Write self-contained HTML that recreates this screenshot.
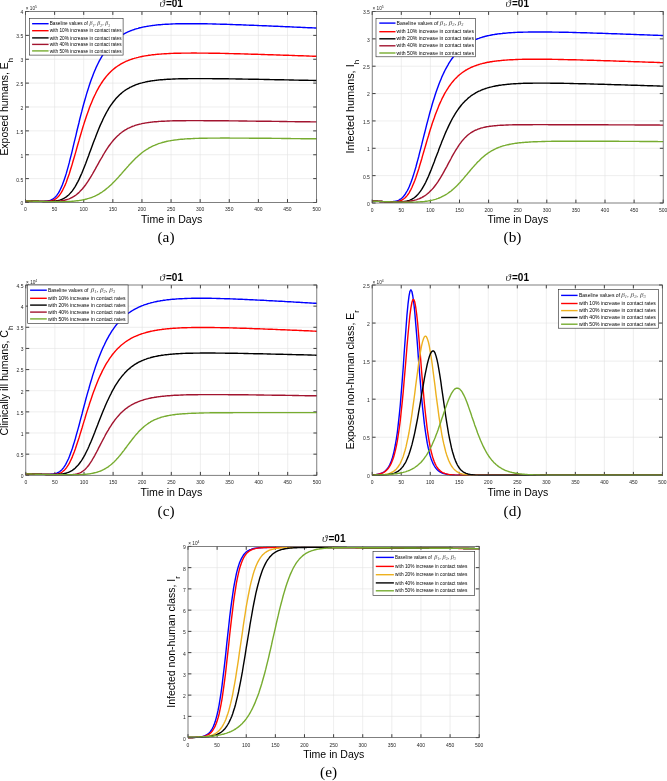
<!DOCTYPE html>
<html><head><meta charset="utf-8"><style>
html,body{margin:0;padding:0;background:#fff;}
svg{display:block;font-family:"Liberation Sans", sans-serif;}
body>svg{will-change:transform;}
</style></head><body>
<svg width="667" height="781" viewBox="0 0 667 781">
<rect width="667" height="781" fill="#fff"/>
<g><line x1="54.61" y1="11.50" x2="54.61" y2="202.50" stroke="#e2e2e2" stroke-width="0.6"/>
<line x1="83.72" y1="11.50" x2="83.72" y2="202.50" stroke="#e2e2e2" stroke-width="0.6"/>
<line x1="112.83" y1="11.50" x2="112.83" y2="202.50" stroke="#e2e2e2" stroke-width="0.6"/>
<line x1="141.94" y1="11.50" x2="141.94" y2="202.50" stroke="#e2e2e2" stroke-width="0.6"/>
<line x1="171.05" y1="11.50" x2="171.05" y2="202.50" stroke="#e2e2e2" stroke-width="0.6"/>
<line x1="200.16" y1="11.50" x2="200.16" y2="202.50" stroke="#e2e2e2" stroke-width="0.6"/>
<line x1="229.27" y1="11.50" x2="229.27" y2="202.50" stroke="#e2e2e2" stroke-width="0.6"/>
<line x1="258.38" y1="11.50" x2="258.38" y2="202.50" stroke="#e2e2e2" stroke-width="0.6"/>
<line x1="287.49" y1="11.50" x2="287.49" y2="202.50" stroke="#e2e2e2" stroke-width="0.6"/>
<line x1="25.50" y1="178.62" x2="316.60" y2="178.62" stroke="#e2e2e2" stroke-width="0.6"/>
<line x1="25.50" y1="154.75" x2="316.60" y2="154.75" stroke="#e2e2e2" stroke-width="0.6"/>
<line x1="25.50" y1="130.88" x2="316.60" y2="130.88" stroke="#e2e2e2" stroke-width="0.6"/>
<line x1="25.50" y1="107.00" x2="316.60" y2="107.00" stroke="#e2e2e2" stroke-width="0.6"/>
<line x1="25.50" y1="83.12" x2="316.60" y2="83.12" stroke="#e2e2e2" stroke-width="0.6"/>
<line x1="25.50" y1="59.25" x2="316.60" y2="59.25" stroke="#e2e2e2" stroke-width="0.6"/>
<line x1="25.50" y1="35.38" x2="316.60" y2="35.38" stroke="#e2e2e2" stroke-width="0.6"/>
<line x1="25.50" y1="202.50" x2="25.50" y2="199.10" stroke="#2a2a2a" stroke-width="0.9"/>
<line x1="25.50" y1="11.50" x2="25.50" y2="14.90" stroke="#2a2a2a" stroke-width="0.9"/>
<line x1="54.61" y1="202.50" x2="54.61" y2="199.10" stroke="#2a2a2a" stroke-width="0.9"/>
<line x1="54.61" y1="11.50" x2="54.61" y2="14.90" stroke="#2a2a2a" stroke-width="0.9"/>
<line x1="83.72" y1="202.50" x2="83.72" y2="199.10" stroke="#2a2a2a" stroke-width="0.9"/>
<line x1="83.72" y1="11.50" x2="83.72" y2="14.90" stroke="#2a2a2a" stroke-width="0.9"/>
<line x1="112.83" y1="202.50" x2="112.83" y2="199.10" stroke="#2a2a2a" stroke-width="0.9"/>
<line x1="112.83" y1="11.50" x2="112.83" y2="14.90" stroke="#2a2a2a" stroke-width="0.9"/>
<line x1="141.94" y1="202.50" x2="141.94" y2="199.10" stroke="#2a2a2a" stroke-width="0.9"/>
<line x1="141.94" y1="11.50" x2="141.94" y2="14.90" stroke="#2a2a2a" stroke-width="0.9"/>
<line x1="171.05" y1="202.50" x2="171.05" y2="199.10" stroke="#2a2a2a" stroke-width="0.9"/>
<line x1="171.05" y1="11.50" x2="171.05" y2="14.90" stroke="#2a2a2a" stroke-width="0.9"/>
<line x1="200.16" y1="202.50" x2="200.16" y2="199.10" stroke="#2a2a2a" stroke-width="0.9"/>
<line x1="200.16" y1="11.50" x2="200.16" y2="14.90" stroke="#2a2a2a" stroke-width="0.9"/>
<line x1="229.27" y1="202.50" x2="229.27" y2="199.10" stroke="#2a2a2a" stroke-width="0.9"/>
<line x1="229.27" y1="11.50" x2="229.27" y2="14.90" stroke="#2a2a2a" stroke-width="0.9"/>
<line x1="258.38" y1="202.50" x2="258.38" y2="199.10" stroke="#2a2a2a" stroke-width="0.9"/>
<line x1="258.38" y1="11.50" x2="258.38" y2="14.90" stroke="#2a2a2a" stroke-width="0.9"/>
<line x1="287.49" y1="202.50" x2="287.49" y2="199.10" stroke="#2a2a2a" stroke-width="0.9"/>
<line x1="287.49" y1="11.50" x2="287.49" y2="14.90" stroke="#2a2a2a" stroke-width="0.9"/>
<line x1="316.60" y1="202.50" x2="316.60" y2="199.10" stroke="#2a2a2a" stroke-width="0.9"/>
<line x1="316.60" y1="11.50" x2="316.60" y2="14.90" stroke="#2a2a2a" stroke-width="0.9"/>
<line x1="25.50" y1="202.50" x2="28.90" y2="202.50" stroke="#2a2a2a" stroke-width="0.9"/>
<line x1="316.60" y1="202.50" x2="313.20" y2="202.50" stroke="#2a2a2a" stroke-width="0.9"/>
<line x1="25.50" y1="178.62" x2="28.90" y2="178.62" stroke="#2a2a2a" stroke-width="0.9"/>
<line x1="316.60" y1="178.62" x2="313.20" y2="178.62" stroke="#2a2a2a" stroke-width="0.9"/>
<line x1="25.50" y1="154.75" x2="28.90" y2="154.75" stroke="#2a2a2a" stroke-width="0.9"/>
<line x1="316.60" y1="154.75" x2="313.20" y2="154.75" stroke="#2a2a2a" stroke-width="0.9"/>
<line x1="25.50" y1="130.88" x2="28.90" y2="130.88" stroke="#2a2a2a" stroke-width="0.9"/>
<line x1="316.60" y1="130.88" x2="313.20" y2="130.88" stroke="#2a2a2a" stroke-width="0.9"/>
<line x1="25.50" y1="107.00" x2="28.90" y2="107.00" stroke="#2a2a2a" stroke-width="0.9"/>
<line x1="316.60" y1="107.00" x2="313.20" y2="107.00" stroke="#2a2a2a" stroke-width="0.9"/>
<line x1="25.50" y1="83.12" x2="28.90" y2="83.12" stroke="#2a2a2a" stroke-width="0.9"/>
<line x1="316.60" y1="83.12" x2="313.20" y2="83.12" stroke="#2a2a2a" stroke-width="0.9"/>
<line x1="25.50" y1="59.25" x2="28.90" y2="59.25" stroke="#2a2a2a" stroke-width="0.9"/>
<line x1="316.60" y1="59.25" x2="313.20" y2="59.25" stroke="#2a2a2a" stroke-width="0.9"/>
<line x1="25.50" y1="35.38" x2="28.90" y2="35.38" stroke="#2a2a2a" stroke-width="0.9"/>
<line x1="316.60" y1="35.38" x2="313.20" y2="35.38" stroke="#2a2a2a" stroke-width="0.9"/>
<line x1="25.50" y1="11.50" x2="28.90" y2="11.50" stroke="#2a2a2a" stroke-width="0.9"/>
<line x1="316.60" y1="11.50" x2="313.20" y2="11.50" stroke="#2a2a2a" stroke-width="0.9"/>
<text x="25.50" y="211.40" font-size="5.0" text-anchor="middle" fill="#262626">0</text>
<text x="54.61" y="211.40" font-size="5.0" text-anchor="middle" fill="#262626">50</text>
<text x="83.72" y="211.40" font-size="5.0" text-anchor="middle" fill="#262626">100</text>
<text x="112.83" y="211.40" font-size="5.0" text-anchor="middle" fill="#262626">150</text>
<text x="141.94" y="211.40" font-size="5.0" text-anchor="middle" fill="#262626">200</text>
<text x="171.05" y="211.40" font-size="5.0" text-anchor="middle" fill="#262626">250</text>
<text x="200.16" y="211.40" font-size="5.0" text-anchor="middle" fill="#262626">300</text>
<text x="229.27" y="211.40" font-size="5.0" text-anchor="middle" fill="#262626">350</text>
<text x="258.38" y="211.40" font-size="5.0" text-anchor="middle" fill="#262626">400</text>
<text x="287.49" y="211.40" font-size="5.0" text-anchor="middle" fill="#262626">450</text>
<text x="316.60" y="211.40" font-size="5.0" text-anchor="middle" fill="#262626">500</text>
<text x="23.20" y="205.40" font-size="5.0" text-anchor="end" fill="#262626">0</text>
<text x="23.20" y="181.53" font-size="5.0" text-anchor="end" fill="#262626">0.5</text>
<text x="23.20" y="157.65" font-size="5.0" text-anchor="end" fill="#262626">1</text>
<text x="23.20" y="133.78" font-size="5.0" text-anchor="end" fill="#262626">1.5</text>
<text x="23.20" y="109.90" font-size="5.0" text-anchor="end" fill="#262626">2</text>
<text x="23.20" y="86.03" font-size="5.0" text-anchor="end" fill="#262626">2.5</text>
<text x="23.20" y="62.15" font-size="5.0" text-anchor="end" fill="#262626">3</text>
<text x="23.20" y="38.27" font-size="5.0" text-anchor="end" fill="#262626">3.5</text>
<text x="23.20" y="14.40" font-size="5.0" text-anchor="end" fill="#262626">4</text>
<text x="25.80" y="10.00" font-size="4.7" fill="#262626">× 10<tspan dy="-1.9" font-size="3.4">5</tspan></text>
<polyline points="25.5,200.8 26.5,200.9 27.4,200.9 28.4,201.0 29.4,201.0 30.4,201.0 31.3,201.1 32.3,201.1 33.3,201.2 34.2,201.2 35.2,201.2 36.2,201.3 37.1,201.3 38.1,201.3 39.1,201.4 40.1,201.4 41.0,201.4 42.0,201.4 43.0,201.4 43.9,201.4 44.9,201.3 45.9,201.2 46.8,201.1 47.8,201.0 48.8,200.8 49.8,200.5 50.7,200.2 51.7,199.7 52.7,199.2 53.6,198.5 54.6,197.7 55.6,196.8 56.6,195.6 57.5,194.3 58.5,192.9 59.5,191.2 60.4,189.3 61.4,187.1 62.4,184.8 63.3,182.3 64.3,179.5 65.3,176.5 66.3,173.4 67.2,170.1 68.2,166.6 69.2,162.9 70.1,159.2 71.1,155.3 72.1,151.3 73.0,147.3 74.0,143.2 75.0,139.2 76.0,135.1 76.9,131.0 77.9,127.0 78.9,123.0 79.8,119.0 80.8,115.1 81.8,111.4 82.7,107.7 83.7,104.0 84.7,100.5 85.7,97.1 86.6,93.9 87.6,90.7 88.6,87.6 89.5,84.7 90.5,81.8 91.5,79.1 92.5,76.5 93.4,74.0 94.4,71.6 95.4,69.3 96.3,67.1 97.3,65.0 98.3,63.0 99.2,61.1 100.2,59.3 101.2,57.6 102.2,55.9 103.1,54.3 104.1,52.8 105.1,51.4 106.0,50.0 107.0,48.7 108.0,47.5 108.9,46.3 109.9,45.2 110.9,44.1 111.9,43.1 112.8,42.2 113.8,41.2 114.8,40.4 115.7,39.5 116.7,38.7 117.7,38.0 118.7,37.3 119.6,36.6 120.6,35.9 121.6,35.3 122.5,34.7 123.5,34.2 124.5,33.6 125.4,33.1 126.4,32.6 127.4,32.2 128.4,31.7 129.3,31.3 130.3,30.9 131.3,30.5 132.2,30.2 133.2,29.8 134.2,29.5 135.1,29.2 136.1,28.9 137.1,28.6 138.1,28.3 139.0,28.0 140.0,27.8 141.0,27.6 141.9,27.3 142.9,27.1 143.9,26.9 144.9,26.7 145.8,26.6 146.8,26.4 147.8,26.2 148.7,26.1 149.7,25.9 150.7,25.8 151.6,25.6 152.6,25.5 153.6,25.4 154.6,25.3 155.5,25.1 156.5,25.0 157.5,24.9 158.4,24.8 159.4,24.8 160.4,24.7 161.3,24.6 162.3,24.5 163.3,24.4 164.3,24.4 165.2,24.3 166.2,24.3 167.2,24.2 168.1,24.2 169.1,24.1 170.1,24.1 171.1,24.0 172.0,24.0 173.0,23.9 174.0,23.9 174.9,23.9 175.9,23.8 176.9,23.8 177.8,23.8 178.8,23.8 179.8,23.8 180.8,23.7 181.7,23.7 182.7,23.7 183.7,23.7 184.6,23.7 185.6,23.7 186.6,23.7 187.5,23.7 188.5,23.7 189.5,23.7 190.5,23.7 191.4,23.7 192.4,23.7 193.4,23.7 194.3,23.7 195.3,23.7 196.3,23.7 197.2,23.7 198.2,23.7 199.2,23.7 200.2,23.7 201.1,23.7 202.1,23.8 203.1,23.8 204.0,23.8 205.0,23.8 206.0,23.8 207.0,23.8 207.9,23.9 208.9,23.9 209.9,23.9 210.8,23.9 211.8,23.9 212.8,24.0 213.7,24.0 214.7,24.0 215.7,24.0 216.7,24.1 217.6,24.1 218.6,24.1 219.6,24.1 220.5,24.2 221.5,24.2 222.5,24.2 223.4,24.3 224.4,24.3 225.4,24.3 226.4,24.3 227.3,24.4 228.3,24.4 229.3,24.4 230.2,24.5 231.2,24.5 232.2,24.5 233.2,24.6 234.1,24.6 235.1,24.6 236.1,24.7 237.0,24.7 238.0,24.7 239.0,24.8 239.9,24.8 240.9,24.8 241.9,24.9 242.9,24.9 243.8,25.0 244.8,25.0 245.8,25.0 246.7,25.1 247.7,25.1 248.7,25.1 249.6,25.2 250.6,25.2 251.6,25.2 252.6,25.3 253.5,25.3 254.5,25.4 255.5,25.4 256.4,25.4 257.4,25.5 258.4,25.5 259.4,25.6 260.3,25.6 261.3,25.6 262.3,25.7 263.2,25.7 264.2,25.8 265.2,25.8 266.1,25.8 267.1,25.9 268.1,25.9 269.1,26.0 270.0,26.0 271.0,26.0 272.0,26.1 272.9,26.1 273.9,26.2 274.9,26.2 275.8,26.3 276.8,26.3 277.8,26.3 278.8,26.4 279.7,26.4 280.7,26.5 281.7,26.5 282.6,26.5 283.6,26.6 284.6,26.6 285.5,26.7 286.5,26.7 287.5,26.8 288.5,26.8 289.4,26.8 290.4,26.9 291.4,26.9 292.3,27.0 293.3,27.0 294.3,27.1 295.3,27.1 296.2,27.1 297.2,27.2 298.2,27.2 299.1,27.3 300.1,27.3 301.1,27.4 302.0,27.4 303.0,27.5 304.0,27.5 305.0,27.5 305.9,27.6 306.9,27.6 307.9,27.7 308.8,27.7 309.8,27.8 310.8,27.8 311.7,27.8 312.7,27.9 313.7,27.9 314.7,28.0 315.6,28.0 316.6,28.1" fill="none" stroke="#0000ff" stroke-width="1.4" stroke-linejoin="round"/>
<polyline points="25.5,200.8 26.5,200.9 27.4,200.9 28.4,201.0 29.4,201.0 30.4,201.0 31.3,201.1 32.3,201.1 33.3,201.2 34.2,201.2 35.2,201.2 36.2,201.3 37.1,201.3 38.1,201.3 39.1,201.4 40.1,201.4 41.0,201.4 42.0,201.4 43.0,201.4 43.9,201.5 44.9,201.4 45.9,201.4 46.8,201.4 47.8,201.3 48.8,201.2 49.8,201.1 50.7,200.9 51.7,200.7 52.7,200.4 53.6,200.0 54.6,199.5 55.6,198.9 56.6,198.2 57.5,197.3 58.5,196.4 59.5,195.2 60.4,193.9 61.4,192.4 62.4,190.7 63.3,188.8 64.3,186.8 65.3,184.6 66.3,182.2 67.2,179.6 68.2,176.8 69.2,174.0 70.1,171.0 71.1,167.8 72.1,164.6 73.0,161.3 74.0,158.0 75.0,154.6 76.0,151.1 76.9,147.7 77.9,144.3 78.9,140.9 79.8,137.5 80.8,134.2 81.8,130.9 82.7,127.7 83.7,124.6 84.7,121.5 85.7,118.5 86.6,115.7 87.6,112.9 88.6,110.2 89.5,107.6 90.5,105.1 91.5,102.7 92.5,100.3 93.4,98.1 94.4,96.0 95.4,94.0 96.3,92.0 97.3,90.2 98.3,88.4 99.2,86.7 100.2,85.1 101.2,83.5 102.2,82.0 103.1,80.6 104.1,79.3 105.1,78.0 106.0,76.8 107.0,75.6 108.0,74.5 108.9,73.5 109.9,72.5 110.9,71.5 111.9,70.6 112.8,69.8 113.8,68.9 114.8,68.1 115.7,67.4 116.7,66.7 117.7,66.0 118.7,65.4 119.6,64.8 120.6,64.2 121.6,63.6 122.5,63.1 123.5,62.6 124.5,62.1 125.4,61.7 126.4,61.2 127.4,60.8 128.4,60.4 129.3,60.0 130.3,59.7 131.3,59.3 132.2,59.0 133.2,58.7 134.2,58.4 135.1,58.1 136.1,57.9 137.1,57.6 138.1,57.4 139.0,57.1 140.0,56.9 141.0,56.7 141.9,56.5 142.9,56.3 143.9,56.1 144.9,55.9 145.8,55.8 146.8,55.6 147.8,55.5 148.7,55.3 149.7,55.2 150.7,55.1 151.6,54.9 152.6,54.8 153.6,54.7 154.6,54.6 155.5,54.5 156.5,54.4 157.5,54.3 158.4,54.2 159.4,54.1 160.4,54.1 161.3,54.0 162.3,53.9 163.3,53.9 164.3,53.8 165.2,53.7 166.2,53.7 167.2,53.6 168.1,53.6 169.1,53.5 170.1,53.5 171.1,53.4 172.0,53.4 173.0,53.4 174.0,53.3 174.9,53.3 175.9,53.3 176.9,53.2 177.8,53.2 178.8,53.2 179.8,53.2 180.8,53.2 181.7,53.1 182.7,53.1 183.7,53.1 184.6,53.1 185.6,53.1 186.6,53.1 187.5,53.1 188.5,53.1 189.5,53.1 190.5,53.1 191.4,53.0 192.4,53.0 193.4,53.0 194.3,53.0 195.3,53.0 196.3,53.0 197.2,53.1 198.2,53.1 199.2,53.1 200.2,53.1 201.1,53.1 202.1,53.1 203.1,53.1 204.0,53.1 205.0,53.1 206.0,53.1 207.0,53.1 207.9,53.1 208.9,53.2 209.9,53.2 210.8,53.2 211.8,53.2 212.8,53.2 213.7,53.2 214.7,53.2 215.7,53.3 216.7,53.3 217.6,53.3 218.6,53.3 219.6,53.3 220.5,53.4 221.5,53.4 222.5,53.4 223.4,53.4 224.4,53.4 225.4,53.5 226.4,53.5 227.3,53.5 228.3,53.5 229.3,53.6 230.2,53.6 231.2,53.6 232.2,53.6 233.2,53.6 234.1,53.7 235.1,53.7 236.1,53.7 237.0,53.7 238.0,53.8 239.0,53.8 239.9,53.8 240.9,53.9 241.9,53.9 242.9,53.9 243.8,53.9 244.8,54.0 245.8,54.0 246.7,54.0 247.7,54.0 248.7,54.1 249.6,54.1 250.6,54.1 251.6,54.2 252.6,54.2 253.5,54.2 254.5,54.2 255.5,54.3 256.4,54.3 257.4,54.3 258.4,54.4 259.4,54.4 260.3,54.4 261.3,54.5 262.3,54.5 263.2,54.5 264.2,54.5 265.2,54.6 266.1,54.6 267.1,54.6 268.1,54.7 269.1,54.7 270.0,54.7 271.0,54.8 272.0,54.8 272.9,54.8 273.9,54.9 274.9,54.9 275.8,54.9 276.8,55.0 277.8,55.0 278.8,55.0 279.7,55.0 280.7,55.1 281.7,55.1 282.6,55.1 283.6,55.2 284.6,55.2 285.5,55.2 286.5,55.3 287.5,55.3 288.5,55.3 289.4,55.4 290.4,55.4 291.4,55.4 292.3,55.5 293.3,55.5 294.3,55.5 295.3,55.6 296.2,55.6 297.2,55.6 298.2,55.7 299.1,55.7 300.1,55.7 301.1,55.8 302.0,55.8 303.0,55.8 304.0,55.9 305.0,55.9 305.9,55.9 306.9,56.0 307.9,56.0 308.8,56.0 309.8,56.1 310.8,56.1 311.7,56.1 312.7,56.2 313.7,56.2 314.7,56.2 315.6,56.3 316.6,56.3" fill="none" stroke="#ff0000" stroke-width="1.4" stroke-linejoin="round"/>
<polyline points="25.5,200.8 26.5,200.9 27.4,200.9 28.4,201.0 29.4,201.0 30.4,201.0 31.3,201.1 32.3,201.1 33.3,201.2 34.2,201.2 35.2,201.2 36.2,201.3 37.1,201.3 38.1,201.3 39.1,201.4 40.1,201.4 41.0,201.4 42.0,201.4 43.0,201.5 43.9,201.5 44.9,201.5 45.9,201.5 46.8,201.5 47.8,201.5 48.8,201.5 49.8,201.5 50.7,201.4 51.7,201.4 52.7,201.3 53.6,201.2 54.6,201.1 55.6,201.0 56.6,200.8 57.5,200.6 58.5,200.4 59.5,200.2 60.4,199.9 61.4,199.5 62.4,199.1 63.3,198.6 64.3,198.1 65.3,197.5 66.3,196.9 67.2,196.1 68.2,195.3 69.2,194.4 70.1,193.4 71.1,192.3 72.1,191.1 73.0,189.8 74.0,188.3 75.0,186.8 76.0,185.2 76.9,183.4 77.9,181.6 78.9,179.6 79.8,177.6 80.8,175.4 81.8,173.2 82.7,170.9 83.7,168.5 84.7,166.0 85.7,163.5 86.6,160.9 87.6,158.3 88.6,155.7 89.5,153.1 90.5,150.4 91.5,147.8 92.5,145.1 93.4,142.5 94.4,139.9 95.4,137.4 96.3,134.9 97.3,132.4 98.3,130.0 99.2,127.7 100.2,125.4 101.2,123.2 102.2,121.1 103.1,119.0 104.1,117.0 105.1,115.1 106.0,113.3 107.0,111.5 108.0,109.8 108.9,108.2 109.9,106.7 110.9,105.2 111.9,103.8 112.8,102.5 113.8,101.2 114.8,100.0 115.7,98.8 116.7,97.7 117.7,96.7 118.7,95.7 119.6,94.8 120.6,93.9 121.6,93.1 122.5,92.3 123.5,91.5 124.5,90.8 125.4,90.1 126.4,89.5 127.4,88.9 128.4,88.3 129.3,87.8 130.3,87.2 131.3,86.8 132.2,86.3 133.2,85.9 134.2,85.5 135.1,85.1 136.1,84.7 137.1,84.3 138.1,84.0 139.0,83.7 140.0,83.4 141.0,83.1 141.9,82.9 142.9,82.6 143.9,82.4 144.9,82.2 145.8,81.9 146.8,81.7 147.8,81.5 148.7,81.4 149.7,81.2 150.7,81.0 151.6,80.9 152.6,80.7 153.6,80.6 154.6,80.5 155.5,80.4 156.5,80.2 157.5,80.1 158.4,80.0 159.4,79.9 160.4,79.8 161.3,79.8 162.3,79.7 163.3,79.6 164.3,79.5 165.2,79.5 166.2,79.4 167.2,79.3 168.1,79.3 169.1,79.2 170.1,79.2 171.1,79.1 172.0,79.1 173.0,79.0 174.0,79.0 174.9,79.0 175.9,78.9 176.9,78.9 177.8,78.9 178.8,78.8 179.8,78.8 180.8,78.8 181.7,78.8 182.7,78.7 183.7,78.7 184.6,78.7 185.6,78.7 186.6,78.7 187.5,78.7 188.5,78.6 189.5,78.6 190.5,78.6 191.4,78.6 192.4,78.6 193.4,78.6 194.3,78.6 195.3,78.6 196.3,78.6 197.2,78.6 198.2,78.6 199.2,78.6 200.2,78.6 201.1,78.6 202.1,78.6 203.1,78.6 204.0,78.6 205.0,78.6 206.0,78.6 207.0,78.6 207.9,78.6 208.9,78.6 209.9,78.6 210.8,78.6 211.8,78.6 212.8,78.7 213.7,78.7 214.7,78.7 215.7,78.7 216.7,78.7 217.6,78.7 218.6,78.7 219.6,78.7 220.5,78.7 221.5,78.7 222.5,78.8 223.4,78.8 224.4,78.8 225.4,78.8 226.4,78.8 227.3,78.8 228.3,78.8 229.3,78.9 230.2,78.9 231.2,78.9 232.2,78.9 233.2,78.9 234.1,78.9 235.1,78.9 236.1,79.0 237.0,79.0 238.0,79.0 239.0,79.0 239.9,79.0 240.9,79.0 241.9,79.0 242.9,79.1 243.8,79.1 244.8,79.1 245.8,79.1 246.7,79.1 247.7,79.1 248.7,79.2 249.6,79.2 250.6,79.2 251.6,79.2 252.6,79.2 253.5,79.3 254.5,79.3 255.5,79.3 256.4,79.3 257.4,79.3 258.4,79.3 259.4,79.4 260.3,79.4 261.3,79.4 262.3,79.4 263.2,79.4 264.2,79.5 265.2,79.5 266.1,79.5 267.1,79.5 268.1,79.5 269.1,79.5 270.0,79.6 271.0,79.6 272.0,79.6 272.9,79.6 273.9,79.6 274.9,79.7 275.8,79.7 276.8,79.7 277.8,79.7 278.8,79.7 279.7,79.8 280.7,79.8 281.7,79.8 282.6,79.8 283.6,79.8 284.6,79.9 285.5,79.9 286.5,79.9 287.5,79.9 288.5,79.9 289.4,80.0 290.4,80.0 291.4,80.0 292.3,80.0 293.3,80.0 294.3,80.1 295.3,80.1 296.2,80.1 297.2,80.1 298.2,80.1 299.1,80.2 300.1,80.2 301.1,80.2 302.0,80.2 303.0,80.2 304.0,80.3 305.0,80.3 305.9,80.3 306.9,80.3 307.9,80.3 308.8,80.4 309.8,80.4 310.8,80.4 311.7,80.4 312.7,80.4 313.7,80.5 314.7,80.5 315.6,80.5 316.6,80.5" fill="none" stroke="#000000" stroke-width="1.4" stroke-linejoin="round"/>
<polyline points="25.5,200.8 26.5,200.9 27.4,200.9 28.4,201.0 29.4,201.0 30.4,201.0 31.3,201.1 32.3,201.1 33.3,201.2 34.2,201.2 35.2,201.2 36.2,201.3 37.1,201.3 38.1,201.3 39.1,201.4 40.1,201.4 41.0,201.4 42.0,201.4 43.0,201.5 43.9,201.5 44.9,201.5 45.9,201.5 46.8,201.5 47.8,201.5 48.8,201.5 49.8,201.5 50.7,201.5 51.7,201.5 52.7,201.5 53.6,201.5 54.6,201.4 55.6,201.4 56.6,201.3 57.5,201.3 58.5,201.2 59.5,201.1 60.4,201.0 61.4,200.8 62.4,200.7 63.3,200.5 64.3,200.3 65.3,200.0 66.3,199.8 67.2,199.5 68.2,199.2 69.2,198.8 70.1,198.4 71.1,197.9 72.1,197.5 73.0,196.9 74.0,196.3 75.0,195.7 76.0,195.0 76.9,194.2 77.9,193.4 78.9,192.6 79.8,191.6 80.8,190.6 81.8,189.6 82.7,188.5 83.7,187.3 84.7,186.0 85.7,184.7 86.6,183.3 87.6,181.9 88.6,180.4 89.5,178.9 90.5,177.3 91.5,175.7 92.5,174.0 93.4,172.3 94.4,170.6 95.4,168.9 96.3,167.1 97.3,165.4 98.3,163.6 99.2,161.9 100.2,160.2 101.2,158.5 102.2,156.8 103.1,155.1 104.1,153.5 105.1,151.9 106.0,150.4 107.0,148.9 108.0,147.4 108.9,146.0 109.9,144.7 110.9,143.4 111.9,142.1 112.8,141.0 113.8,139.8 114.8,138.7 115.7,137.7 116.7,136.7 117.7,135.8 118.7,134.9 119.6,134.0 120.6,133.2 121.6,132.5 122.5,131.8 123.5,131.1 124.5,130.4 125.4,129.8 126.4,129.3 127.4,128.7 128.4,128.2 129.3,127.8 130.3,127.3 131.3,126.9 132.2,126.5 133.2,126.1 134.2,125.8 135.1,125.4 136.1,125.1 137.1,124.8 138.1,124.6 139.0,124.3 140.0,124.1 141.0,123.9 141.9,123.6 142.9,123.4 143.9,123.3 144.9,123.1 145.8,122.9 146.8,122.8 147.8,122.6 148.7,122.5 149.7,122.4 150.7,122.2 151.6,122.1 152.6,122.0 153.6,121.9 154.6,121.8 155.5,121.7 156.5,121.7 157.5,121.6 158.4,121.5 159.4,121.4 160.4,121.4 161.3,121.3 162.3,121.3 163.3,121.2 164.3,121.2 165.2,121.1 166.2,121.1 167.2,121.0 168.1,121.0 169.1,121.0 170.1,120.9 171.1,120.9 172.0,120.9 173.0,120.8 174.0,120.8 174.9,120.8 175.9,120.8 176.9,120.8 177.8,120.7 178.8,120.7 179.8,120.7 180.8,120.7 181.7,120.7 182.7,120.7 183.7,120.7 184.6,120.7 185.6,120.7 186.6,120.6 187.5,120.6 188.5,120.6 189.5,120.6 190.5,120.6 191.4,120.6 192.4,120.6 193.4,120.6 194.3,120.6 195.3,120.6 196.3,120.6 197.2,120.6 198.2,120.6 199.2,120.6 200.2,120.6 201.1,120.6 202.1,120.6 203.1,120.6 204.0,120.7 205.0,120.7 206.0,120.7 207.0,120.7 207.9,120.7 208.9,120.7 209.9,120.7 210.8,120.7 211.8,120.7 212.8,120.7 213.7,120.7 214.7,120.7 215.7,120.7 216.7,120.7 217.6,120.7 218.6,120.8 219.6,120.8 220.5,120.8 221.5,120.8 222.5,120.8 223.4,120.8 224.4,120.8 225.4,120.8 226.4,120.8 227.3,120.8 228.3,120.8 229.3,120.9 230.2,120.9 231.2,120.9 232.2,120.9 233.2,120.9 234.1,120.9 235.1,120.9 236.1,120.9 237.0,120.9 238.0,120.9 239.0,121.0 239.9,121.0 240.9,121.0 241.9,121.0 242.9,121.0 243.8,121.0 244.8,121.0 245.8,121.0 246.7,121.0 247.7,121.1 248.7,121.1 249.6,121.1 250.6,121.1 251.6,121.1 252.6,121.1 253.5,121.1 254.5,121.1 255.5,121.1 256.4,121.2 257.4,121.2 258.4,121.2 259.4,121.2 260.3,121.2 261.3,121.2 262.3,121.2 263.2,121.2 264.2,121.3 265.2,121.3 266.1,121.3 267.1,121.3 268.1,121.3 269.1,121.3 270.0,121.3 271.0,121.3 272.0,121.4 272.9,121.4 273.9,121.4 274.9,121.4 275.8,121.4 276.8,121.4 277.8,121.4 278.8,121.4 279.7,121.5 280.7,121.5 281.7,121.5 282.6,121.5 283.6,121.5 284.6,121.5 285.5,121.5 286.5,121.5 287.5,121.6 288.5,121.6 289.4,121.6 290.4,121.6 291.4,121.6 292.3,121.6 293.3,121.6 294.3,121.6 295.3,121.7 296.2,121.7 297.2,121.7 298.2,121.7 299.1,121.7 300.1,121.7 301.1,121.7 302.0,121.7 303.0,121.8 304.0,121.8 305.0,121.8 305.9,121.8 306.9,121.8 307.9,121.8 308.8,121.8 309.8,121.8 310.8,121.9 311.7,121.9 312.7,121.9 313.7,121.9 314.7,121.9 315.6,121.9 316.6,121.9" fill="none" stroke="#a2142f" stroke-width="1.4" stroke-linejoin="round"/>
<polyline points="25.5,200.8 26.5,200.9 27.4,200.9 28.4,201.0 29.4,201.0 30.4,201.0 31.3,201.1 32.3,201.1 33.3,201.2 34.2,201.2 35.2,201.2 36.2,201.3 37.1,201.3 38.1,201.3 39.1,201.4 40.1,201.4 41.0,201.4 42.0,201.5 43.0,201.5 43.9,201.5 44.9,201.5 45.9,201.6 46.8,201.6 47.8,201.6 48.8,201.6 49.8,201.6 50.7,201.7 51.7,201.7 52.7,201.7 53.6,201.7 54.6,201.7 55.6,201.7 56.6,201.7 57.5,201.7 58.5,201.7 59.5,201.7 60.4,201.7 61.4,201.7 62.4,201.7 63.3,201.7 64.3,201.7 65.3,201.6 66.3,201.6 67.2,201.6 68.2,201.5 69.2,201.5 70.1,201.4 71.1,201.4 72.1,201.3 73.0,201.2 74.0,201.1 75.0,201.0 76.0,200.9 76.9,200.8 77.9,200.7 78.9,200.6 79.8,200.4 80.8,200.3 81.8,200.1 82.7,199.9 83.7,199.7 84.7,199.5 85.7,199.2 86.6,199.0 87.6,198.7 88.6,198.4 89.5,198.1 90.5,197.8 91.5,197.5 92.5,197.1 93.4,196.7 94.4,196.3 95.4,195.8 96.3,195.4 97.3,194.9 98.3,194.3 99.2,193.8 100.2,193.2 101.2,192.6 102.2,192.0 103.1,191.3 104.1,190.6 105.1,189.9 106.0,189.1 107.0,188.3 108.0,187.5 108.9,186.7 109.9,185.8 110.9,184.9 111.9,184.0 112.8,183.0 113.8,182.1 114.8,181.1 115.7,180.1 116.7,179.0 117.7,178.0 118.7,176.9 119.6,175.8 120.6,174.7 121.6,173.6 122.5,172.5 123.5,171.4 124.5,170.3 125.4,169.2 126.4,168.1 127.4,167.0 128.4,165.9 129.3,164.8 130.3,163.8 131.3,162.7 132.2,161.7 133.2,160.7 134.2,159.7 135.1,158.8 136.1,157.8 137.1,156.9 138.1,156.0 139.0,155.2 140.0,154.4 141.0,153.6 141.9,152.8 142.9,152.0 143.9,151.3 144.9,150.6 145.8,150.0 146.8,149.4 147.8,148.8 148.7,148.2 149.7,147.6 150.7,147.1 151.6,146.6 152.6,146.1 153.6,145.7 154.6,145.3 155.5,144.8 156.5,144.5 157.5,144.1 158.4,143.7 159.4,143.4 160.4,143.1 161.3,142.8 162.3,142.5 163.3,142.3 164.3,142.0 165.2,141.8 166.2,141.5 167.2,141.3 168.1,141.1 169.1,140.9 170.1,140.8 171.1,140.6 172.0,140.4 173.0,140.3 174.0,140.1 174.9,140.0 175.9,139.9 176.9,139.8 177.8,139.6 178.8,139.5 179.8,139.4 180.8,139.3 181.7,139.3 182.7,139.2 183.7,139.1 184.6,139.0 185.6,138.9 186.6,138.9 187.5,138.8 188.5,138.8 189.5,138.7 190.5,138.7 191.4,138.6 192.4,138.6 193.4,138.5 194.3,138.5 195.3,138.4 196.3,138.4 197.2,138.4 198.2,138.4 199.2,138.3 200.2,138.3 201.1,138.3 202.1,138.2 203.1,138.2 204.0,138.2 205.0,138.2 206.0,138.2 207.0,138.2 207.9,138.1 208.9,138.1 209.9,138.1 210.8,138.1 211.8,138.1 212.8,138.1 213.7,138.1 214.7,138.1 215.7,138.1 216.7,138.1 217.6,138.1 218.6,138.1 219.6,138.1 220.5,138.0 221.5,138.0 222.5,138.0 223.4,138.0 224.4,138.0 225.4,138.0 226.4,138.0 227.3,138.0 228.3,138.0 229.3,138.0 230.2,138.1 231.2,138.1 232.2,138.1 233.2,138.1 234.1,138.1 235.1,138.1 236.1,138.1 237.0,138.1 238.0,138.1 239.0,138.1 239.9,138.1 240.9,138.1 241.9,138.1 242.9,138.1 243.8,138.1 244.8,138.1 245.8,138.1 246.7,138.1 247.7,138.1 248.7,138.1 249.6,138.2 250.6,138.2 251.6,138.2 252.6,138.2 253.5,138.2 254.5,138.2 255.5,138.2 256.4,138.2 257.4,138.2 258.4,138.2 259.4,138.2 260.3,138.2 261.3,138.3 262.3,138.3 263.2,138.3 264.2,138.3 265.2,138.3 266.1,138.3 267.1,138.3 268.1,138.3 269.1,138.3 270.0,138.3 271.0,138.3 272.0,138.4 272.9,138.4 273.9,138.4 274.9,138.4 275.8,138.4 276.8,138.4 277.8,138.4 278.8,138.4 279.7,138.4 280.7,138.4 281.7,138.5 282.6,138.5 283.6,138.5 284.6,138.5 285.5,138.5 286.5,138.5 287.5,138.5 288.5,138.5 289.4,138.5 290.4,138.5 291.4,138.6 292.3,138.6 293.3,138.6 294.3,138.6 295.3,138.6 296.2,138.6 297.2,138.6 298.2,138.6 299.1,138.6 300.1,138.6 301.1,138.7 302.0,138.7 303.0,138.7 304.0,138.7 305.0,138.7 305.9,138.7 306.9,138.7 307.9,138.7 308.8,138.7 309.8,138.8 310.8,138.8 311.7,138.8 312.7,138.8 313.7,138.8 314.7,138.8 315.6,138.8 316.6,138.8" fill="none" stroke="#77ac30" stroke-width="1.4" stroke-linejoin="round"/>
<rect x="25.50" y="11.50" width="291.10" height="191.00" fill="none" stroke="#555555" stroke-width="0.75"/>
<rect x="29.4" y="18.4" width="93.70" height="36.70" fill="#fff" stroke="#262626" stroke-width="0.6"/>
<line x1="32.1" y1="23.7" x2="48.6" y2="23.7" stroke="#0000ff" stroke-width="1.4"/>
<text x="49.7" y="25.30" font-size="4.7" fill="#000" textLength="38.20" lengthAdjust="spacingAndGlyphs">Baseline values of</text>
<text x="89.5" y="25.30" font-size="5.40" fill="#444" font-family='"Liberation Serif", serif' font-style="italic" textLength="20.60" lengthAdjust="spacingAndGlyphs">β<tspan font-size="3.35" dy="1.35">1</tspan><tspan dy="-1.35">, β</tspan><tspan font-size="3.35" dy="1.35">2</tspan><tspan dy="-1.35">, β</tspan><tspan font-size="3.35" dy="1.35">3</tspan></text>
<line x1="32.1" y1="30.7" x2="48.6" y2="30.7" stroke="#ff0000" stroke-width="1.4"/>
<text x="49.7" y="32.30" font-size="4.7" fill="#000" textLength="71.90" lengthAdjust="spacingAndGlyphs">with 10% increase in contact rates</text>
<line x1="32.1" y1="37.9" x2="48.6" y2="37.9" stroke="#000000" stroke-width="1.4"/>
<text x="49.7" y="39.50" font-size="4.7" fill="#000" textLength="71.90" lengthAdjust="spacingAndGlyphs">with 20% increase in contact rates</text>
<line x1="32.1" y1="44.4" x2="48.6" y2="44.4" stroke="#a2142f" stroke-width="1.4"/>
<text x="49.7" y="46.00" font-size="4.7" fill="#000" textLength="71.90" lengthAdjust="spacingAndGlyphs">with 40% increase in contact rates</text>
<line x1="32.1" y1="50.9" x2="48.6" y2="50.9" stroke="#77ac30" stroke-width="1.4"/>
<text x="49.7" y="52.50" font-size="4.7" fill="#000" textLength="71.90" lengthAdjust="spacingAndGlyphs">with 50% increase in contact rates</text>
<text x="159.55" y="7.00" font-size="11.2" fill="#333" font-family='"Liberation Serif", serif' font-style="italic">ϑ</text>
<text x="165.95" y="7.00" font-size="10" font-weight="bold" fill="#000">=01</text>
<text x="141.00" y="222.90" font-size="10.5" fill="#000" textLength="61.20" lengthAdjust="spacingAndGlyphs">Time in Days</text>
<text transform="translate(7.90,155.60) rotate(-90)" x="0" y="0" font-size="10.6" fill="#000" textLength="97.70" lengthAdjust="spacingAndGlyphs">Exposed humans, E<tspan font-size="7.8" dy="4.9">h</tspan></text>
<text x="166.00" y="242.20" font-size="15.3" text-anchor="middle" font-family='"Liberation Serif", serif' fill="#000">(a)</text></g>
<g><line x1="401.30" y1="11.50" x2="401.30" y2="203.00" stroke="#e2e2e2" stroke-width="0.6"/>
<line x1="430.40" y1="11.50" x2="430.40" y2="203.00" stroke="#e2e2e2" stroke-width="0.6"/>
<line x1="459.50" y1="11.50" x2="459.50" y2="203.00" stroke="#e2e2e2" stroke-width="0.6"/>
<line x1="488.60" y1="11.50" x2="488.60" y2="203.00" stroke="#e2e2e2" stroke-width="0.6"/>
<line x1="517.70" y1="11.50" x2="517.70" y2="203.00" stroke="#e2e2e2" stroke-width="0.6"/>
<line x1="546.80" y1="11.50" x2="546.80" y2="203.00" stroke="#e2e2e2" stroke-width="0.6"/>
<line x1="575.90" y1="11.50" x2="575.90" y2="203.00" stroke="#e2e2e2" stroke-width="0.6"/>
<line x1="605.00" y1="11.50" x2="605.00" y2="203.00" stroke="#e2e2e2" stroke-width="0.6"/>
<line x1="634.10" y1="11.50" x2="634.10" y2="203.00" stroke="#e2e2e2" stroke-width="0.6"/>
<line x1="372.20" y1="175.64" x2="663.20" y2="175.64" stroke="#e2e2e2" stroke-width="0.6"/>
<line x1="372.20" y1="148.29" x2="663.20" y2="148.29" stroke="#e2e2e2" stroke-width="0.6"/>
<line x1="372.20" y1="120.93" x2="663.20" y2="120.93" stroke="#e2e2e2" stroke-width="0.6"/>
<line x1="372.20" y1="93.57" x2="663.20" y2="93.57" stroke="#e2e2e2" stroke-width="0.6"/>
<line x1="372.20" y1="66.21" x2="663.20" y2="66.21" stroke="#e2e2e2" stroke-width="0.6"/>
<line x1="372.20" y1="38.86" x2="663.20" y2="38.86" stroke="#e2e2e2" stroke-width="0.6"/>
<line x1="372.20" y1="203.00" x2="372.20" y2="199.60" stroke="#2a2a2a" stroke-width="0.9"/>
<line x1="372.20" y1="11.50" x2="372.20" y2="14.90" stroke="#2a2a2a" stroke-width="0.9"/>
<line x1="401.30" y1="203.00" x2="401.30" y2="199.60" stroke="#2a2a2a" stroke-width="0.9"/>
<line x1="401.30" y1="11.50" x2="401.30" y2="14.90" stroke="#2a2a2a" stroke-width="0.9"/>
<line x1="430.40" y1="203.00" x2="430.40" y2="199.60" stroke="#2a2a2a" stroke-width="0.9"/>
<line x1="430.40" y1="11.50" x2="430.40" y2="14.90" stroke="#2a2a2a" stroke-width="0.9"/>
<line x1="459.50" y1="203.00" x2="459.50" y2="199.60" stroke="#2a2a2a" stroke-width="0.9"/>
<line x1="459.50" y1="11.50" x2="459.50" y2="14.90" stroke="#2a2a2a" stroke-width="0.9"/>
<line x1="488.60" y1="203.00" x2="488.60" y2="199.60" stroke="#2a2a2a" stroke-width="0.9"/>
<line x1="488.60" y1="11.50" x2="488.60" y2="14.90" stroke="#2a2a2a" stroke-width="0.9"/>
<line x1="517.70" y1="203.00" x2="517.70" y2="199.60" stroke="#2a2a2a" stroke-width="0.9"/>
<line x1="517.70" y1="11.50" x2="517.70" y2="14.90" stroke="#2a2a2a" stroke-width="0.9"/>
<line x1="546.80" y1="203.00" x2="546.80" y2="199.60" stroke="#2a2a2a" stroke-width="0.9"/>
<line x1="546.80" y1="11.50" x2="546.80" y2="14.90" stroke="#2a2a2a" stroke-width="0.9"/>
<line x1="575.90" y1="203.00" x2="575.90" y2="199.60" stroke="#2a2a2a" stroke-width="0.9"/>
<line x1="575.90" y1="11.50" x2="575.90" y2="14.90" stroke="#2a2a2a" stroke-width="0.9"/>
<line x1="605.00" y1="203.00" x2="605.00" y2="199.60" stroke="#2a2a2a" stroke-width="0.9"/>
<line x1="605.00" y1="11.50" x2="605.00" y2="14.90" stroke="#2a2a2a" stroke-width="0.9"/>
<line x1="634.10" y1="203.00" x2="634.10" y2="199.60" stroke="#2a2a2a" stroke-width="0.9"/>
<line x1="634.10" y1="11.50" x2="634.10" y2="14.90" stroke="#2a2a2a" stroke-width="0.9"/>
<line x1="663.20" y1="203.00" x2="663.20" y2="199.60" stroke="#2a2a2a" stroke-width="0.9"/>
<line x1="663.20" y1="11.50" x2="663.20" y2="14.90" stroke="#2a2a2a" stroke-width="0.9"/>
<line x1="372.20" y1="203.00" x2="375.60" y2="203.00" stroke="#2a2a2a" stroke-width="0.9"/>
<line x1="663.20" y1="203.00" x2="659.80" y2="203.00" stroke="#2a2a2a" stroke-width="0.9"/>
<line x1="372.20" y1="175.64" x2="375.60" y2="175.64" stroke="#2a2a2a" stroke-width="0.9"/>
<line x1="663.20" y1="175.64" x2="659.80" y2="175.64" stroke="#2a2a2a" stroke-width="0.9"/>
<line x1="372.20" y1="148.29" x2="375.60" y2="148.29" stroke="#2a2a2a" stroke-width="0.9"/>
<line x1="663.20" y1="148.29" x2="659.80" y2="148.29" stroke="#2a2a2a" stroke-width="0.9"/>
<line x1="372.20" y1="120.93" x2="375.60" y2="120.93" stroke="#2a2a2a" stroke-width="0.9"/>
<line x1="663.20" y1="120.93" x2="659.80" y2="120.93" stroke="#2a2a2a" stroke-width="0.9"/>
<line x1="372.20" y1="93.57" x2="375.60" y2="93.57" stroke="#2a2a2a" stroke-width="0.9"/>
<line x1="663.20" y1="93.57" x2="659.80" y2="93.57" stroke="#2a2a2a" stroke-width="0.9"/>
<line x1="372.20" y1="66.21" x2="375.60" y2="66.21" stroke="#2a2a2a" stroke-width="0.9"/>
<line x1="663.20" y1="66.21" x2="659.80" y2="66.21" stroke="#2a2a2a" stroke-width="0.9"/>
<line x1="372.20" y1="38.86" x2="375.60" y2="38.86" stroke="#2a2a2a" stroke-width="0.9"/>
<line x1="663.20" y1="38.86" x2="659.80" y2="38.86" stroke="#2a2a2a" stroke-width="0.9"/>
<line x1="372.20" y1="11.50" x2="375.60" y2="11.50" stroke="#2a2a2a" stroke-width="0.9"/>
<line x1="663.20" y1="11.50" x2="659.80" y2="11.50" stroke="#2a2a2a" stroke-width="0.9"/>
<text x="372.20" y="211.90" font-size="5.0" text-anchor="middle" fill="#262626">0</text>
<text x="401.30" y="211.90" font-size="5.0" text-anchor="middle" fill="#262626">50</text>
<text x="430.40" y="211.90" font-size="5.0" text-anchor="middle" fill="#262626">100</text>
<text x="459.50" y="211.90" font-size="5.0" text-anchor="middle" fill="#262626">150</text>
<text x="488.60" y="211.90" font-size="5.0" text-anchor="middle" fill="#262626">200</text>
<text x="517.70" y="211.90" font-size="5.0" text-anchor="middle" fill="#262626">250</text>
<text x="546.80" y="211.90" font-size="5.0" text-anchor="middle" fill="#262626">300</text>
<text x="575.90" y="211.90" font-size="5.0" text-anchor="middle" fill="#262626">350</text>
<text x="605.00" y="211.90" font-size="5.0" text-anchor="middle" fill="#262626">400</text>
<text x="634.10" y="211.90" font-size="5.0" text-anchor="middle" fill="#262626">450</text>
<text x="663.20" y="211.90" font-size="5.0" text-anchor="middle" fill="#262626">500</text>
<text x="369.90" y="205.90" font-size="5.0" text-anchor="end" fill="#262626">0</text>
<text x="369.90" y="178.54" font-size="5.0" text-anchor="end" fill="#262626">0.5</text>
<text x="369.90" y="151.19" font-size="5.0" text-anchor="end" fill="#262626">1</text>
<text x="369.90" y="123.83" font-size="5.0" text-anchor="end" fill="#262626">1.5</text>
<text x="369.90" y="96.47" font-size="5.0" text-anchor="end" fill="#262626">2</text>
<text x="369.90" y="69.11" font-size="5.0" text-anchor="end" fill="#262626">2.5</text>
<text x="369.90" y="41.76" font-size="5.0" text-anchor="end" fill="#262626">3</text>
<text x="369.90" y="14.40" font-size="5.0" text-anchor="end" fill="#262626">3.5</text>
<text x="372.50" y="10.00" font-size="4.7" fill="#262626">× 10<tspan dy="-1.9" font-size="3.4">5</tspan></text>
<polyline points="372.2,201.1 373.2,201.1 374.1,201.2 375.1,201.2 376.1,201.3 377.1,201.3 378.0,201.4 379.0,201.4 380.0,201.5 380.9,201.5 381.9,201.5 382.9,201.6 383.8,201.6 384.8,201.7 385.8,201.7 386.8,201.7 387.7,201.7 388.7,201.7 389.7,201.7 390.6,201.7 391.6,201.7 392.6,201.6 393.5,201.5 394.5,201.4 395.5,201.2 396.4,201.0 397.4,200.7 398.4,200.3 399.4,199.8 400.3,199.2 401.3,198.5 402.3,197.7 403.2,196.7 404.2,195.5 405.2,194.2 406.1,192.7 407.1,191.0 408.1,189.1 409.1,187.0 410.0,184.8 411.0,182.3 412.0,179.6 412.9,176.7 413.9,173.6 414.9,170.4 415.9,167.0 416.8,163.5 417.8,159.9 418.8,156.2 419.7,152.4 420.7,148.6 421.7,144.7 422.6,140.8 423.6,136.9 424.6,133.0 425.6,129.1 426.5,125.3 427.5,121.6 428.5,117.9 429.4,114.3 430.4,110.8 431.4,107.4 432.3,104.0 433.3,100.8 434.3,97.7 435.2,94.7 436.2,91.8 437.2,89.0 438.2,86.3 439.1,83.7 440.1,81.3 441.1,78.9 442.0,76.6 443.0,74.5 444.0,72.4 444.9,70.5 445.9,68.6 446.9,66.8 447.9,65.1 448.8,63.4 449.8,61.9 450.8,60.4 451.7,59.0 452.7,57.7 453.7,56.4 454.7,55.2 455.6,54.0 456.6,52.9 457.6,51.9 458.5,50.9 459.5,49.9 460.5,49.0 461.4,48.2 462.4,47.4 463.4,46.6 464.4,45.9 465.3,45.2 466.3,44.5 467.3,43.9 468.2,43.3 469.2,42.7 470.2,42.1 471.1,41.6 472.1,41.1 473.1,40.7 474.1,40.2 475.0,39.8 476.0,39.4 477.0,39.0 477.9,38.6 478.9,38.3 479.9,37.9 480.8,37.6 481.8,37.3 482.8,37.0 483.8,36.8 484.7,36.5 485.7,36.2 486.7,36.0 487.6,35.8 488.6,35.6 489.6,35.4 490.5,35.2 491.5,35.0 492.5,34.8 493.5,34.6 494.4,34.5 495.4,34.3 496.4,34.2 497.3,34.0 498.3,33.9 499.3,33.8 500.2,33.7 501.2,33.6 502.2,33.5 503.1,33.3 504.1,33.3 505.1,33.2 506.1,33.1 507.0,33.0 508.0,32.9 509.0,32.8 509.9,32.8 510.9,32.7 511.9,32.6 512.9,32.6 513.8,32.5 514.8,32.5 515.8,32.4 516.7,32.4 517.7,32.3 518.7,32.3 519.6,32.3 520.6,32.2 521.6,32.2 522.6,32.2 523.5,32.1 524.5,32.1 525.5,32.1 526.4,32.1 527.4,32.1 528.4,32.0 529.3,32.0 530.3,32.0 531.3,32.0 532.2,32.0 533.2,32.0 534.2,32.0 535.2,32.0 536.1,32.0 537.1,32.0 538.1,32.0 539.0,32.0 540.0,32.0 541.0,32.0 542.0,32.0 542.9,32.0 543.9,32.0 544.9,32.0 545.8,32.0 546.8,32.0 547.8,32.0 548.7,32.0 549.7,32.0 550.7,32.0 551.7,32.0 552.6,32.1 553.6,32.1 554.6,32.1 555.5,32.1 556.5,32.1 557.5,32.1 558.4,32.1 559.4,32.2 560.4,32.2 561.4,32.2 562.3,32.2 563.3,32.2 564.3,32.3 565.2,32.3 566.2,32.3 567.2,32.3 568.1,32.3 569.1,32.4 570.1,32.4 571.1,32.4 572.0,32.4 573.0,32.5 574.0,32.5 574.9,32.5 575.9,32.5 576.9,32.6 577.8,32.6 578.8,32.6 579.8,32.6 580.8,32.7 581.7,32.7 582.7,32.7 583.7,32.8 584.6,32.8 585.6,32.8 586.6,32.8 587.5,32.9 588.5,32.9 589.5,32.9 590.5,33.0 591.4,33.0 592.4,33.0 593.4,33.1 594.3,33.1 595.3,33.1 596.3,33.1 597.2,33.2 598.2,33.2 599.2,33.2 600.2,33.3 601.1,33.3 602.1,33.3 603.1,33.4 604.0,33.4 605.0,33.4 606.0,33.5 606.9,33.5 607.9,33.5 608.9,33.6 609.9,33.6 610.8,33.6 611.8,33.7 612.8,33.7 613.7,33.7 614.7,33.8 615.7,33.8 616.6,33.8 617.6,33.9 618.6,33.9 619.6,33.9 620.5,34.0 621.5,34.0 622.5,34.0 623.4,34.1 624.4,34.1 625.4,34.1 626.3,34.2 627.3,34.2 628.3,34.2 629.2,34.3 630.2,34.3 631.2,34.4 632.2,34.4 633.1,34.4 634.1,34.5 635.1,34.5 636.0,34.5 637.0,34.6 638.0,34.6 639.0,34.6 639.9,34.7 640.9,34.7 641.9,34.7 642.8,34.8 643.8,34.8 644.8,34.9 645.7,34.9 646.7,34.9 647.7,35.0 648.7,35.0 649.6,35.0 650.6,35.1 651.6,35.1 652.5,35.1 653.5,35.2 654.5,35.2 655.4,35.3 656.4,35.3 657.4,35.3 658.4,35.4 659.3,35.4 660.3,35.4 661.3,35.5 662.2,35.5 663.2,35.6" fill="none" stroke="#0000ff" stroke-width="1.4" stroke-linejoin="round"/>
<polyline points="372.2,201.1 373.2,201.1 374.1,201.2 375.1,201.2 376.1,201.3 377.1,201.3 378.0,201.4 379.0,201.4 380.0,201.5 380.9,201.5 381.9,201.5 382.9,201.6 383.8,201.6 384.8,201.7 385.8,201.7 386.8,201.7 387.7,201.8 388.7,201.8 389.7,201.8 390.6,201.8 391.6,201.8 392.6,201.8 393.5,201.8 394.5,201.8 395.5,201.7 396.4,201.6 397.4,201.5 398.4,201.3 399.4,201.0 400.3,200.7 401.3,200.3 402.3,199.8 403.2,199.2 404.2,198.5 405.2,197.7 406.1,196.7 407.1,195.6 408.1,194.3 409.1,192.8 410.0,191.1 411.0,189.3 412.0,187.3 412.9,185.1 413.9,182.7 414.9,180.2 415.9,177.5 416.8,174.7 417.8,171.7 418.8,168.7 419.7,165.5 420.7,162.3 421.7,159.0 422.6,155.6 423.6,152.3 424.6,148.9 425.6,145.5 426.5,142.2 427.5,138.9 428.5,135.7 429.4,132.5 430.4,129.3 431.4,126.3 432.3,123.3 433.3,120.4 434.3,117.7 435.2,115.0 436.2,112.4 437.2,109.9 438.2,107.4 439.1,105.1 440.1,102.9 441.1,100.8 442.0,98.7 443.0,96.8 444.0,94.9 444.9,93.2 445.9,91.5 446.9,89.9 447.9,88.3 448.8,86.9 449.8,85.5 450.8,84.1 451.7,82.9 452.7,81.7 453.7,80.5 454.7,79.4 455.6,78.4 456.6,77.4 457.6,76.5 458.5,75.6 459.5,74.8 460.5,74.0 461.4,73.2 462.4,72.5 463.4,71.8 464.4,71.2 465.3,70.5 466.3,70.0 467.3,69.4 468.2,68.9 469.2,68.4 470.2,67.9 471.1,67.4 472.1,67.0 473.1,66.6 474.1,66.2 475.0,65.8 476.0,65.5 477.0,65.1 477.9,64.8 478.9,64.5 479.9,64.2 480.8,63.9 481.8,63.7 482.8,63.4 483.8,63.2 484.7,63.0 485.7,62.7 486.7,62.5 487.6,62.3 488.6,62.2 489.6,62.0 490.5,61.8 491.5,61.7 492.5,61.5 493.5,61.4 494.4,61.2 495.4,61.1 496.4,61.0 497.3,60.9 498.3,60.8 499.3,60.7 500.2,60.6 501.2,60.5 502.2,60.4 503.1,60.3 504.1,60.2 505.1,60.1 506.1,60.1 507.0,60.0 508.0,59.9 509.0,59.9 509.9,59.8 510.9,59.8 511.9,59.7 512.9,59.7 513.8,59.6 514.8,59.6 515.8,59.5 516.7,59.5 517.7,59.5 518.7,59.4 519.6,59.4 520.6,59.4 521.6,59.4 522.6,59.3 523.5,59.3 524.5,59.3 525.5,59.3 526.4,59.3 527.4,59.3 528.4,59.3 529.3,59.2 530.3,59.2 531.3,59.2 532.2,59.2 533.2,59.2 534.2,59.2 535.2,59.2 536.1,59.2 537.1,59.2 538.1,59.2 539.0,59.2 540.0,59.2 541.0,59.2 542.0,59.2 542.9,59.2 543.9,59.2 544.9,59.3 545.8,59.3 546.8,59.3 547.8,59.3 548.7,59.3 549.7,59.3 550.7,59.3 551.7,59.3 552.6,59.4 553.6,59.4 554.6,59.4 555.5,59.4 556.5,59.4 557.5,59.4 558.4,59.5 559.4,59.5 560.4,59.5 561.4,59.5 562.3,59.5 563.3,59.5 564.3,59.6 565.2,59.6 566.2,59.6 567.2,59.6 568.1,59.7 569.1,59.7 570.1,59.7 571.1,59.7 572.0,59.7 573.0,59.8 574.0,59.8 574.9,59.8 575.9,59.8 576.9,59.9 577.8,59.9 578.8,59.9 579.8,59.9 580.8,60.0 581.7,60.0 582.7,60.0 583.7,60.1 584.6,60.1 585.6,60.1 586.6,60.1 587.5,60.2 588.5,60.2 589.5,60.2 590.5,60.2 591.4,60.3 592.4,60.3 593.4,60.3 594.3,60.4 595.3,60.4 596.3,60.4 597.2,60.5 598.2,60.5 599.2,60.5 600.2,60.5 601.1,60.6 602.1,60.6 603.1,60.6 604.0,60.7 605.0,60.7 606.0,60.7 606.9,60.8 607.9,60.8 608.9,60.8 609.9,60.8 610.8,60.9 611.8,60.9 612.8,60.9 613.7,61.0 614.7,61.0 615.7,61.0 616.6,61.1 617.6,61.1 618.6,61.1 619.6,61.2 620.5,61.2 621.5,61.2 622.5,61.3 623.4,61.3 624.4,61.3 625.4,61.4 626.3,61.4 627.3,61.4 628.3,61.5 629.2,61.5 630.2,61.5 631.2,61.6 632.2,61.6 633.1,61.6 634.1,61.7 635.1,61.7 636.0,61.7 637.0,61.8 638.0,61.8 639.0,61.8 639.9,61.9 640.9,61.9 641.9,61.9 642.8,62.0 643.8,62.0 644.8,62.0 645.7,62.1 646.7,62.1 647.7,62.1 648.7,62.2 649.6,62.2 650.6,62.2 651.6,62.3 652.5,62.3 653.5,62.3 654.5,62.4 655.4,62.4 656.4,62.4 657.4,62.5 658.4,62.5 659.3,62.5 660.3,62.6 661.3,62.6 662.2,62.6 663.2,62.7" fill="none" stroke="#ff0000" stroke-width="1.4" stroke-linejoin="round"/>
<polyline points="372.2,201.1 373.2,201.1 374.1,201.2 375.1,201.2 376.1,201.3 377.1,201.3 378.0,201.4 379.0,201.4 380.0,201.5 380.9,201.5 381.9,201.5 382.9,201.6 383.8,201.6 384.8,201.7 385.8,201.7 386.8,201.7 387.7,201.8 388.7,201.8 389.7,201.8 390.6,201.9 391.6,201.9 392.6,201.9 393.5,201.9 394.5,201.9 395.5,201.9 396.4,202.0 397.4,201.9 398.4,201.9 399.4,201.9 400.3,201.9 401.3,201.8 402.3,201.7 403.2,201.7 404.2,201.5 405.2,201.4 406.1,201.2 407.1,201.0 408.1,200.7 409.1,200.4 410.0,200.1 411.0,199.6 412.0,199.2 412.9,198.6 413.9,198.0 414.9,197.2 415.9,196.4 416.8,195.5 417.8,194.5 418.8,193.4 419.7,192.2 420.7,190.8 421.7,189.4 422.6,187.8 423.6,186.1 424.6,184.4 425.6,182.5 426.5,180.5 427.5,178.4 428.5,176.2 429.4,173.9 430.4,171.6 431.4,169.2 432.3,166.7 433.3,164.2 434.3,161.7 435.2,159.1 436.2,156.5 437.2,154.0 438.2,151.4 439.1,148.8 440.1,146.3 441.1,143.8 442.0,141.3 443.0,138.9 444.0,136.5 444.9,134.2 445.9,131.9 446.9,129.8 447.9,127.6 448.8,125.6 449.8,123.6 450.8,121.7 451.7,119.8 452.7,118.0 453.7,116.3 454.7,114.7 455.6,113.1 456.6,111.6 457.6,110.2 458.5,108.8 459.5,107.5 460.5,106.2 461.4,105.0 462.4,103.9 463.4,102.8 464.4,101.8 465.3,100.8 466.3,99.9 467.3,99.0 468.2,98.1 469.2,97.3 470.2,96.6 471.1,95.8 472.1,95.1 473.1,94.5 474.1,93.9 475.0,93.3 476.0,92.7 477.0,92.2 477.9,91.7 478.9,91.2 479.9,90.8 480.8,90.3 481.8,89.9 482.8,89.5 483.8,89.2 484.7,88.8 485.7,88.5 486.7,88.2 487.6,87.9 488.6,87.6 489.6,87.3 490.5,87.1 491.5,86.9 492.5,86.6 493.5,86.4 494.4,86.2 495.4,86.0 496.4,85.8 497.3,85.7 498.3,85.5 499.3,85.3 500.2,85.2 501.2,85.1 502.2,84.9 503.1,84.8 504.1,84.7 505.1,84.6 506.1,84.5 507.0,84.4 508.0,84.3 509.0,84.2 509.9,84.1 510.9,84.0 511.9,83.9 512.9,83.9 513.8,83.8 514.8,83.7 515.8,83.7 516.7,83.6 517.7,83.6 518.7,83.5 519.6,83.5 520.6,83.5 521.6,83.4 522.6,83.4 523.5,83.3 524.5,83.3 525.5,83.3 526.4,83.3 527.4,83.2 528.4,83.2 529.3,83.2 530.3,83.2 531.3,83.2 532.2,83.2 533.2,83.1 534.2,83.1 535.2,83.1 536.1,83.1 537.1,83.1 538.1,83.1 539.0,83.1 540.0,83.1 541.0,83.1 542.0,83.1 542.9,83.1 543.9,83.1 544.9,83.1 545.8,83.1 546.8,83.1 547.8,83.1 548.7,83.1 549.7,83.1 550.7,83.2 551.7,83.2 552.6,83.2 553.6,83.2 554.6,83.2 555.5,83.2 556.5,83.2 557.5,83.2 558.4,83.3 559.4,83.3 560.4,83.3 561.4,83.3 562.3,83.3 563.3,83.3 564.3,83.4 565.2,83.4 566.2,83.4 567.2,83.4 568.1,83.4 569.1,83.4 570.1,83.5 571.1,83.5 572.0,83.5 573.0,83.5 574.0,83.6 574.9,83.6 575.9,83.6 576.9,83.6 577.8,83.6 578.8,83.7 579.8,83.7 580.8,83.7 581.7,83.7 582.7,83.8 583.7,83.8 584.6,83.8 585.6,83.8 586.6,83.9 587.5,83.9 588.5,83.9 589.5,83.9 590.5,84.0 591.4,84.0 592.4,84.0 593.4,84.0 594.3,84.1 595.3,84.1 596.3,84.1 597.2,84.1 598.2,84.2 599.2,84.2 600.2,84.2 601.1,84.3 602.1,84.3 603.1,84.3 604.0,84.3 605.0,84.4 606.0,84.4 606.9,84.4 607.9,84.5 608.9,84.5 609.9,84.5 610.8,84.5 611.8,84.6 612.8,84.6 613.7,84.6 614.7,84.7 615.7,84.7 616.6,84.7 617.6,84.7 618.6,84.8 619.6,84.8 620.5,84.8 621.5,84.9 622.5,84.9 623.4,84.9 624.4,84.9 625.4,85.0 626.3,85.0 627.3,85.0 628.3,85.1 629.2,85.1 630.2,85.1 631.2,85.2 632.2,85.2 633.1,85.2 634.1,85.2 635.1,85.3 636.0,85.3 637.0,85.3 638.0,85.4 639.0,85.4 639.9,85.4 640.9,85.5 641.9,85.5 642.8,85.5 643.8,85.5 644.8,85.6 645.7,85.6 646.7,85.6 647.7,85.7 648.7,85.7 649.6,85.7 650.6,85.8 651.6,85.8 652.5,85.8 653.5,85.9 654.5,85.9 655.4,85.9 656.4,85.9 657.4,86.0 658.4,86.0 659.3,86.0 660.3,86.1 661.3,86.1 662.2,86.1 663.2,86.2" fill="none" stroke="#000000" stroke-width="1.4" stroke-linejoin="round"/>
<polyline points="372.2,201.1 373.2,201.1 374.1,201.2 375.1,201.2 376.1,201.3 377.1,201.3 378.0,201.4 379.0,201.4 380.0,201.5 380.9,201.5 381.9,201.5 382.9,201.6 383.8,201.6 384.8,201.7 385.8,201.7 386.8,201.7 387.7,201.8 388.7,201.8 389.7,201.8 390.6,201.8 391.6,201.9 392.6,201.9 393.5,201.9 394.5,201.9 395.5,201.9 396.4,201.9 397.4,201.9 398.4,201.9 399.4,201.9 400.3,201.9 401.3,201.9 402.3,201.8 403.2,201.8 404.2,201.7 405.2,201.7 406.1,201.6 407.1,201.5 408.1,201.4 409.1,201.3 410.0,201.1 411.0,201.0 412.0,200.8 412.9,200.6 413.9,200.4 414.9,200.1 415.9,199.9 416.8,199.6 417.8,199.2 418.8,198.9 419.7,198.5 420.7,198.0 421.7,197.6 422.6,197.0 423.6,196.5 424.6,195.9 425.6,195.2 426.5,194.5 427.5,193.7 428.5,192.9 429.4,192.1 430.4,191.1 431.4,190.1 432.3,189.1 433.3,188.0 434.3,186.8 435.2,185.5 436.2,184.2 437.2,182.8 438.2,181.4 439.1,179.9 440.1,178.3 441.1,176.7 442.0,175.1 443.0,173.4 444.0,171.6 444.9,169.9 445.9,168.1 446.9,166.3 447.9,164.4 448.8,162.6 449.8,160.8 450.8,159.0 451.7,157.2 452.7,155.4 453.7,153.7 454.7,152.0 455.6,150.4 456.6,148.8 457.6,147.3 458.5,145.8 459.5,144.4 460.5,143.1 461.4,141.8 462.4,140.6 463.4,139.5 464.4,138.4 465.3,137.4 466.3,136.5 467.3,135.6 468.2,134.8 469.2,134.0 470.2,133.3 471.1,132.6 472.1,132.0 473.1,131.5 474.1,130.9 475.0,130.4 476.0,130.0 477.0,129.6 477.9,129.2 478.9,128.8 479.9,128.5 480.8,128.2 481.8,127.9 482.8,127.7 483.8,127.4 484.7,127.2 485.7,127.0 486.7,126.8 487.6,126.6 488.6,126.5 489.6,126.3 490.5,126.2 491.5,126.1 492.5,126.0 493.5,125.9 494.4,125.8 495.4,125.7 496.4,125.6 497.3,125.5 498.3,125.4 499.3,125.4 500.2,125.3 501.2,125.3 502.2,125.2 503.1,125.2 504.1,125.1 505.1,125.1 506.1,125.0 507.0,125.0 508.0,125.0 509.0,124.9 509.9,124.9 510.9,124.9 511.9,124.9 512.9,124.8 513.8,124.8 514.8,124.8 515.8,124.8 516.7,124.8 517.7,124.8 518.7,124.7 519.6,124.7 520.6,124.7 521.6,124.7 522.6,124.7 523.5,124.7 524.5,124.7 525.5,124.7 526.4,124.7 527.4,124.7 528.4,124.7 529.3,124.7 530.3,124.7 531.3,124.7 532.2,124.7 533.2,124.6 534.2,124.6 535.2,124.6 536.1,124.6 537.1,124.6 538.1,124.6 539.0,124.6 540.0,124.6 541.0,124.6 542.0,124.6 542.9,124.6 543.9,124.6 544.9,124.6 545.8,124.6 546.8,124.6 547.8,124.6 548.7,124.7 549.7,124.7 550.7,124.7 551.7,124.7 552.6,124.7 553.6,124.7 554.6,124.7 555.5,124.7 556.5,124.7 557.5,124.7 558.4,124.7 559.4,124.7 560.4,124.7 561.4,124.7 562.3,124.7 563.3,124.7 564.3,124.7 565.2,124.7 566.2,124.7 567.2,124.7 568.1,124.7 569.1,124.7 570.1,124.7 571.1,124.7 572.0,124.7 573.0,124.7 574.0,124.7 574.9,124.7 575.9,124.7 576.9,124.7 577.8,124.7 578.8,124.7 579.8,124.7 580.8,124.7 581.7,124.7 582.7,124.8 583.7,124.8 584.6,124.8 585.6,124.8 586.6,124.8 587.5,124.8 588.5,124.8 589.5,124.8 590.5,124.8 591.4,124.8 592.4,124.8 593.4,124.8 594.3,124.8 595.3,124.8 596.3,124.8 597.2,124.8 598.2,124.8 599.2,124.8 600.2,124.8 601.1,124.8 602.1,124.8 603.1,124.8 604.0,124.8 605.0,124.8 606.0,124.8 606.9,124.8 607.9,124.8 608.9,124.9 609.9,124.9 610.8,124.9 611.8,124.9 612.8,124.9 613.7,124.9 614.7,124.9 615.7,124.9 616.6,124.9 617.6,124.9 618.6,124.9 619.6,124.9 620.5,124.9 621.5,124.9 622.5,124.9 623.4,124.9 624.4,124.9 625.4,124.9 626.3,124.9 627.3,124.9 628.3,124.9 629.2,124.9 630.2,124.9 631.2,124.9 632.2,124.9 633.1,124.9 634.1,124.9 635.1,125.0 636.0,125.0 637.0,125.0 638.0,125.0 639.0,125.0 639.9,125.0 640.9,125.0 641.9,125.0 642.8,125.0 643.8,125.0 644.8,125.0 645.7,125.0 646.7,125.0 647.7,125.0 648.7,125.0 649.6,125.0 650.6,125.0 651.6,125.0 652.5,125.0 653.5,125.0 654.5,125.0 655.4,125.0 656.4,125.0 657.4,125.0 658.4,125.0 659.3,125.0 660.3,125.1 661.3,125.1 662.2,125.1 663.2,125.1" fill="none" stroke="#a2142f" stroke-width="1.4" stroke-linejoin="round"/>
<polyline points="372.2,201.1 373.2,201.1 374.1,201.2 375.1,201.2 376.1,201.3 377.1,201.3 378.0,201.4 379.0,201.4 380.0,201.5 380.9,201.5 381.9,201.5 382.9,201.6 383.8,201.6 384.8,201.7 385.8,201.7 386.8,201.7 387.7,201.8 388.7,201.8 389.7,201.8 390.6,201.9 391.6,201.9 392.6,201.9 393.5,202.0 394.5,202.0 395.5,202.0 396.4,202.0 397.4,202.1 398.4,202.1 399.4,202.1 400.3,202.1 401.3,202.1 402.3,202.1 403.2,202.2 404.2,202.2 405.2,202.2 406.1,202.2 407.1,202.2 408.1,202.2 409.1,202.2 410.0,202.2 411.0,202.2 412.0,202.2 412.9,202.2 413.9,202.1 414.9,202.1 415.9,202.1 416.8,202.0 417.8,202.0 418.8,201.9 419.7,201.9 420.7,201.8 421.7,201.7 422.6,201.7 423.6,201.6 424.6,201.5 425.6,201.3 426.5,201.2 427.5,201.1 428.5,200.9 429.4,200.7 430.4,200.6 431.4,200.4 432.3,200.1 433.3,199.9 434.3,199.6 435.2,199.4 436.2,199.1 437.2,198.7 438.2,198.4 439.1,198.0 440.1,197.6 441.1,197.2 442.0,196.7 443.0,196.2 444.0,195.7 444.9,195.2 445.9,194.6 446.9,194.0 447.9,193.3 448.8,192.6 449.8,191.9 450.8,191.2 451.7,190.4 452.7,189.6 453.7,188.7 454.7,187.8 455.6,186.9 456.6,186.0 457.6,185.0 458.5,184.0 459.5,182.9 460.5,181.9 461.4,180.8 462.4,179.7 463.4,178.6 464.4,177.4 465.3,176.3 466.3,175.1 467.3,174.0 468.2,172.8 469.2,171.7 470.2,170.5 471.1,169.4 472.1,168.2 473.1,167.1 474.1,166.0 475.0,164.9 476.0,163.9 477.0,162.8 477.9,161.8 478.9,160.9 479.9,159.9 480.8,159.0 481.8,158.1 482.8,157.2 483.8,156.4 484.7,155.6 485.7,154.8 486.7,154.1 487.6,153.4 488.6,152.7 489.6,152.1 490.5,151.5 491.5,150.9 492.5,150.4 493.5,149.8 494.4,149.3 495.4,148.9 496.4,148.4 497.3,148.0 498.3,147.6 499.3,147.2 500.2,146.9 501.2,146.5 502.2,146.2 503.1,145.9 504.1,145.6 505.1,145.4 506.1,145.1 507.0,144.9 508.0,144.7 509.0,144.5 509.9,144.3 510.9,144.1 511.9,143.9 512.9,143.7 513.8,143.6 514.8,143.4 515.8,143.3 516.7,143.2 517.7,143.0 518.7,142.9 519.6,142.8 520.6,142.7 521.6,142.6 522.6,142.5 523.5,142.5 524.5,142.4 525.5,142.3 526.4,142.2 527.4,142.2 528.4,142.1 529.3,142.0 530.3,142.0 531.3,141.9 532.2,141.9 533.2,141.8 534.2,141.8 535.2,141.8 536.1,141.7 537.1,141.7 538.1,141.6 539.0,141.6 540.0,141.6 541.0,141.6 542.0,141.5 542.9,141.5 543.9,141.5 544.9,141.5 545.8,141.4 546.8,141.4 547.8,141.4 548.7,141.4 549.7,141.4 550.7,141.4 551.7,141.3 552.6,141.3 553.6,141.3 554.6,141.3 555.5,141.3 556.5,141.3 557.5,141.3 558.4,141.3 559.4,141.3 560.4,141.3 561.4,141.3 562.3,141.3 563.3,141.2 564.3,141.2 565.2,141.2 566.2,141.2 567.2,141.2 568.1,141.2 569.1,141.2 570.1,141.2 571.1,141.2 572.0,141.2 573.0,141.2 574.0,141.2 574.9,141.2 575.9,141.2 576.9,141.2 577.8,141.2 578.8,141.2 579.8,141.2 580.8,141.2 581.7,141.2 582.7,141.2 583.7,141.2 584.6,141.2 585.6,141.2 586.6,141.2 587.5,141.2 588.5,141.2 589.5,141.2 590.5,141.2 591.4,141.2 592.4,141.2 593.4,141.2 594.3,141.3 595.3,141.3 596.3,141.3 597.2,141.3 598.2,141.3 599.2,141.3 600.2,141.3 601.1,141.3 602.1,141.3 603.1,141.3 604.0,141.3 605.0,141.3 606.0,141.3 606.9,141.3 607.9,141.3 608.9,141.3 609.9,141.3 610.8,141.3 611.8,141.3 612.8,141.3 613.7,141.3 614.7,141.3 615.7,141.3 616.6,141.3 617.6,141.3 618.6,141.3 619.6,141.4 620.5,141.4 621.5,141.4 622.5,141.4 623.4,141.4 624.4,141.4 625.4,141.4 626.3,141.4 627.3,141.4 628.3,141.4 629.2,141.4 630.2,141.4 631.2,141.4 632.2,141.4 633.1,141.4 634.1,141.4 635.1,141.4 636.0,141.4 637.0,141.4 638.0,141.4 639.0,141.4 639.9,141.5 640.9,141.5 641.9,141.5 642.8,141.5 643.8,141.5 644.8,141.5 645.7,141.5 646.7,141.5 647.7,141.5 648.7,141.5 649.6,141.5 650.6,141.5 651.6,141.5 652.5,141.5 653.5,141.5 654.5,141.5 655.4,141.5 656.4,141.5 657.4,141.5 658.4,141.6 659.3,141.6 660.3,141.6 661.3,141.6 662.2,141.6 663.2,141.6" fill="none" stroke="#77ac30" stroke-width="1.4" stroke-linejoin="round"/>
<rect x="372.20" y="11.50" width="291.00" height="191.50" fill="none" stroke="#555555" stroke-width="0.75"/>
<rect x="376.0" y="18.6" width="99.60" height="38.20" fill="#fff" stroke="#262626" stroke-width="0.6"/>
<line x1="379.3" y1="23.1" x2="395.5" y2="23.1" stroke="#0000ff" stroke-width="1.4"/>
<text x="396.6" y="24.70" font-size="4.9" fill="#000" textLength="41.80" lengthAdjust="spacingAndGlyphs">Baseline values of</text>
<text x="439.7" y="24.70" font-size="5.63" fill="#444" font-family='"Liberation Serif", serif' font-style="italic" textLength="23.80" lengthAdjust="spacingAndGlyphs">β<tspan font-size="3.49" dy="1.41">1</tspan><tspan dy="-1.41">, β</tspan><tspan font-size="3.49" dy="1.41">2</tspan><tspan dy="-1.41">, β</tspan><tspan font-size="3.49" dy="1.41">3</tspan></text>
<line x1="379.3" y1="31.7" x2="395.5" y2="31.7" stroke="#ff0000" stroke-width="1.4"/>
<text x="396.6" y="33.30" font-size="4.9" fill="#000" textLength="77.40" lengthAdjust="spacingAndGlyphs">with 10% increase in contact rates</text>
<line x1="379.3" y1="38.8" x2="395.5" y2="38.8" stroke="#000000" stroke-width="1.4"/>
<text x="396.6" y="40.40" font-size="4.9" fill="#000" textLength="77.40" lengthAdjust="spacingAndGlyphs">with 20% increase in contact rates</text>
<line x1="379.3" y1="45.8" x2="395.5" y2="45.8" stroke="#a2142f" stroke-width="1.4"/>
<text x="396.6" y="47.40" font-size="4.9" fill="#000" textLength="77.40" lengthAdjust="spacingAndGlyphs">with 40% increase in contact rates</text>
<line x1="379.3" y1="53.0" x2="395.5" y2="53.0" stroke="#77ac30" stroke-width="1.4"/>
<text x="396.6" y="54.60" font-size="4.9" fill="#000" textLength="77.40" lengthAdjust="spacingAndGlyphs">with 50% increase in contact rates</text>
<text x="505.60" y="6.90" font-size="11.2" fill="#333" font-family='"Liberation Serif", serif' font-style="italic">ϑ</text>
<text x="512.00" y="6.90" font-size="10" font-weight="bold" fill="#000">=01</text>
<text x="487.40" y="223.40" font-size="10.5" fill="#000" textLength="60.80" lengthAdjust="spacingAndGlyphs">Time in Days</text>
<text transform="translate(354.30,153.60) rotate(-90)" x="0" y="0" font-size="10.6" fill="#000" textLength="93.70" lengthAdjust="spacingAndGlyphs">Infected humans,  I<tspan font-size="7.8" dy="4.9">h</tspan></text>
<text x="512.50" y="242.20" font-size="15.3" text-anchor="middle" font-family='"Liberation Serif", serif' fill="#000">(b)</text></g>
<g><line x1="54.90" y1="285.00" x2="54.90" y2="475.30" stroke="#e2e2e2" stroke-width="0.6"/>
<line x1="84.00" y1="285.00" x2="84.00" y2="475.30" stroke="#e2e2e2" stroke-width="0.6"/>
<line x1="113.10" y1="285.00" x2="113.10" y2="475.30" stroke="#e2e2e2" stroke-width="0.6"/>
<line x1="142.20" y1="285.00" x2="142.20" y2="475.30" stroke="#e2e2e2" stroke-width="0.6"/>
<line x1="171.30" y1="285.00" x2="171.30" y2="475.30" stroke="#e2e2e2" stroke-width="0.6"/>
<line x1="200.40" y1="285.00" x2="200.40" y2="475.30" stroke="#e2e2e2" stroke-width="0.6"/>
<line x1="229.50" y1="285.00" x2="229.50" y2="475.30" stroke="#e2e2e2" stroke-width="0.6"/>
<line x1="258.60" y1="285.00" x2="258.60" y2="475.30" stroke="#e2e2e2" stroke-width="0.6"/>
<line x1="287.70" y1="285.00" x2="287.70" y2="475.30" stroke="#e2e2e2" stroke-width="0.6"/>
<line x1="25.80" y1="454.16" x2="316.80" y2="454.16" stroke="#e2e2e2" stroke-width="0.6"/>
<line x1="25.80" y1="433.01" x2="316.80" y2="433.01" stroke="#e2e2e2" stroke-width="0.6"/>
<line x1="25.80" y1="411.87" x2="316.80" y2="411.87" stroke="#e2e2e2" stroke-width="0.6"/>
<line x1="25.80" y1="390.72" x2="316.80" y2="390.72" stroke="#e2e2e2" stroke-width="0.6"/>
<line x1="25.80" y1="369.58" x2="316.80" y2="369.58" stroke="#e2e2e2" stroke-width="0.6"/>
<line x1="25.80" y1="348.43" x2="316.80" y2="348.43" stroke="#e2e2e2" stroke-width="0.6"/>
<line x1="25.80" y1="327.29" x2="316.80" y2="327.29" stroke="#e2e2e2" stroke-width="0.6"/>
<line x1="25.80" y1="306.14" x2="316.80" y2="306.14" stroke="#e2e2e2" stroke-width="0.6"/>
<line x1="25.80" y1="475.30" x2="25.80" y2="471.90" stroke="#2a2a2a" stroke-width="0.9"/>
<line x1="25.80" y1="285.00" x2="25.80" y2="288.40" stroke="#2a2a2a" stroke-width="0.9"/>
<line x1="54.90" y1="475.30" x2="54.90" y2="471.90" stroke="#2a2a2a" stroke-width="0.9"/>
<line x1="54.90" y1="285.00" x2="54.90" y2="288.40" stroke="#2a2a2a" stroke-width="0.9"/>
<line x1="84.00" y1="475.30" x2="84.00" y2="471.90" stroke="#2a2a2a" stroke-width="0.9"/>
<line x1="84.00" y1="285.00" x2="84.00" y2="288.40" stroke="#2a2a2a" stroke-width="0.9"/>
<line x1="113.10" y1="475.30" x2="113.10" y2="471.90" stroke="#2a2a2a" stroke-width="0.9"/>
<line x1="113.10" y1="285.00" x2="113.10" y2="288.40" stroke="#2a2a2a" stroke-width="0.9"/>
<line x1="142.20" y1="475.30" x2="142.20" y2="471.90" stroke="#2a2a2a" stroke-width="0.9"/>
<line x1="142.20" y1="285.00" x2="142.20" y2="288.40" stroke="#2a2a2a" stroke-width="0.9"/>
<line x1="171.30" y1="475.30" x2="171.30" y2="471.90" stroke="#2a2a2a" stroke-width="0.9"/>
<line x1="171.30" y1="285.00" x2="171.30" y2="288.40" stroke="#2a2a2a" stroke-width="0.9"/>
<line x1="200.40" y1="475.30" x2="200.40" y2="471.90" stroke="#2a2a2a" stroke-width="0.9"/>
<line x1="200.40" y1="285.00" x2="200.40" y2="288.40" stroke="#2a2a2a" stroke-width="0.9"/>
<line x1="229.50" y1="475.30" x2="229.50" y2="471.90" stroke="#2a2a2a" stroke-width="0.9"/>
<line x1="229.50" y1="285.00" x2="229.50" y2="288.40" stroke="#2a2a2a" stroke-width="0.9"/>
<line x1="258.60" y1="475.30" x2="258.60" y2="471.90" stroke="#2a2a2a" stroke-width="0.9"/>
<line x1="258.60" y1="285.00" x2="258.60" y2="288.40" stroke="#2a2a2a" stroke-width="0.9"/>
<line x1="287.70" y1="475.30" x2="287.70" y2="471.90" stroke="#2a2a2a" stroke-width="0.9"/>
<line x1="287.70" y1="285.00" x2="287.70" y2="288.40" stroke="#2a2a2a" stroke-width="0.9"/>
<line x1="316.80" y1="475.30" x2="316.80" y2="471.90" stroke="#2a2a2a" stroke-width="0.9"/>
<line x1="316.80" y1="285.00" x2="316.80" y2="288.40" stroke="#2a2a2a" stroke-width="0.9"/>
<line x1="25.80" y1="475.30" x2="29.20" y2="475.30" stroke="#2a2a2a" stroke-width="0.9"/>
<line x1="316.80" y1="475.30" x2="313.40" y2="475.30" stroke="#2a2a2a" stroke-width="0.9"/>
<line x1="25.80" y1="454.16" x2="29.20" y2="454.16" stroke="#2a2a2a" stroke-width="0.9"/>
<line x1="316.80" y1="454.16" x2="313.40" y2="454.16" stroke="#2a2a2a" stroke-width="0.9"/>
<line x1="25.80" y1="433.01" x2="29.20" y2="433.01" stroke="#2a2a2a" stroke-width="0.9"/>
<line x1="316.80" y1="433.01" x2="313.40" y2="433.01" stroke="#2a2a2a" stroke-width="0.9"/>
<line x1="25.80" y1="411.87" x2="29.20" y2="411.87" stroke="#2a2a2a" stroke-width="0.9"/>
<line x1="316.80" y1="411.87" x2="313.40" y2="411.87" stroke="#2a2a2a" stroke-width="0.9"/>
<line x1="25.80" y1="390.72" x2="29.20" y2="390.72" stroke="#2a2a2a" stroke-width="0.9"/>
<line x1="316.80" y1="390.72" x2="313.40" y2="390.72" stroke="#2a2a2a" stroke-width="0.9"/>
<line x1="25.80" y1="369.58" x2="29.20" y2="369.58" stroke="#2a2a2a" stroke-width="0.9"/>
<line x1="316.80" y1="369.58" x2="313.40" y2="369.58" stroke="#2a2a2a" stroke-width="0.9"/>
<line x1="25.80" y1="348.43" x2="29.20" y2="348.43" stroke="#2a2a2a" stroke-width="0.9"/>
<line x1="316.80" y1="348.43" x2="313.40" y2="348.43" stroke="#2a2a2a" stroke-width="0.9"/>
<line x1="25.80" y1="327.29" x2="29.20" y2="327.29" stroke="#2a2a2a" stroke-width="0.9"/>
<line x1="316.80" y1="327.29" x2="313.40" y2="327.29" stroke="#2a2a2a" stroke-width="0.9"/>
<line x1="25.80" y1="306.14" x2="29.20" y2="306.14" stroke="#2a2a2a" stroke-width="0.9"/>
<line x1="316.80" y1="306.14" x2="313.40" y2="306.14" stroke="#2a2a2a" stroke-width="0.9"/>
<line x1="25.80" y1="285.00" x2="29.20" y2="285.00" stroke="#2a2a2a" stroke-width="0.9"/>
<line x1="316.80" y1="285.00" x2="313.40" y2="285.00" stroke="#2a2a2a" stroke-width="0.9"/>
<text x="25.80" y="484.20" font-size="5.0" text-anchor="middle" fill="#262626">0</text>
<text x="54.90" y="484.20" font-size="5.0" text-anchor="middle" fill="#262626">50</text>
<text x="84.00" y="484.20" font-size="5.0" text-anchor="middle" fill="#262626">100</text>
<text x="113.10" y="484.20" font-size="5.0" text-anchor="middle" fill="#262626">150</text>
<text x="142.20" y="484.20" font-size="5.0" text-anchor="middle" fill="#262626">200</text>
<text x="171.30" y="484.20" font-size="5.0" text-anchor="middle" fill="#262626">250</text>
<text x="200.40" y="484.20" font-size="5.0" text-anchor="middle" fill="#262626">300</text>
<text x="229.50" y="484.20" font-size="5.0" text-anchor="middle" fill="#262626">350</text>
<text x="258.60" y="484.20" font-size="5.0" text-anchor="middle" fill="#262626">400</text>
<text x="287.70" y="484.20" font-size="5.0" text-anchor="middle" fill="#262626">450</text>
<text x="316.80" y="484.20" font-size="5.0" text-anchor="middle" fill="#262626">500</text>
<text x="23.50" y="478.20" font-size="5.0" text-anchor="end" fill="#262626">0</text>
<text x="23.50" y="457.06" font-size="5.0" text-anchor="end" fill="#262626">0.5</text>
<text x="23.50" y="435.91" font-size="5.0" text-anchor="end" fill="#262626">1</text>
<text x="23.50" y="414.77" font-size="5.0" text-anchor="end" fill="#262626">1.5</text>
<text x="23.50" y="393.62" font-size="5.0" text-anchor="end" fill="#262626">2</text>
<text x="23.50" y="372.48" font-size="5.0" text-anchor="end" fill="#262626">2.5</text>
<text x="23.50" y="351.33" font-size="5.0" text-anchor="end" fill="#262626">3</text>
<text x="23.50" y="330.19" font-size="5.0" text-anchor="end" fill="#262626">3.5</text>
<text x="23.50" y="309.04" font-size="5.0" text-anchor="end" fill="#262626">4</text>
<text x="23.50" y="287.90" font-size="5.0" text-anchor="end" fill="#262626">4.5</text>
<text x="26.10" y="283.50" font-size="4.7" fill="#262626">× 10<tspan dy="-1.9" font-size="3.4">4</tspan></text>
<polyline points="25.8,473.8 26.8,473.9 27.7,473.9 28.7,473.9 29.7,474.0 30.6,474.0 31.6,474.0 32.6,474.1 33.6,474.1 34.5,474.1 35.5,474.2 36.5,474.2 37.4,474.2 38.4,474.3 39.4,474.3 40.4,474.3 41.3,474.3 42.3,474.4 43.3,474.4 44.2,474.4 45.2,474.4 46.2,474.4 47.1,474.4 48.1,474.4 49.1,474.4 50.1,474.4 51.0,474.3 52.0,474.3 53.0,474.2 53.9,474.0 54.9,473.8 55.9,473.5 56.8,473.2 57.8,472.7 58.8,472.2 59.8,471.6 60.7,470.8 61.7,469.9 62.7,468.8 63.6,467.6 64.6,466.2 65.6,464.6 66.5,462.8 67.5,460.8 68.5,458.7 69.5,456.3 70.4,453.8 71.4,451.1 72.4,448.2 73.3,445.2 74.3,442.1 75.3,438.8 76.2,435.4 77.2,431.9 78.2,428.4 79.2,424.7 80.1,421.1 81.1,417.4 82.1,413.7 83.0,410.0 84.0,406.3 85.0,402.6 85.9,399.0 86.9,395.4 87.9,391.9 88.9,388.5 89.8,385.1 90.8,381.8 91.8,378.6 92.7,375.4 93.7,372.4 94.7,369.4 95.6,366.5 96.6,363.7 97.6,361.0 98.5,358.4 99.5,355.9 100.5,353.5 101.5,351.1 102.4,348.9 103.4,346.7 104.4,344.7 105.3,342.7 106.3,340.7 107.3,338.9 108.3,337.1 109.2,335.4 110.2,333.8 111.2,332.2 112.1,330.7 113.1,329.3 114.1,327.9 115.0,326.6 116.0,325.3 117.0,324.1 118.0,323.0 118.9,321.9 119.9,320.8 120.9,319.8 121.8,318.8 122.8,317.9 123.8,317.0 124.7,316.1 125.7,315.3 126.7,314.5 127.6,313.8 128.6,313.0 129.6,312.4 130.6,311.7 131.5,311.1 132.5,310.5 133.5,309.9 134.4,309.3 135.4,308.8 136.4,308.3 137.4,307.8 138.3,307.3 139.3,306.9 140.3,306.5 141.2,306.1 142.2,305.7 143.2,305.3 144.1,304.9 145.1,304.6 146.1,304.3 147.1,304.0 148.0,303.7 149.0,303.4 150.0,303.1 150.9,302.8 151.9,302.6 152.9,302.4 153.8,302.1 154.8,301.9 155.8,301.7 156.8,301.5 157.7,301.3 158.7,301.1 159.7,301.0 160.6,300.8 161.6,300.6 162.6,300.5 163.5,300.3 164.5,300.2 165.5,300.1 166.5,299.9 167.4,299.8 168.4,299.7 169.4,299.6 170.3,299.5 171.3,299.4 172.3,299.3 173.2,299.2 174.2,299.2 175.2,299.1 176.2,299.0 177.1,298.9 178.1,298.9 179.1,298.8 180.0,298.8 181.0,298.7 182.0,298.7 182.9,298.6 183.9,298.6 184.9,298.5 185.9,298.5 186.8,298.5 187.8,298.4 188.8,298.4 189.7,298.4 190.7,298.4 191.7,298.3 192.6,298.3 193.6,298.3 194.6,298.3 195.6,298.3 196.5,298.3 197.5,298.3 198.5,298.3 199.4,298.3 200.4,298.2 201.4,298.2 202.3,298.3 203.3,298.3 204.3,298.3 205.3,298.3 206.2,298.3 207.2,298.3 208.2,298.3 209.1,298.3 210.1,298.3 211.1,298.3 212.0,298.4 213.0,298.4 214.0,298.4 215.0,298.4 215.9,298.4 216.9,298.5 217.9,298.5 218.8,298.5 219.8,298.5 220.8,298.6 221.7,298.6 222.7,298.6 223.7,298.6 224.7,298.7 225.6,298.7 226.6,298.7 227.6,298.8 228.5,298.8 229.5,298.8 230.5,298.9 231.4,298.9 232.4,298.9 233.4,299.0 234.4,299.0 235.3,299.0 236.3,299.1 237.3,299.1 238.2,299.2 239.2,299.2 240.2,299.2 241.1,299.3 242.1,299.3 243.1,299.4 244.1,299.4 245.0,299.5 246.0,299.5 247.0,299.5 247.9,299.6 248.9,299.6 249.9,299.7 250.8,299.7 251.8,299.8 252.8,299.8 253.8,299.9 254.7,299.9 255.7,300.0 256.7,300.0 257.6,300.1 258.6,300.1 259.6,300.1 260.5,300.2 261.5,300.2 262.5,300.3 263.5,300.3 264.4,300.4 265.4,300.4 266.4,300.5 267.3,300.6 268.3,300.6 269.3,300.7 270.2,300.7 271.2,300.8 272.2,300.8 273.1,300.9 274.1,300.9 275.1,301.0 276.1,301.0 277.0,301.1 278.0,301.1 279.0,301.2 279.9,301.2 280.9,301.3 281.9,301.3 282.9,301.4 283.8,301.4 284.8,301.5 285.8,301.6 286.7,301.6 287.7,301.7 288.7,301.7 289.6,301.8 290.6,301.8 291.6,301.9 292.6,301.9 293.5,302.0 294.5,302.1 295.5,302.1 296.4,302.2 297.4,302.2 298.4,302.3 299.3,302.3 300.3,302.4 301.3,302.5 302.2,302.5 303.2,302.6 304.2,302.6 305.2,302.7 306.1,302.7 307.1,302.8 308.1,302.9 309.0,302.9 310.0,303.0 311.0,303.0 312.0,303.1 312.9,303.1 313.9,303.2 314.9,303.3 315.8,303.3 316.8,303.4" fill="none" stroke="#0000ff" stroke-width="1.4" stroke-linejoin="round"/>
<polyline points="25.8,473.8 26.8,473.9 27.7,473.9 28.7,473.9 29.7,474.0 30.6,474.0 31.6,474.0 32.6,474.1 33.6,474.1 34.5,474.1 35.5,474.2 36.5,474.2 37.4,474.2 38.4,474.3 39.4,474.3 40.4,474.3 41.3,474.4 42.3,474.4 43.3,474.4 44.2,474.4 45.2,474.4 46.2,474.5 47.1,474.5 48.1,474.5 49.1,474.5 50.1,474.5 51.0,474.5 52.0,474.5 53.0,474.5 53.9,474.4 54.9,474.3 55.9,474.2 56.8,474.1 57.8,473.9 58.8,473.6 59.8,473.2 60.7,472.8 61.7,472.3 62.7,471.6 63.6,470.8 64.6,469.9 65.6,468.8 66.5,467.6 67.5,466.2 68.5,464.6 69.5,462.9 70.4,461.0 71.4,458.9 72.4,456.6 73.3,454.2 74.3,451.7 75.3,449.0 76.2,446.2 77.2,443.3 78.2,440.3 79.2,437.3 80.1,434.1 81.1,431.0 82.1,427.8 83.0,424.6 84.0,421.4 85.0,418.2 85.9,415.0 86.9,411.9 87.9,408.8 88.9,405.8 89.8,402.8 90.8,399.9 91.8,397.0 92.7,394.2 93.7,391.5 94.7,388.9 95.6,386.4 96.6,383.9 97.6,381.5 98.5,379.3 99.5,377.0 100.5,374.9 101.5,372.9 102.4,370.9 103.4,369.0 104.4,367.2 105.3,365.4 106.3,363.7 107.3,362.1 108.3,360.6 109.2,359.1 110.2,357.7 111.2,356.3 112.1,355.0 113.1,353.8 114.1,352.6 115.0,351.5 116.0,350.4 117.0,349.3 118.0,348.3 118.9,347.4 119.9,346.5 120.9,345.6 121.8,344.8 122.8,344.0 123.8,343.2 124.7,342.5 125.7,341.8 126.7,341.1 127.6,340.5 128.6,339.9 129.6,339.3 130.6,338.7 131.5,338.2 132.5,337.7 133.5,337.2 134.4,336.7 135.4,336.3 136.4,335.9 137.4,335.5 138.3,335.1 139.3,334.7 140.3,334.3 141.2,334.0 142.2,333.7 143.2,333.4 144.1,333.1 145.1,332.8 146.1,332.5 147.1,332.2 148.0,332.0 149.0,331.8 150.0,331.5 150.9,331.3 151.9,331.1 152.9,330.9 153.8,330.7 154.8,330.5 155.8,330.4 156.8,330.2 157.7,330.0 158.7,329.9 159.7,329.7 160.6,329.6 161.6,329.5 162.6,329.3 163.5,329.2 164.5,329.1 165.5,329.0 166.5,328.9 167.4,328.8 168.4,328.7 169.4,328.6 170.3,328.5 171.3,328.5 172.3,328.4 173.2,328.3 174.2,328.2 175.2,328.2 176.2,328.1 177.1,328.1 178.1,328.0 179.1,328.0 180.0,327.9 181.0,327.9 182.0,327.8 182.9,327.8 183.9,327.8 184.9,327.7 185.9,327.7 186.8,327.7 187.8,327.6 188.8,327.6 189.7,327.6 190.7,327.6 191.7,327.5 192.6,327.5 193.6,327.5 194.6,327.5 195.6,327.5 196.5,327.5 197.5,327.5 198.5,327.5 199.4,327.5 200.4,327.5 201.4,327.5 202.3,327.5 203.3,327.5 204.3,327.5 205.3,327.5 206.2,327.5 207.2,327.5 208.2,327.5 209.1,327.5 210.1,327.5 211.1,327.5 212.0,327.5 213.0,327.5 214.0,327.5 215.0,327.6 215.9,327.6 216.9,327.6 217.9,327.6 218.8,327.6 219.8,327.6 220.8,327.7 221.7,327.7 222.7,327.7 223.7,327.7 224.7,327.7 225.6,327.8 226.6,327.8 227.6,327.8 228.5,327.8 229.5,327.9 230.5,327.9 231.4,327.9 232.4,327.9 233.4,328.0 234.4,328.0 235.3,328.0 236.3,328.0 237.3,328.1 238.2,328.1 239.2,328.1 240.2,328.2 241.1,328.2 242.1,328.2 243.1,328.3 244.1,328.3 245.0,328.3 246.0,328.3 247.0,328.4 247.9,328.4 248.9,328.4 249.9,328.5 250.8,328.5 251.8,328.5 252.8,328.6 253.8,328.6 254.7,328.7 255.7,328.7 256.7,328.7 257.6,328.8 258.6,328.8 259.6,328.8 260.5,328.9 261.5,328.9 262.5,328.9 263.5,329.0 264.4,329.0 265.4,329.1 266.4,329.1 267.3,329.1 268.3,329.2 269.3,329.2 270.2,329.2 271.2,329.3 272.2,329.3 273.1,329.4 274.1,329.4 275.1,329.4 276.1,329.5 277.0,329.5 278.0,329.6 279.0,329.6 279.9,329.6 280.9,329.7 281.9,329.7 282.9,329.8 283.8,329.8 284.8,329.8 285.8,329.9 286.7,329.9 287.7,330.0 288.7,330.0 289.6,330.0 290.6,330.1 291.6,330.1 292.6,330.2 293.5,330.2 294.5,330.2 295.5,330.3 296.4,330.3 297.4,330.4 298.4,330.4 299.3,330.5 300.3,330.5 301.3,330.5 302.2,330.6 303.2,330.6 304.2,330.7 305.2,330.7 306.1,330.8 307.1,330.8 308.1,330.8 309.0,330.9 310.0,330.9 311.0,331.0 312.0,331.0 312.9,331.1 313.9,331.1 314.9,331.1 315.8,331.2 316.8,331.2" fill="none" stroke="#ff0000" stroke-width="1.4" stroke-linejoin="round"/>
<polyline points="25.8,473.8 26.8,473.9 27.7,473.9 28.7,473.9 29.7,474.0 30.6,474.0 31.6,474.0 32.6,474.1 33.6,474.1 34.5,474.1 35.5,474.2 36.5,474.2 37.4,474.2 38.4,474.3 39.4,474.3 40.4,474.3 41.3,474.3 42.3,474.4 43.3,474.4 44.2,474.4 45.2,474.4 46.2,474.5 47.1,474.5 48.1,474.5 49.1,474.5 50.1,474.5 51.0,474.5 52.0,474.5 53.0,474.5 53.9,474.5 54.9,474.5 55.9,474.5 56.8,474.4 57.8,474.4 58.8,474.3 59.8,474.2 60.7,474.1 61.7,474.0 62.7,473.9 63.6,473.7 64.6,473.5 65.6,473.3 66.5,473.0 67.5,472.7 68.5,472.3 69.5,471.9 70.4,471.4 71.4,470.9 72.4,470.3 73.3,469.6 74.3,468.9 75.3,468.0 76.2,467.1 77.2,466.1 78.2,465.0 79.2,463.8 80.1,462.5 81.1,461.1 82.1,459.6 83.0,458.1 84.0,456.4 85.0,454.6 85.9,452.7 86.9,450.7 87.9,448.7 88.9,446.5 89.8,444.3 90.8,442.1 91.8,439.7 92.7,437.4 93.7,434.9 94.7,432.5 95.6,430.0 96.6,427.5 97.6,425.0 98.5,422.5 99.5,420.0 100.5,417.6 101.5,415.1 102.4,412.7 103.4,410.3 104.4,408.0 105.3,405.7 106.3,403.5 107.3,401.3 108.3,399.2 109.2,397.2 110.2,395.2 111.2,393.3 112.1,391.4 113.1,389.6 114.1,387.9 115.0,386.2 116.0,384.6 117.0,383.1 118.0,381.6 118.9,380.2 119.9,378.9 120.9,377.6 121.8,376.4 122.8,375.2 123.8,374.1 124.7,373.0 125.7,372.0 126.7,371.0 127.6,370.1 128.6,369.2 129.6,368.4 130.6,367.6 131.5,366.8 132.5,366.1 133.5,365.4 134.4,364.7 135.4,364.1 136.4,363.5 137.4,363.0 138.3,362.4 139.3,361.9 140.3,361.5 141.2,361.0 142.2,360.6 143.2,360.2 144.1,359.8 145.1,359.4 146.1,359.1 147.1,358.7 148.0,358.4 149.0,358.1 150.0,357.8 150.9,357.5 151.9,357.3 152.9,357.0 153.8,356.8 154.8,356.6 155.8,356.4 156.8,356.2 157.7,356.0 158.7,355.8 159.7,355.6 160.6,355.5 161.6,355.3 162.6,355.2 163.5,355.1 164.5,354.9 165.5,354.8 166.5,354.7 167.4,354.6 168.4,354.5 169.4,354.4 170.3,354.3 171.3,354.2 172.3,354.1 173.2,354.0 174.2,354.0 175.2,353.9 176.2,353.8 177.1,353.8 178.1,353.7 179.1,353.6 180.0,353.6 181.0,353.5 182.0,353.5 182.9,353.4 183.9,353.4 184.9,353.4 185.9,353.3 186.8,353.3 187.8,353.3 188.8,353.2 189.7,353.2 190.7,353.2 191.7,353.2 192.6,353.2 193.6,353.1 194.6,353.1 195.6,353.1 196.5,353.1 197.5,353.1 198.5,353.1 199.4,353.1 200.4,353.0 201.4,353.0 202.3,353.0 203.3,353.0 204.3,353.0 205.3,353.0 206.2,353.0 207.2,353.0 208.2,353.0 209.1,353.0 210.1,353.0 211.1,353.0 212.0,353.0 213.0,353.0 214.0,353.0 215.0,353.0 215.9,353.1 216.9,353.1 217.9,353.1 218.8,353.1 219.8,353.1 220.8,353.1 221.7,353.1 222.7,353.1 223.7,353.1 224.7,353.1 225.6,353.2 226.6,353.2 227.6,353.2 228.5,353.2 229.5,353.2 230.5,353.2 231.4,353.2 232.4,353.3 233.4,353.3 234.4,353.3 235.3,353.3 236.3,353.3 237.3,353.3 238.2,353.4 239.2,353.4 240.2,353.4 241.1,353.4 242.1,353.4 243.1,353.4 244.1,353.5 245.0,353.5 246.0,353.5 247.0,353.5 247.9,353.5 248.9,353.6 249.9,353.6 250.8,353.6 251.8,353.6 252.8,353.6 253.8,353.7 254.7,353.7 255.7,353.7 256.7,353.7 257.6,353.7 258.6,353.8 259.6,353.8 260.5,353.8 261.5,353.8 262.5,353.8 263.5,353.9 264.4,353.9 265.4,353.9 266.4,353.9 267.3,354.0 268.3,354.0 269.3,354.0 270.2,354.0 271.2,354.1 272.2,354.1 273.1,354.1 274.1,354.1 275.1,354.1 276.1,354.2 277.0,354.2 278.0,354.2 279.0,354.2 279.9,354.3 280.9,354.3 281.9,354.3 282.9,354.3 283.8,354.4 284.8,354.4 285.8,354.4 286.7,354.4 287.7,354.5 288.7,354.5 289.6,354.5 290.6,354.5 291.6,354.5 292.6,354.6 293.5,354.6 294.5,354.6 295.5,354.6 296.4,354.7 297.4,354.7 298.4,354.7 299.3,354.7 300.3,354.8 301.3,354.8 302.2,354.8 303.2,354.8 304.2,354.9 305.2,354.9 306.1,354.9 307.1,354.9 308.1,355.0 309.0,355.0 310.0,355.0 311.0,355.0 312.0,355.1 312.9,355.1 313.9,355.1 314.9,355.1 315.8,355.2 316.8,355.2" fill="none" stroke="#000000" stroke-width="1.4" stroke-linejoin="round"/>
<polyline points="25.8,473.8 26.8,473.9 27.7,473.9 28.7,473.9 29.7,474.0 30.6,474.0 31.6,474.0 32.6,474.1 33.6,474.1 34.5,474.1 35.5,474.2 36.5,474.2 37.4,474.2 38.4,474.3 39.4,474.3 40.4,474.3 41.3,474.4 42.3,474.4 43.3,474.4 44.2,474.4 45.2,474.5 46.2,474.5 47.1,474.5 48.1,474.5 49.1,474.5 50.1,474.6 51.0,474.6 52.0,474.6 53.0,474.6 53.9,474.6 54.9,474.7 55.9,474.7 56.8,474.7 57.8,474.7 58.8,474.7 59.8,474.7 60.7,474.8 61.7,474.8 62.7,474.8 63.6,474.8 64.6,474.8 65.6,474.8 66.5,474.8 67.5,474.8 68.5,474.8 69.5,474.8 70.4,474.7 71.4,474.7 72.4,474.6 73.3,474.5 74.3,474.4 75.3,474.3 76.2,474.1 77.2,473.8 78.2,473.5 79.2,473.2 80.1,472.8 81.1,472.3 82.1,471.7 83.0,471.0 84.0,470.3 85.0,469.4 85.9,468.5 86.9,467.4 87.9,466.2 88.9,465.0 89.8,463.6 90.8,462.2 91.8,460.6 92.7,459.0 93.7,457.3 94.7,455.6 95.6,453.8 96.6,452.0 97.6,450.1 98.5,448.2 99.5,446.3 100.5,444.4 101.5,442.5 102.4,440.7 103.4,438.8 104.4,437.0 105.3,435.2 106.3,433.4 107.3,431.7 108.3,430.1 109.2,428.4 110.2,426.9 111.2,425.4 112.1,423.9 113.1,422.5 114.1,421.1 115.0,419.8 116.0,418.6 117.0,417.4 118.0,416.3 118.9,415.2 119.9,414.1 120.9,413.1 121.8,412.2 122.8,411.3 123.8,410.4 124.7,409.6 125.7,408.8 126.7,408.1 127.6,407.4 128.6,406.7 129.6,406.1 130.6,405.5 131.5,404.9 132.5,404.4 133.5,403.9 134.4,403.4 135.4,402.9 136.4,402.5 137.4,402.1 138.3,401.7 139.3,401.3 140.3,400.9 141.2,400.6 142.2,400.3 143.2,400.0 144.1,399.7 145.1,399.4 146.1,399.1 147.1,398.9 148.0,398.7 149.0,398.4 150.0,398.2 150.9,398.0 151.9,397.8 152.9,397.6 153.8,397.5 154.8,397.3 155.8,397.2 156.8,397.0 157.7,396.9 158.7,396.7 159.7,396.6 160.6,396.5 161.6,396.4 162.6,396.3 163.5,396.2 164.5,396.1 165.5,396.0 166.5,395.9 167.4,395.8 168.4,395.7 169.4,395.7 170.3,395.6 171.3,395.5 172.3,395.5 173.2,395.4 174.2,395.3 175.2,395.3 176.2,395.2 177.1,395.2 178.1,395.2 179.1,395.1 180.0,395.1 181.0,395.0 182.0,395.0 182.9,395.0 183.9,394.9 184.9,394.9 185.9,394.9 186.8,394.8 187.8,394.8 188.8,394.8 189.7,394.8 190.7,394.8 191.7,394.7 192.6,394.7 193.6,394.7 194.6,394.7 195.6,394.7 196.5,394.7 197.5,394.7 198.5,394.6 199.4,394.6 200.4,394.6 201.4,394.6 202.3,394.6 203.3,394.6 204.3,394.6 205.3,394.6 206.2,394.6 207.2,394.6 208.2,394.6 209.1,394.6 210.1,394.6 211.1,394.6 212.0,394.6 213.0,394.6 214.0,394.6 215.0,394.6 215.9,394.6 216.9,394.6 217.9,394.6 218.8,394.6 219.8,394.6 220.8,394.6 221.7,394.6 222.7,394.6 223.7,394.6 224.7,394.6 225.6,394.6 226.6,394.6 227.6,394.6 228.5,394.7 229.5,394.7 230.5,394.7 231.4,394.7 232.4,394.7 233.4,394.7 234.4,394.7 235.3,394.7 236.3,394.7 237.3,394.7 238.2,394.7 239.2,394.8 240.2,394.8 241.1,394.8 242.1,394.8 243.1,394.8 244.1,394.8 245.0,394.8 246.0,394.8 247.0,394.8 247.9,394.8 248.9,394.9 249.9,394.9 250.8,394.9 251.8,394.9 252.8,394.9 253.8,394.9 254.7,394.9 255.7,394.9 256.7,395.0 257.6,395.0 258.6,395.0 259.6,395.0 260.5,395.0 261.5,395.0 262.5,395.0 263.5,395.0 264.4,395.1 265.4,395.1 266.4,395.1 267.3,395.1 268.3,395.1 269.3,395.1 270.2,395.1 271.2,395.1 272.2,395.2 273.1,395.2 274.1,395.2 275.1,395.2 276.1,395.2 277.0,395.2 278.0,395.2 279.0,395.3 279.9,395.3 280.9,395.3 281.9,395.3 282.9,395.3 283.8,395.3 284.8,395.3 285.8,395.4 286.7,395.4 287.7,395.4 288.7,395.4 289.6,395.4 290.6,395.4 291.6,395.4 292.6,395.5 293.5,395.5 294.5,395.5 295.5,395.5 296.4,395.5 297.4,395.5 298.4,395.5 299.3,395.6 300.3,395.6 301.3,395.6 302.2,395.6 303.2,395.6 304.2,395.6 305.2,395.7 306.1,395.7 307.1,395.7 308.1,395.7 309.0,395.7 310.0,395.7 311.0,395.7 312.0,395.8 312.9,395.8 313.9,395.8 314.9,395.8 315.8,395.8 316.8,395.8" fill="none" stroke="#a2142f" stroke-width="1.4" stroke-linejoin="round"/>
<polyline points="25.8,473.8 26.8,473.9 27.7,473.9 28.7,473.9 29.7,474.0 30.6,474.0 31.6,474.0 32.6,474.1 33.6,474.1 34.5,474.1 35.5,474.2 36.5,474.2 37.4,474.2 38.4,474.3 39.4,474.3 40.4,474.3 41.3,474.4 42.3,474.4 43.3,474.4 44.2,474.4 45.2,474.5 46.2,474.5 47.1,474.5 48.1,474.5 49.1,474.5 50.1,474.6 51.0,474.6 52.0,474.6 53.0,474.6 53.9,474.6 54.9,474.7 55.9,474.7 56.8,474.7 57.8,474.7 58.8,474.7 59.8,474.7 60.7,474.7 61.7,474.8 62.7,474.8 63.6,474.8 64.6,474.8 65.6,474.8 66.5,474.8 67.5,474.8 68.5,474.8 69.5,474.8 70.4,474.8 71.4,474.8 72.4,474.8 73.3,474.8 74.3,474.8 75.3,474.8 76.2,474.7 77.2,474.7 78.2,474.7 79.2,474.6 80.1,474.6 81.1,474.6 82.1,474.5 83.0,474.5 84.0,474.4 85.0,474.3 85.9,474.2 86.9,474.1 87.9,474.0 88.9,473.9 89.8,473.8 90.8,473.6 91.8,473.4 92.7,473.3 93.7,473.0 94.7,472.8 95.6,472.6 96.6,472.3 97.6,472.0 98.5,471.7 99.5,471.4 100.5,471.0 101.5,470.6 102.4,470.1 103.4,469.7 104.4,469.2 105.3,468.6 106.3,468.0 107.3,467.4 108.3,466.8 109.2,466.0 110.2,465.3 111.2,464.5 112.1,463.7 113.1,462.8 114.1,461.9 115.0,460.9 116.0,459.9 117.0,458.8 118.0,457.8 118.9,456.6 119.9,455.5 120.9,454.3 121.8,453.1 122.8,451.8 123.8,450.6 124.7,449.3 125.7,448.0 126.7,446.7 127.6,445.4 128.6,444.1 129.6,442.8 130.6,441.5 131.5,440.3 132.5,439.0 133.5,437.8 134.4,436.6 135.4,435.4 136.4,434.3 137.4,433.2 138.3,432.1 139.3,431.1 140.3,430.1 141.2,429.2 142.2,428.2 143.2,427.4 144.1,426.5 145.1,425.7 146.1,425.0 147.1,424.3 148.0,423.6 149.0,422.9 150.0,422.3 150.9,421.7 151.9,421.2 152.9,420.7 153.8,420.2 154.8,419.7 155.8,419.3 156.8,418.9 157.7,418.5 158.7,418.2 159.7,417.8 160.6,417.5 161.6,417.2 162.6,416.9 163.5,416.7 164.5,416.4 165.5,416.2 166.5,416.0 167.4,415.8 168.4,415.6 169.4,415.4 170.3,415.2 171.3,415.1 172.3,414.9 173.2,414.8 174.2,414.7 175.2,414.5 176.2,414.4 177.1,414.3 178.1,414.2 179.1,414.1 180.0,414.0 181.0,414.0 182.0,413.9 182.9,413.8 183.9,413.7 184.9,413.7 185.9,413.6 186.8,413.6 187.8,413.5 188.8,413.4 189.7,413.4 190.7,413.4 191.7,413.3 192.6,413.3 193.6,413.2 194.6,413.2 195.6,413.2 196.5,413.1 197.5,413.1 198.5,413.1 199.4,413.0 200.4,413.0 201.4,413.0 202.3,413.0 203.3,413.0 204.3,412.9 205.3,412.9 206.2,412.9 207.2,412.9 208.2,412.9 209.1,412.9 210.1,412.8 211.1,412.8 212.0,412.8 213.0,412.8 214.0,412.8 215.0,412.8 215.9,412.8 216.9,412.8 217.9,412.7 218.8,412.7 219.8,412.7 220.8,412.7 221.7,412.7 222.7,412.7 223.7,412.7 224.7,412.7 225.6,412.7 226.6,412.7 227.6,412.7 228.5,412.7 229.5,412.7 230.5,412.7 231.4,412.7 232.4,412.7 233.4,412.6 234.4,412.6 235.3,412.6 236.3,412.6 237.3,412.6 238.2,412.6 239.2,412.6 240.2,412.6 241.1,412.6 242.1,412.6 243.1,412.6 244.1,412.6 245.0,412.6 246.0,412.6 247.0,412.6 247.9,412.6 248.9,412.6 249.9,412.6 250.8,412.6 251.8,412.6 252.8,412.6 253.8,412.6 254.7,412.6 255.7,412.6 256.7,412.6 257.6,412.6 258.6,412.6 259.6,412.6 260.5,412.6 261.5,412.6 262.5,412.6 263.5,412.6 264.4,412.6 265.4,412.6 266.4,412.6 267.3,412.6 268.3,412.6 269.3,412.6 270.2,412.6 271.2,412.6 272.2,412.6 273.1,412.6 274.1,412.6 275.1,412.6 276.1,412.6 277.0,412.6 278.0,412.6 279.0,412.6 279.9,412.6 280.9,412.6 281.9,412.6 282.9,412.6 283.8,412.6 284.8,412.6 285.8,412.6 286.7,412.6 287.7,412.6 288.7,412.6 289.6,412.6 290.6,412.6 291.6,412.6 292.6,412.6 293.5,412.6 294.5,412.6 295.5,412.6 296.4,412.6 297.4,412.6 298.4,412.6 299.3,412.6 300.3,412.6 301.3,412.6 302.2,412.6 303.2,412.6 304.2,412.6 305.2,412.6 306.1,412.6 307.1,412.6 308.1,412.6 309.0,412.6 310.0,412.6 311.0,412.6 312.0,412.6 312.9,412.6 313.9,412.6 314.9,412.6 315.8,412.6 316.8,412.6" fill="none" stroke="#77ac30" stroke-width="1.4" stroke-linejoin="round"/>
<rect x="25.80" y="285.00" width="291.00" height="190.30" fill="none" stroke="#555555" stroke-width="0.75"/>
<rect x="27.7" y="285.0" width="100.40" height="38.40" fill="#fff" stroke="#262626" stroke-width="0.6"/>
<line x1="30.1" y1="290.2" x2="46.8" y2="290.2" stroke="#0000ff" stroke-width="1.4"/>
<text x="47.9" y="291.80" font-size="4.9" fill="#000" textLength="40.50" lengthAdjust="spacingAndGlyphs">Baseline values of</text>
<text x="90.8" y="291.80" font-size="5.63" fill="#444" font-family='"Liberation Serif", serif' font-style="italic" textLength="24.30" lengthAdjust="spacingAndGlyphs">β<tspan font-size="3.49" dy="1.41">1</tspan><tspan dy="-1.41">, β</tspan><tspan font-size="3.49" dy="1.41">2</tspan><tspan dy="-1.41">, β</tspan><tspan font-size="3.49" dy="1.41">3</tspan></text>
<line x1="30.1" y1="298.3" x2="46.8" y2="298.3" stroke="#ff0000" stroke-width="1.4"/>
<text x="47.9" y="299.90" font-size="4.9" fill="#000" textLength="77.70" lengthAdjust="spacingAndGlyphs">with 10% increase in contact rates</text>
<line x1="30.1" y1="305.1" x2="46.8" y2="305.1" stroke="#000000" stroke-width="1.4"/>
<text x="47.9" y="306.70" font-size="4.9" fill="#000" textLength="77.70" lengthAdjust="spacingAndGlyphs">with 20% increase in contact rates</text>
<line x1="30.1" y1="312.1" x2="46.8" y2="312.1" stroke="#a2142f" stroke-width="1.4"/>
<text x="47.9" y="313.70" font-size="4.9" fill="#000" textLength="77.70" lengthAdjust="spacingAndGlyphs">with 40% increase in contact rates</text>
<line x1="30.1" y1="318.9" x2="46.8" y2="318.9" stroke="#77ac30" stroke-width="1.4"/>
<text x="47.9" y="320.50" font-size="4.9" fill="#000" textLength="77.70" lengthAdjust="spacingAndGlyphs">with 50% increase in contact rates</text>
<text x="159.60" y="280.50" font-size="11.2" fill="#333" font-family='"Liberation Serif", serif' font-style="italic">ϑ</text>
<text x="166.00" y="280.50" font-size="10" font-weight="bold" fill="#000">=01</text>
<text x="140.60" y="495.70" font-size="10.5" fill="#000" textLength="61.60" lengthAdjust="spacingAndGlyphs">Time in Days</text>
<text transform="translate(7.90,435.50) rotate(-90)" x="0" y="0" font-size="10.6" fill="#000" textLength="109.80" lengthAdjust="spacingAndGlyphs">Clinically ill humans, C<tspan font-size="7.8" dy="4.9">h</tspan></text>
<text x="166.10" y="515.60" font-size="15.3" text-anchor="middle" font-family='"Liberation Serif", serif' fill="#000">(c)</text></g>
<g><line x1="401.22" y1="285.00" x2="401.22" y2="475.30" stroke="#e2e2e2" stroke-width="0.6"/>
<line x1="430.24" y1="285.00" x2="430.24" y2="475.30" stroke="#e2e2e2" stroke-width="0.6"/>
<line x1="459.26" y1="285.00" x2="459.26" y2="475.30" stroke="#e2e2e2" stroke-width="0.6"/>
<line x1="488.28" y1="285.00" x2="488.28" y2="475.30" stroke="#e2e2e2" stroke-width="0.6"/>
<line x1="517.30" y1="285.00" x2="517.30" y2="475.30" stroke="#e2e2e2" stroke-width="0.6"/>
<line x1="546.32" y1="285.00" x2="546.32" y2="475.30" stroke="#e2e2e2" stroke-width="0.6"/>
<line x1="575.34" y1="285.00" x2="575.34" y2="475.30" stroke="#e2e2e2" stroke-width="0.6"/>
<line x1="604.36" y1="285.00" x2="604.36" y2="475.30" stroke="#e2e2e2" stroke-width="0.6"/>
<line x1="633.38" y1="285.00" x2="633.38" y2="475.30" stroke="#e2e2e2" stroke-width="0.6"/>
<line x1="372.20" y1="437.24" x2="662.40" y2="437.24" stroke="#e2e2e2" stroke-width="0.6"/>
<line x1="372.20" y1="399.18" x2="662.40" y2="399.18" stroke="#e2e2e2" stroke-width="0.6"/>
<line x1="372.20" y1="361.12" x2="662.40" y2="361.12" stroke="#e2e2e2" stroke-width="0.6"/>
<line x1="372.20" y1="323.06" x2="662.40" y2="323.06" stroke="#e2e2e2" stroke-width="0.6"/>
<line x1="372.20" y1="475.30" x2="372.20" y2="471.90" stroke="#2a2a2a" stroke-width="0.9"/>
<line x1="372.20" y1="285.00" x2="372.20" y2="288.40" stroke="#2a2a2a" stroke-width="0.9"/>
<line x1="401.22" y1="475.30" x2="401.22" y2="471.90" stroke="#2a2a2a" stroke-width="0.9"/>
<line x1="401.22" y1="285.00" x2="401.22" y2="288.40" stroke="#2a2a2a" stroke-width="0.9"/>
<line x1="430.24" y1="475.30" x2="430.24" y2="471.90" stroke="#2a2a2a" stroke-width="0.9"/>
<line x1="430.24" y1="285.00" x2="430.24" y2="288.40" stroke="#2a2a2a" stroke-width="0.9"/>
<line x1="459.26" y1="475.30" x2="459.26" y2="471.90" stroke="#2a2a2a" stroke-width="0.9"/>
<line x1="459.26" y1="285.00" x2="459.26" y2="288.40" stroke="#2a2a2a" stroke-width="0.9"/>
<line x1="488.28" y1="475.30" x2="488.28" y2="471.90" stroke="#2a2a2a" stroke-width="0.9"/>
<line x1="488.28" y1="285.00" x2="488.28" y2="288.40" stroke="#2a2a2a" stroke-width="0.9"/>
<line x1="517.30" y1="475.30" x2="517.30" y2="471.90" stroke="#2a2a2a" stroke-width="0.9"/>
<line x1="517.30" y1="285.00" x2="517.30" y2="288.40" stroke="#2a2a2a" stroke-width="0.9"/>
<line x1="546.32" y1="475.30" x2="546.32" y2="471.90" stroke="#2a2a2a" stroke-width="0.9"/>
<line x1="546.32" y1="285.00" x2="546.32" y2="288.40" stroke="#2a2a2a" stroke-width="0.9"/>
<line x1="575.34" y1="475.30" x2="575.34" y2="471.90" stroke="#2a2a2a" stroke-width="0.9"/>
<line x1="575.34" y1="285.00" x2="575.34" y2="288.40" stroke="#2a2a2a" stroke-width="0.9"/>
<line x1="604.36" y1="475.30" x2="604.36" y2="471.90" stroke="#2a2a2a" stroke-width="0.9"/>
<line x1="604.36" y1="285.00" x2="604.36" y2="288.40" stroke="#2a2a2a" stroke-width="0.9"/>
<line x1="633.38" y1="475.30" x2="633.38" y2="471.90" stroke="#2a2a2a" stroke-width="0.9"/>
<line x1="633.38" y1="285.00" x2="633.38" y2="288.40" stroke="#2a2a2a" stroke-width="0.9"/>
<line x1="662.40" y1="475.30" x2="662.40" y2="471.90" stroke="#2a2a2a" stroke-width="0.9"/>
<line x1="662.40" y1="285.00" x2="662.40" y2="288.40" stroke="#2a2a2a" stroke-width="0.9"/>
<line x1="372.20" y1="475.30" x2="375.60" y2="475.30" stroke="#2a2a2a" stroke-width="0.9"/>
<line x1="662.40" y1="475.30" x2="659.00" y2="475.30" stroke="#2a2a2a" stroke-width="0.9"/>
<line x1="372.20" y1="437.24" x2="375.60" y2="437.24" stroke="#2a2a2a" stroke-width="0.9"/>
<line x1="662.40" y1="437.24" x2="659.00" y2="437.24" stroke="#2a2a2a" stroke-width="0.9"/>
<line x1="372.20" y1="399.18" x2="375.60" y2="399.18" stroke="#2a2a2a" stroke-width="0.9"/>
<line x1="662.40" y1="399.18" x2="659.00" y2="399.18" stroke="#2a2a2a" stroke-width="0.9"/>
<line x1="372.20" y1="361.12" x2="375.60" y2="361.12" stroke="#2a2a2a" stroke-width="0.9"/>
<line x1="662.40" y1="361.12" x2="659.00" y2="361.12" stroke="#2a2a2a" stroke-width="0.9"/>
<line x1="372.20" y1="323.06" x2="375.60" y2="323.06" stroke="#2a2a2a" stroke-width="0.9"/>
<line x1="662.40" y1="323.06" x2="659.00" y2="323.06" stroke="#2a2a2a" stroke-width="0.9"/>
<line x1="372.20" y1="285.00" x2="375.60" y2="285.00" stroke="#2a2a2a" stroke-width="0.9"/>
<line x1="662.40" y1="285.00" x2="659.00" y2="285.00" stroke="#2a2a2a" stroke-width="0.9"/>
<text x="372.20" y="484.20" font-size="5.0" text-anchor="middle" fill="#262626">0</text>
<text x="401.22" y="484.20" font-size="5.0" text-anchor="middle" fill="#262626">50</text>
<text x="430.24" y="484.20" font-size="5.0" text-anchor="middle" fill="#262626">100</text>
<text x="459.26" y="484.20" font-size="5.0" text-anchor="middle" fill="#262626">150</text>
<text x="488.28" y="484.20" font-size="5.0" text-anchor="middle" fill="#262626">200</text>
<text x="517.30" y="484.20" font-size="5.0" text-anchor="middle" fill="#262626">250</text>
<text x="546.32" y="484.20" font-size="5.0" text-anchor="middle" fill="#262626">300</text>
<text x="575.34" y="484.20" font-size="5.0" text-anchor="middle" fill="#262626">350</text>
<text x="604.36" y="484.20" font-size="5.0" text-anchor="middle" fill="#262626">400</text>
<text x="633.38" y="484.20" font-size="5.0" text-anchor="middle" fill="#262626">450</text>
<text x="662.40" y="484.20" font-size="5.0" text-anchor="middle" fill="#262626">500</text>
<text x="369.90" y="478.20" font-size="5.0" text-anchor="end" fill="#262626">0</text>
<text x="369.90" y="440.14" font-size="5.0" text-anchor="end" fill="#262626">0.5</text>
<text x="369.90" y="402.08" font-size="5.0" text-anchor="end" fill="#262626">1</text>
<text x="369.90" y="364.02" font-size="5.0" text-anchor="end" fill="#262626">1.5</text>
<text x="369.90" y="325.96" font-size="5.0" text-anchor="end" fill="#262626">2</text>
<text x="369.90" y="287.90" font-size="5.0" text-anchor="end" fill="#262626">2.5</text>
<text x="372.50" y="283.50" font-size="4.7" fill="#262626">× 10<tspan dy="-1.9" font-size="3.4">4</tspan></text>
<polyline points="372.2,475.0 373.2,474.9 374.1,474.8 375.1,474.7 376.1,474.6 377.0,474.4 378.0,474.3 379.0,474.0 379.9,473.8 380.9,473.4 381.9,473.0 382.8,472.6 383.8,472.0 384.8,471.3 385.7,470.5 386.7,469.5 387.7,468.2 388.6,466.8 389.6,465.0 390.6,462.9 391.5,460.4 392.5,457.4 393.5,453.8 394.4,449.6 395.4,444.5 396.4,438.7 397.4,431.8 398.3,423.9 399.3,414.9 400.3,404.7 401.2,393.4 402.2,381.0 403.2,367.8 404.1,354.0 405.1,340.2 406.1,326.8 407.0,314.6 408.0,304.2 409.0,296.2 409.9,291.3 410.9,289.8 411.9,291.5 412.8,296.0 413.8,303.1 414.8,312.5 415.7,323.4 416.7,335.5 417.7,348.1 418.6,360.9 419.6,373.4 420.6,385.3 421.5,396.5 422.5,406.7 423.5,415.9 424.4,424.2 425.4,431.5 426.4,437.8 427.3,443.4 428.3,448.2 429.3,452.3 430.2,455.9 431.2,458.9 432.2,461.5 433.1,463.6 434.1,465.5 435.1,467.1 436.0,468.4 437.0,469.5 438.0,470.4 438.9,471.2 439.9,471.9 440.9,472.4 441.8,472.9 442.8,473.3 443.8,473.6 444.8,473.9 445.7,474.1 446.7,474.3 447.7,474.5 448.6,474.6 449.6,474.7 450.6,474.8 451.5,474.9 452.5,475.0 453.5,475.0 454.4,475.1 455.4,475.1 456.4,475.1 457.3,475.2 458.3,475.2 459.3,475.2 460.2,475.2 461.2,475.2 462.2,475.2 463.1,475.3 464.1,475.3 465.1,475.3 466.0,475.3 467.0,475.3 468.0,475.3 468.9,475.3 469.9,475.3 470.9,475.3 471.8,475.3 472.8,475.3 473.8,475.3 474.7,475.3 475.7,475.3 476.7,475.3 477.6,475.3 478.6,475.3 479.6,475.3 480.5,475.3 481.5,475.3 482.5,475.3 483.4,475.3 484.4,475.3 485.4,475.3 486.3,475.3 487.3,475.3 488.3,475.3 489.2,475.3 490.2,475.3 491.2,475.3 492.1,475.3 493.1,475.3 494.1,475.3 495.1,475.3 496.0,475.3 497.0,475.3 498.0,475.3 498.9,475.3 499.9,475.3 500.9,475.3 501.8,475.3 502.8,475.3 503.8,475.3 504.7,475.3 505.7,475.3 506.7,475.3 507.6,475.3 508.6,475.3 509.6,475.3 510.5,475.3 511.5,475.3 512.5,475.3 513.4,475.3 514.4,475.3 515.4,475.3 516.3,475.3 517.3,475.3 518.3,475.3 519.2,475.3 520.2,475.3 521.2,475.3 522.1,475.3 523.1,475.3 524.1,475.3 525.0,475.3 526.0,475.3 527.0,475.3 527.9,475.3 528.9,475.3 529.9,475.3 530.8,475.3 531.8,475.3 532.8,475.3 533.7,475.3 534.7,475.3 535.7,475.3 536.6,475.3 537.6,475.3 538.6,475.3 539.5,475.3 540.5,475.3 541.5,475.3 542.5,475.3 543.4,475.3 544.4,475.3 545.4,475.3 546.3,475.3 547.3,475.3 548.3,475.3 549.2,475.3 550.2,475.3 551.2,475.3 552.1,475.3 553.1,475.3 554.1,475.3 555.0,475.3 556.0,475.3 557.0,475.3 557.9,475.3 558.9,475.3 559.9,475.3 560.8,475.3 561.8,475.3 562.8,475.3 563.7,475.3 564.7,475.3 565.7,475.3 566.6,475.3 567.6,475.3 568.6,475.3 569.5,475.3 570.5,475.3 571.5,475.3 572.4,475.3 573.4,475.3 574.4,475.3 575.3,475.3 576.3,475.3 577.3,475.3 578.2,475.3 579.2,475.3 580.2,475.3 581.1,475.3 582.1,475.3 583.1,475.3 584.0,475.3 585.0,475.3 586.0,475.3 586.9,475.3 587.9,475.3 588.9,475.3 589.8,475.3 590.8,475.3 591.8,475.3 592.8,475.3 593.7,475.3 594.7,475.3 595.7,475.3 596.6,475.3 597.6,475.3 598.6,475.3 599.5,475.3 600.5,475.3 601.5,475.3 602.4,475.3 603.4,475.3 604.4,475.3 605.3,475.3 606.3,475.3 607.3,475.3 608.2,475.3 609.2,475.3 610.2,475.3 611.1,475.3 612.1,475.3 613.1,475.3 614.0,475.3 615.0,475.3 616.0,475.3 616.9,475.3 617.9,475.3 618.9,475.3 619.8,475.3 620.8,475.3 621.8,475.3 622.7,475.3 623.7,475.3 624.7,475.3 625.6,475.3 626.6,475.3 627.6,475.3 628.5,475.3 629.5,475.3 630.5,475.3 631.4,475.3 632.4,475.3 633.4,475.3 634.3,475.3 635.3,475.3 636.3,475.3 637.2,475.3 638.2,475.3 639.2,475.3 640.2,475.3 641.1,475.3 642.1,475.3 643.1,475.3 644.0,475.3 645.0,475.3 646.0,475.3 646.9,475.3 647.9,475.3 648.9,475.3 649.8,475.3 650.8,475.3 651.8,475.3 652.7,475.3 653.7,475.3 654.7,475.3 655.6,475.3 656.6,475.3 657.6,475.3 658.5,475.3 659.5,475.3 660.5,475.3 661.4,475.3 662.4,475.3" fill="none" stroke="#0000ff" stroke-width="1.4" stroke-linejoin="round"/>
<polyline points="372.2,475.0 373.2,474.9 374.1,474.8 375.1,474.7 376.1,474.6 377.0,474.4 378.0,474.3 379.0,474.1 379.9,473.8 380.9,473.5 381.9,473.2 382.8,472.8 383.8,472.3 384.8,471.7 385.7,470.9 386.7,470.1 387.7,469.1 388.6,467.8 389.6,466.4 390.6,464.7 391.5,462.7 392.5,460.3 393.5,457.5 394.4,454.2 395.4,450.3 396.4,445.8 397.4,440.7 398.3,434.7 399.3,428.0 400.3,420.3 401.2,411.8 402.2,402.4 403.2,392.1 404.1,381.1 405.1,369.6 406.1,357.8 407.0,346.1 408.0,334.8 409.0,324.3 409.9,315.1 410.9,307.8 411.9,302.5 412.8,299.7 413.8,299.5 414.8,302.0 415.7,307.1 416.7,314.5 417.7,323.8 418.6,334.5 419.6,346.2 420.6,358.2 421.5,370.3 422.5,382.1 423.5,393.3 424.4,403.7 425.4,413.2 426.4,421.8 427.3,429.5 428.3,436.2 429.3,442.1 430.2,447.2 431.2,451.6 432.2,455.4 433.1,458.6 434.1,461.3 435.1,463.6 436.0,465.5 437.0,467.1 438.0,468.5 438.9,469.6 439.9,470.6 440.9,471.4 441.8,472.0 442.8,472.6 443.8,473.0 444.8,473.4 445.7,473.7 446.7,474.0 447.7,474.2 448.6,474.4 449.6,474.6 450.6,474.7 451.5,474.8 452.5,474.9 453.5,475.0 454.4,475.0 455.4,475.1 456.4,475.1 457.3,475.1 458.3,475.2 459.3,475.2 460.2,475.2 461.2,475.2 462.2,475.2 463.1,475.2 464.1,475.3 465.1,475.3 466.0,475.3 467.0,475.3 468.0,475.3 468.9,475.3 469.9,475.3 470.9,475.3 471.8,475.3 472.8,475.3 473.8,475.3 474.7,475.3 475.7,475.3 476.7,475.3 477.6,475.3 478.6,475.3 479.6,475.3 480.5,475.3 481.5,475.3 482.5,475.3 483.4,475.3 484.4,475.3 485.4,475.3 486.3,475.3 487.3,475.3 488.3,475.3 489.2,475.3 490.2,475.3 491.2,475.3 492.1,475.3 493.1,475.3 494.1,475.3 495.1,475.3 496.0,475.3 497.0,475.3 498.0,475.3 498.9,475.3 499.9,475.3 500.9,475.3 501.8,475.3 502.8,475.3 503.8,475.3 504.7,475.3 505.7,475.3 506.7,475.3 507.6,475.3 508.6,475.3 509.6,475.3 510.5,475.3 511.5,475.3 512.5,475.3 513.4,475.3 514.4,475.3 515.4,475.3 516.3,475.3 517.3,475.3 518.3,475.3 519.2,475.3 520.2,475.3 521.2,475.3 522.1,475.3 523.1,475.3 524.1,475.3 525.0,475.3 526.0,475.3 527.0,475.3 527.9,475.3 528.9,475.3 529.9,475.3 530.8,475.3 531.8,475.3 532.8,475.3 533.7,475.3 534.7,475.3 535.7,475.3 536.6,475.3 537.6,475.3 538.6,475.3 539.5,475.3 540.5,475.3 541.5,475.3 542.5,475.3 543.4,475.3 544.4,475.3 545.4,475.3 546.3,475.3 547.3,475.3 548.3,475.3 549.2,475.3 550.2,475.3 551.2,475.3 552.1,475.3 553.1,475.3 554.1,475.3 555.0,475.3 556.0,475.3 557.0,475.3 557.9,475.3 558.9,475.3 559.9,475.3 560.8,475.3 561.8,475.3 562.8,475.3 563.7,475.3 564.7,475.3 565.7,475.3 566.6,475.3 567.6,475.3 568.6,475.3 569.5,475.3 570.5,475.3 571.5,475.3 572.4,475.3 573.4,475.3 574.4,475.3 575.3,475.3 576.3,475.3 577.3,475.3 578.2,475.3 579.2,475.3 580.2,475.3 581.1,475.3 582.1,475.3 583.1,475.3 584.0,475.3 585.0,475.3 586.0,475.3 586.9,475.3 587.9,475.3 588.9,475.3 589.8,475.3 590.8,475.3 591.8,475.3 592.8,475.3 593.7,475.3 594.7,475.3 595.7,475.3 596.6,475.3 597.6,475.3 598.6,475.3 599.5,475.3 600.5,475.3 601.5,475.3 602.4,475.3 603.4,475.3 604.4,475.3 605.3,475.3 606.3,475.3 607.3,475.3 608.2,475.3 609.2,475.3 610.2,475.3 611.1,475.3 612.1,475.3 613.1,475.3 614.0,475.3 615.0,475.3 616.0,475.3 616.9,475.3 617.9,475.3 618.9,475.3 619.8,475.3 620.8,475.3 621.8,475.3 622.7,475.3 623.7,475.3 624.7,475.3 625.6,475.3 626.6,475.3 627.6,475.3 628.5,475.3 629.5,475.3 630.5,475.3 631.4,475.3 632.4,475.3 633.4,475.3 634.3,475.3 635.3,475.3 636.3,475.3 637.2,475.3 638.2,475.3 639.2,475.3 640.2,475.3 641.1,475.3 642.1,475.3 643.1,475.3 644.0,475.3 645.0,475.3 646.0,475.3 646.9,475.3 647.9,475.3 648.9,475.3 649.8,475.3 650.8,475.3 651.8,475.3 652.7,475.3 653.7,475.3 654.7,475.3 655.6,475.3 656.6,475.3 657.6,475.3 658.5,475.3 659.5,475.3 660.5,475.3 661.4,475.3 662.4,475.3" fill="none" stroke="#ff0000" stroke-width="1.4" stroke-linejoin="round"/>
<polyline points="372.2,475.2 373.2,475.2 374.1,475.2 375.1,475.2 376.1,475.1 377.0,475.1 378.0,475.1 379.0,475.0 379.9,474.9 380.9,474.9 381.9,474.8 382.8,474.7 383.8,474.6 384.8,474.5 385.7,474.3 386.7,474.1 387.7,473.9 388.6,473.6 389.6,473.3 390.6,472.9 391.5,472.5 392.5,472.0 393.5,471.4 394.4,470.7 395.4,469.9 396.4,468.9 397.4,467.8 398.3,466.5 399.3,465.0 400.3,463.3 401.2,461.3 402.2,459.0 403.2,456.4 404.1,453.5 405.1,450.2 406.1,446.4 407.0,442.2 408.0,437.6 409.0,432.5 409.9,427.0 410.9,420.9 411.9,414.5 412.8,407.7 413.8,400.5 414.8,393.2 415.7,385.6 416.7,378.2 417.7,370.8 418.6,363.7 419.6,357.2 420.6,351.2 421.5,346.1 422.5,341.9 423.5,338.8 424.4,336.8 425.4,336.1 426.4,336.7 427.3,338.6 428.3,341.7 429.3,346.0 430.2,351.3 431.2,357.4 432.2,364.2 433.1,371.4 434.1,379.0 435.1,386.7 436.0,394.4 437.0,401.9 438.0,409.2 438.9,416.1 439.9,422.6 440.9,428.7 441.8,434.3 442.8,439.3 443.8,443.9 444.8,448.0 445.7,451.7 446.7,454.9 447.7,457.8 448.6,460.3 449.6,462.4 450.6,464.3 451.5,466.0 452.5,467.4 453.5,468.6 454.4,469.6 455.4,470.5 456.4,471.2 457.3,471.9 458.3,472.4 459.3,472.9 460.2,473.3 461.2,473.6 462.2,473.9 463.1,474.1 464.1,474.3 465.1,474.5 466.0,474.6 467.0,474.7 468.0,474.8 468.9,474.9 469.9,475.0 470.9,475.0 471.8,475.1 472.8,475.1 473.8,475.1 474.7,475.2 475.7,475.2 476.7,475.2 477.6,475.2 478.6,475.2 479.6,475.2 480.5,475.3 481.5,475.3 482.5,475.3 483.4,475.3 484.4,475.3 485.4,475.3 486.3,475.3 487.3,475.3 488.3,475.3 489.2,475.3 490.2,475.3 491.2,475.3 492.1,475.3 493.1,475.3 494.1,475.3 495.1,475.3 496.0,475.3 497.0,475.3 498.0,475.3 498.9,475.3 499.9,475.3 500.9,475.3 501.8,475.3 502.8,475.3 503.8,475.3 504.7,475.3 505.7,475.3 506.7,475.3 507.6,475.3 508.6,475.3 509.6,475.3 510.5,475.3 511.5,475.3 512.5,475.3 513.4,475.3 514.4,475.3 515.4,475.3 516.3,475.3 517.3,475.3 518.3,475.3 519.2,475.3 520.2,475.3 521.2,475.3 522.1,475.3 523.1,475.3 524.1,475.3 525.0,475.3 526.0,475.3 527.0,475.3 527.9,475.3 528.9,475.3 529.9,475.3 530.8,475.3 531.8,475.3 532.8,475.3 533.7,475.3 534.7,475.3 535.7,475.3 536.6,475.3 537.6,475.3 538.6,475.3 539.5,475.3 540.5,475.3 541.5,475.3 542.5,475.3 543.4,475.3 544.4,475.3 545.4,475.3 546.3,475.3 547.3,475.3 548.3,475.3 549.2,475.3 550.2,475.3 551.2,475.3 552.1,475.3 553.1,475.3 554.1,475.3 555.0,475.3 556.0,475.3 557.0,475.3 557.9,475.3 558.9,475.3 559.9,475.3 560.8,475.3 561.8,475.3 562.8,475.3 563.7,475.3 564.7,475.3 565.7,475.3 566.6,475.3 567.6,475.3 568.6,475.3 569.5,475.3 570.5,475.3 571.5,475.3 572.4,475.3 573.4,475.3 574.4,475.3 575.3,475.3 576.3,475.3 577.3,475.3 578.2,475.3 579.2,475.3 580.2,475.3 581.1,475.3 582.1,475.3 583.1,475.3 584.0,475.3 585.0,475.3 586.0,475.3 586.9,475.3 587.9,475.3 588.9,475.3 589.8,475.3 590.8,475.3 591.8,475.3 592.8,475.3 593.7,475.3 594.7,475.3 595.7,475.3 596.6,475.3 597.6,475.3 598.6,475.3 599.5,475.3 600.5,475.3 601.5,475.3 602.4,475.3 603.4,475.3 604.4,475.3 605.3,475.3 606.3,475.3 607.3,475.3 608.2,475.3 609.2,475.3 610.2,475.3 611.1,475.3 612.1,475.3 613.1,475.3 614.0,475.3 615.0,475.3 616.0,475.3 616.9,475.3 617.9,475.3 618.9,475.3 619.8,475.3 620.8,475.3 621.8,475.3 622.7,475.3 623.7,475.3 624.7,475.3 625.6,475.3 626.6,475.3 627.6,475.3 628.5,475.3 629.5,475.3 630.5,475.3 631.4,475.3 632.4,475.3 633.4,475.3 634.3,475.3 635.3,475.3 636.3,475.3 637.2,475.3 638.2,475.3 639.2,475.3 640.2,475.3 641.1,475.3 642.1,475.3 643.1,475.3 644.0,475.3 645.0,475.3 646.0,475.3 646.9,475.3 647.9,475.3 648.9,475.3 649.8,475.3 650.8,475.3 651.8,475.3 652.7,475.3 653.7,475.3 654.7,475.3 655.6,475.3 656.6,475.3 657.6,475.3 658.5,475.3 659.5,475.3 660.5,475.3 661.4,475.3 662.4,475.3" fill="none" stroke="#edb120" stroke-width="1.4" stroke-linejoin="round"/>
<polyline points="372.2,475.3 373.2,475.3 374.1,475.2 375.1,475.2 376.1,475.2 377.0,475.2 378.0,475.2 379.0,475.2 379.9,475.1 380.9,475.1 381.9,475.1 382.8,475.0 383.8,475.0 384.8,474.9 385.7,474.8 386.7,474.7 387.7,474.6 388.6,474.5 389.6,474.3 390.6,474.2 391.5,474.0 392.5,473.7 393.5,473.4 394.4,473.1 395.4,472.7 396.4,472.2 397.4,471.7 398.3,471.1 399.3,470.3 400.3,469.5 401.2,468.5 402.2,467.4 403.2,466.2 404.1,464.7 405.1,463.1 406.1,461.3 407.0,459.2 408.0,456.9 409.0,454.3 409.9,451.5 410.9,448.3 411.9,444.9 412.8,441.1 413.8,437.0 414.8,432.6 415.7,428.0 416.7,423.0 417.7,417.8 418.6,412.4 419.6,406.8 420.6,401.1 421.5,395.3 422.5,389.5 423.5,383.9 424.4,378.4 425.4,373.2 426.4,368.4 427.3,364.0 428.3,360.1 429.3,356.8 430.2,354.2 431.2,352.3 432.2,351.2 433.1,350.8 434.1,351.4 435.1,353.2 436.0,355.9 437.0,359.7 438.0,364.4 438.9,369.7 439.9,375.7 440.9,382.1 441.8,388.9 442.8,395.7 443.8,402.7 444.8,409.5 445.7,416.0 446.7,422.4 447.7,428.3 448.6,433.9 449.6,439.0 450.6,443.7 451.5,447.9 452.5,451.7 453.5,455.0 454.4,458.0 455.4,460.6 456.4,462.9 457.3,464.8 458.3,466.5 459.3,468.0 460.2,469.2 461.2,470.2 462.2,471.1 463.1,471.8 464.1,472.4 465.1,472.9 466.0,473.4 467.0,473.7 468.0,474.0 468.9,474.2 469.9,474.4 470.9,474.6 471.8,474.7 472.8,474.8 473.8,474.9 474.7,475.0 475.7,475.1 476.7,475.1 477.6,475.1 478.6,475.2 479.6,475.2 480.5,475.2 481.5,475.2 482.5,475.2 483.4,475.3 484.4,475.3 485.4,475.3 486.3,475.3 487.3,475.3 488.3,475.3 489.2,475.3 490.2,475.3 491.2,475.3 492.1,475.3 493.1,475.3 494.1,475.3 495.1,475.3 496.0,475.3 497.0,475.3 498.0,475.3 498.9,475.3 499.9,475.3 500.9,475.3 501.8,475.3 502.8,475.3 503.8,475.3 504.7,475.3 505.7,475.3 506.7,475.3 507.6,475.3 508.6,475.3 509.6,475.3 510.5,475.3 511.5,475.3 512.5,475.3 513.4,475.3 514.4,475.3 515.4,475.3 516.3,475.3 517.3,475.3 518.3,475.3 519.2,475.3 520.2,475.3 521.2,475.3 522.1,475.3 523.1,475.3 524.1,475.3 525.0,475.3 526.0,475.3 527.0,475.3 527.9,475.3 528.9,475.3 529.9,475.3 530.8,475.3 531.8,475.3 532.8,475.3 533.7,475.3 534.7,475.3 535.7,475.3 536.6,475.3 537.6,475.3 538.6,475.3 539.5,475.3 540.5,475.3 541.5,475.3 542.5,475.3 543.4,475.3 544.4,475.3 545.4,475.3 546.3,475.3 547.3,475.3 548.3,475.3 549.2,475.3 550.2,475.3 551.2,475.3 552.1,475.3 553.1,475.3 554.1,475.3 555.0,475.3 556.0,475.3 557.0,475.3 557.9,475.3 558.9,475.3 559.9,475.3 560.8,475.3 561.8,475.3 562.8,475.3 563.7,475.3 564.7,475.3 565.7,475.3 566.6,475.3 567.6,475.3 568.6,475.3 569.5,475.3 570.5,475.3 571.5,475.3 572.4,475.3 573.4,475.3 574.4,475.3 575.3,475.3 576.3,475.3 577.3,475.3 578.2,475.3 579.2,475.3 580.2,475.3 581.1,475.3 582.1,475.3 583.1,475.3 584.0,475.3 585.0,475.3 586.0,475.3 586.9,475.3 587.9,475.3 588.9,475.3 589.8,475.3 590.8,475.3 591.8,475.3 592.8,475.3 593.7,475.3 594.7,475.3 595.7,475.3 596.6,475.3 597.6,475.3 598.6,475.3 599.5,475.3 600.5,475.3 601.5,475.3 602.4,475.3 603.4,475.3 604.4,475.3 605.3,475.3 606.3,475.3 607.3,475.3 608.2,475.3 609.2,475.3 610.2,475.3 611.1,475.3 612.1,475.3 613.1,475.3 614.0,475.3 615.0,475.3 616.0,475.3 616.9,475.3 617.9,475.3 618.9,475.3 619.8,475.3 620.8,475.3 621.8,475.3 622.7,475.3 623.7,475.3 624.7,475.3 625.6,475.3 626.6,475.3 627.6,475.3 628.5,475.3 629.5,475.3 630.5,475.3 631.4,475.3 632.4,475.3 633.4,475.3 634.3,475.3 635.3,475.3 636.3,475.3 637.2,475.3 638.2,475.3 639.2,475.3 640.2,475.3 641.1,475.3 642.1,475.3 643.1,475.3 644.0,475.3 645.0,475.3 646.0,475.3 646.9,475.3 647.9,475.3 648.9,475.3 649.8,475.3 650.8,475.3 651.8,475.3 652.7,475.3 653.7,475.3 654.7,475.3 655.6,475.3 656.6,475.3 657.6,475.3 658.5,475.3 659.5,475.3 660.5,475.3 661.4,475.3 662.4,475.3" fill="none" stroke="#000000" stroke-width="1.4" stroke-linejoin="round"/>
<polyline points="372.2,475.1 373.2,475.1 374.1,475.1 375.1,475.0 376.1,475.0 377.0,475.0 378.0,475.0 379.0,474.9 379.9,474.9 380.9,474.9 381.9,474.8 382.8,474.8 383.8,474.8 384.8,474.7 385.7,474.7 386.7,474.6 387.7,474.5 388.6,474.5 389.6,474.4 390.6,474.3 391.5,474.2 392.5,474.1 393.5,474.0 394.4,473.9 395.4,473.8 396.4,473.7 397.4,473.5 398.3,473.4 399.3,473.2 400.3,473.0 401.2,472.8 402.2,472.6 403.2,472.4 404.1,472.1 405.1,471.9 406.1,471.6 407.0,471.2 408.0,470.9 409.0,470.5 409.9,470.1 410.9,469.6 411.9,469.2 412.8,468.6 413.8,468.1 414.8,467.5 415.7,466.8 416.7,466.1 417.7,465.3 418.6,464.5 419.6,463.6 420.6,462.7 421.5,461.7 422.5,460.5 423.5,459.4 424.4,458.1 425.4,456.7 426.4,455.3 427.3,453.8 428.3,452.1 429.3,450.4 430.2,448.5 431.2,446.6 432.2,444.5 433.1,442.3 434.1,440.1 435.1,437.7 436.0,435.2 437.0,432.7 438.0,430.0 438.9,427.3 439.9,424.5 440.9,421.7 441.8,418.8 442.8,415.9 443.8,413.0 444.8,410.2 445.7,407.4 446.7,404.7 447.7,402.1 448.6,399.7 449.6,397.4 450.6,395.3 451.5,393.4 452.5,391.8 453.5,390.4 454.4,389.4 455.4,388.6 456.4,388.2 457.3,388.1 458.3,388.3 459.3,388.8 460.2,389.6 461.2,390.7 462.2,392.1 463.1,393.8 464.1,395.7 465.1,397.8 466.0,400.1 467.0,402.6 468.0,405.2 468.9,407.9 469.9,410.7 470.9,413.5 471.8,416.4 472.8,419.2 473.8,422.1 474.7,424.9 475.7,427.6 476.7,430.3 477.6,433.0 478.6,435.5 479.6,437.9 480.5,440.3 481.5,442.5 482.5,444.7 483.4,446.7 484.4,448.6 485.4,450.5 486.3,452.2 487.3,453.8 488.3,455.3 489.2,456.8 490.2,458.1 491.2,459.4 492.1,460.6 493.1,461.6 494.1,462.7 495.1,463.6 496.0,464.5 497.0,465.3 498.0,466.1 498.9,466.8 499.9,467.4 500.9,468.0 501.8,468.6 502.8,469.1 503.8,469.6 504.7,470.1 505.7,470.5 506.7,470.8 507.6,471.2 508.6,471.5 509.6,471.8 510.5,472.1 511.5,472.3 512.5,472.6 513.4,472.8 514.4,473.0 515.4,473.2 516.3,473.3 517.3,473.5 518.3,473.6 519.2,473.8 520.2,473.9 521.2,474.0 522.1,474.1 523.1,474.2 524.1,474.3 525.0,474.4 526.0,474.4 527.0,474.5 527.9,474.6 528.9,474.6 529.9,474.7 530.8,474.7 531.8,474.8 532.8,474.8 533.7,474.9 534.7,474.9 535.7,474.9 536.6,475.0 537.6,475.0 538.6,475.0 539.5,475.0 540.5,475.1 541.5,475.1 542.5,475.1 543.4,475.1 544.4,475.1 545.4,475.1 546.3,475.2 547.3,475.2 548.3,475.2 549.2,475.2 550.2,475.2 551.2,475.2 552.1,475.2 553.1,475.2 554.1,475.2 555.0,475.2 556.0,475.2 557.0,475.2 557.9,475.2 558.9,475.3 559.9,475.3 560.8,475.3 561.8,475.3 562.8,475.3 563.7,475.3 564.7,475.3 565.7,475.3 566.6,475.3 567.6,475.3 568.6,475.3 569.5,475.3 570.5,475.3 571.5,475.3 572.4,475.3 573.4,475.3 574.4,475.3 575.3,475.3 576.3,475.3 577.3,475.3 578.2,475.3 579.2,475.3 580.2,475.3 581.1,475.3 582.1,475.3 583.1,475.3 584.0,475.3 585.0,475.3 586.0,475.3 586.9,475.3 587.9,475.3 588.9,475.3 589.8,475.3 590.8,475.3 591.8,475.3 592.8,475.3 593.7,475.3 594.7,475.3 595.7,475.3 596.6,475.3 597.6,475.3 598.6,475.3 599.5,475.3 600.5,475.3 601.5,475.3 602.4,475.3 603.4,475.3 604.4,475.3 605.3,475.3 606.3,475.3 607.3,475.3 608.2,475.3 609.2,475.3 610.2,475.3 611.1,475.3 612.1,475.3 613.1,475.3 614.0,475.3 615.0,475.3 616.0,475.3 616.9,475.3 617.9,475.3 618.9,475.3 619.8,475.3 620.8,475.3 621.8,475.3 622.7,475.3 623.7,475.3 624.7,475.3 625.6,475.3 626.6,475.3 627.6,475.3 628.5,475.3 629.5,475.3 630.5,475.3 631.4,475.3 632.4,475.3 633.4,475.3 634.3,475.3 635.3,475.3 636.3,475.3 637.2,475.3 638.2,475.3 639.2,475.3 640.2,475.3 641.1,475.3 642.1,475.3 643.1,475.3 644.0,475.3 645.0,475.3 646.0,475.3 646.9,475.3 647.9,475.3 648.9,475.3 649.8,475.3 650.8,475.3 651.8,475.3 652.7,475.3 653.7,475.3 654.7,475.3 655.6,475.3 656.6,475.3 657.6,475.3 658.5,475.3 659.5,475.3 660.5,475.3 661.4,475.3 662.4,475.3" fill="none" stroke="#77ac30" stroke-width="1.4" stroke-linejoin="round"/>
<rect x="372.20" y="285.00" width="290.20" height="190.30" fill="none" stroke="#555555" stroke-width="0.75"/>
<rect x="558.3" y="289.5" width="100.30" height="38.70" fill="#fff" stroke="#262626" stroke-width="0.6"/>
<line x1="561.1" y1="295.4" x2="577.6" y2="295.4" stroke="#0000ff" stroke-width="1.4"/>
<text x="578.9" y="297.00" font-size="4.9" fill="#000" textLength="41.20" lengthAdjust="spacingAndGlyphs">Baseline values of</text>
<text x="621.3" y="297.00" font-size="5.63" fill="#444" font-family='"Liberation Serif", serif' font-style="italic" textLength="24.40" lengthAdjust="spacingAndGlyphs">β<tspan font-size="3.49" dy="1.41">1</tspan><tspan dy="-1.41">, β</tspan><tspan font-size="3.49" dy="1.41">2</tspan><tspan dy="-1.41">, β</tspan><tspan font-size="3.49" dy="1.41">3</tspan></text>
<line x1="561.1" y1="303.5" x2="577.6" y2="303.5" stroke="#ff0000" stroke-width="1.4"/>
<text x="578.9" y="305.10" font-size="4.9" fill="#000" textLength="77.00" lengthAdjust="spacingAndGlyphs">with 10% increase in contact rates</text>
<line x1="561.1" y1="310.6" x2="577.6" y2="310.6" stroke="#edb120" stroke-width="1.4"/>
<text x="578.9" y="312.20" font-size="4.9" fill="#000" textLength="77.00" lengthAdjust="spacingAndGlyphs">with 20% increase in contact rates</text>
<line x1="561.1" y1="317.5" x2="577.6" y2="317.5" stroke="#000000" stroke-width="1.4"/>
<text x="578.9" y="319.10" font-size="4.9" fill="#000" textLength="77.00" lengthAdjust="spacingAndGlyphs">with 40% increase in contact rates</text>
<line x1="561.1" y1="324.2" x2="577.6" y2="324.2" stroke="#77ac30" stroke-width="1.4"/>
<text x="578.9" y="325.80" font-size="4.9" fill="#000" textLength="77.00" lengthAdjust="spacingAndGlyphs">with 50% increase in contact rates</text>
<text x="505.60" y="280.50" font-size="11.2" fill="#333" font-family='"Liberation Serif", serif' font-style="italic">ϑ</text>
<text x="512.00" y="280.50" font-size="10" font-weight="bold" fill="#000">=01</text>
<text x="487.40" y="495.70" font-size="10.5" fill="#000" textLength="60.80" lengthAdjust="spacingAndGlyphs">Time in Days</text>
<text transform="translate(354.20,449.20) rotate(-90)" x="0" y="0" font-size="10.6" fill="#000" textLength="139.00" lengthAdjust="spacingAndGlyphs">Exposed non-human class, E<tspan font-size="7.8" dy="4.9">r</tspan></text>
<text x="512.50" y="515.60" font-size="15.3" text-anchor="middle" font-family='"Liberation Serif", serif' fill="#000">(d)</text></g>
<g><line x1="217.12" y1="546.40" x2="217.12" y2="737.60" stroke="#e2e2e2" stroke-width="0.6"/>
<line x1="246.24" y1="546.40" x2="246.24" y2="737.60" stroke="#e2e2e2" stroke-width="0.6"/>
<line x1="275.36" y1="546.40" x2="275.36" y2="737.60" stroke="#e2e2e2" stroke-width="0.6"/>
<line x1="304.48" y1="546.40" x2="304.48" y2="737.60" stroke="#e2e2e2" stroke-width="0.6"/>
<line x1="333.60" y1="546.40" x2="333.60" y2="737.60" stroke="#e2e2e2" stroke-width="0.6"/>
<line x1="362.72" y1="546.40" x2="362.72" y2="737.60" stroke="#e2e2e2" stroke-width="0.6"/>
<line x1="391.84" y1="546.40" x2="391.84" y2="737.60" stroke="#e2e2e2" stroke-width="0.6"/>
<line x1="420.96" y1="546.40" x2="420.96" y2="737.60" stroke="#e2e2e2" stroke-width="0.6"/>
<line x1="450.08" y1="546.40" x2="450.08" y2="737.60" stroke="#e2e2e2" stroke-width="0.6"/>
<line x1="188.00" y1="716.36" x2="479.20" y2="716.36" stroke="#e2e2e2" stroke-width="0.6"/>
<line x1="188.00" y1="695.11" x2="479.20" y2="695.11" stroke="#e2e2e2" stroke-width="0.6"/>
<line x1="188.00" y1="673.87" x2="479.20" y2="673.87" stroke="#e2e2e2" stroke-width="0.6"/>
<line x1="188.00" y1="652.62" x2="479.20" y2="652.62" stroke="#e2e2e2" stroke-width="0.6"/>
<line x1="188.00" y1="631.38" x2="479.20" y2="631.38" stroke="#e2e2e2" stroke-width="0.6"/>
<line x1="188.00" y1="610.13" x2="479.20" y2="610.13" stroke="#e2e2e2" stroke-width="0.6"/>
<line x1="188.00" y1="588.89" x2="479.20" y2="588.89" stroke="#e2e2e2" stroke-width="0.6"/>
<line x1="188.00" y1="567.64" x2="479.20" y2="567.64" stroke="#e2e2e2" stroke-width="0.6"/>
<line x1="188.00" y1="737.60" x2="188.00" y2="734.20" stroke="#2a2a2a" stroke-width="0.9"/>
<line x1="188.00" y1="546.40" x2="188.00" y2="549.80" stroke="#2a2a2a" stroke-width="0.9"/>
<line x1="217.12" y1="737.60" x2="217.12" y2="734.20" stroke="#2a2a2a" stroke-width="0.9"/>
<line x1="217.12" y1="546.40" x2="217.12" y2="549.80" stroke="#2a2a2a" stroke-width="0.9"/>
<line x1="246.24" y1="737.60" x2="246.24" y2="734.20" stroke="#2a2a2a" stroke-width="0.9"/>
<line x1="246.24" y1="546.40" x2="246.24" y2="549.80" stroke="#2a2a2a" stroke-width="0.9"/>
<line x1="275.36" y1="737.60" x2="275.36" y2="734.20" stroke="#2a2a2a" stroke-width="0.9"/>
<line x1="275.36" y1="546.40" x2="275.36" y2="549.80" stroke="#2a2a2a" stroke-width="0.9"/>
<line x1="304.48" y1="737.60" x2="304.48" y2="734.20" stroke="#2a2a2a" stroke-width="0.9"/>
<line x1="304.48" y1="546.40" x2="304.48" y2="549.80" stroke="#2a2a2a" stroke-width="0.9"/>
<line x1="333.60" y1="737.60" x2="333.60" y2="734.20" stroke="#2a2a2a" stroke-width="0.9"/>
<line x1="333.60" y1="546.40" x2="333.60" y2="549.80" stroke="#2a2a2a" stroke-width="0.9"/>
<line x1="362.72" y1="737.60" x2="362.72" y2="734.20" stroke="#2a2a2a" stroke-width="0.9"/>
<line x1="362.72" y1="546.40" x2="362.72" y2="549.80" stroke="#2a2a2a" stroke-width="0.9"/>
<line x1="391.84" y1="737.60" x2="391.84" y2="734.20" stroke="#2a2a2a" stroke-width="0.9"/>
<line x1="391.84" y1="546.40" x2="391.84" y2="549.80" stroke="#2a2a2a" stroke-width="0.9"/>
<line x1="420.96" y1="737.60" x2="420.96" y2="734.20" stroke="#2a2a2a" stroke-width="0.9"/>
<line x1="420.96" y1="546.40" x2="420.96" y2="549.80" stroke="#2a2a2a" stroke-width="0.9"/>
<line x1="450.08" y1="737.60" x2="450.08" y2="734.20" stroke="#2a2a2a" stroke-width="0.9"/>
<line x1="450.08" y1="546.40" x2="450.08" y2="549.80" stroke="#2a2a2a" stroke-width="0.9"/>
<line x1="479.20" y1="737.60" x2="479.20" y2="734.20" stroke="#2a2a2a" stroke-width="0.9"/>
<line x1="479.20" y1="546.40" x2="479.20" y2="549.80" stroke="#2a2a2a" stroke-width="0.9"/>
<line x1="188.00" y1="737.60" x2="191.40" y2="737.60" stroke="#2a2a2a" stroke-width="0.9"/>
<line x1="479.20" y1="737.60" x2="475.80" y2="737.60" stroke="#2a2a2a" stroke-width="0.9"/>
<line x1="188.00" y1="716.36" x2="191.40" y2="716.36" stroke="#2a2a2a" stroke-width="0.9"/>
<line x1="479.20" y1="716.36" x2="475.80" y2="716.36" stroke="#2a2a2a" stroke-width="0.9"/>
<line x1="188.00" y1="695.11" x2="191.40" y2="695.11" stroke="#2a2a2a" stroke-width="0.9"/>
<line x1="479.20" y1="695.11" x2="475.80" y2="695.11" stroke="#2a2a2a" stroke-width="0.9"/>
<line x1="188.00" y1="673.87" x2="191.40" y2="673.87" stroke="#2a2a2a" stroke-width="0.9"/>
<line x1="479.20" y1="673.87" x2="475.80" y2="673.87" stroke="#2a2a2a" stroke-width="0.9"/>
<line x1="188.00" y1="652.62" x2="191.40" y2="652.62" stroke="#2a2a2a" stroke-width="0.9"/>
<line x1="479.20" y1="652.62" x2="475.80" y2="652.62" stroke="#2a2a2a" stroke-width="0.9"/>
<line x1="188.00" y1="631.38" x2="191.40" y2="631.38" stroke="#2a2a2a" stroke-width="0.9"/>
<line x1="479.20" y1="631.38" x2="475.80" y2="631.38" stroke="#2a2a2a" stroke-width="0.9"/>
<line x1="188.00" y1="610.13" x2="191.40" y2="610.13" stroke="#2a2a2a" stroke-width="0.9"/>
<line x1="479.20" y1="610.13" x2="475.80" y2="610.13" stroke="#2a2a2a" stroke-width="0.9"/>
<line x1="188.00" y1="588.89" x2="191.40" y2="588.89" stroke="#2a2a2a" stroke-width="0.9"/>
<line x1="479.20" y1="588.89" x2="475.80" y2="588.89" stroke="#2a2a2a" stroke-width="0.9"/>
<line x1="188.00" y1="567.64" x2="191.40" y2="567.64" stroke="#2a2a2a" stroke-width="0.9"/>
<line x1="479.20" y1="567.64" x2="475.80" y2="567.64" stroke="#2a2a2a" stroke-width="0.9"/>
<line x1="188.00" y1="546.40" x2="191.40" y2="546.40" stroke="#2a2a2a" stroke-width="0.9"/>
<line x1="479.20" y1="546.40" x2="475.80" y2="546.40" stroke="#2a2a2a" stroke-width="0.9"/>
<text x="188.00" y="746.50" font-size="5.0" text-anchor="middle" fill="#262626">0</text>
<text x="217.12" y="746.50" font-size="5.0" text-anchor="middle" fill="#262626">50</text>
<text x="246.24" y="746.50" font-size="5.0" text-anchor="middle" fill="#262626">100</text>
<text x="275.36" y="746.50" font-size="5.0" text-anchor="middle" fill="#262626">150</text>
<text x="304.48" y="746.50" font-size="5.0" text-anchor="middle" fill="#262626">200</text>
<text x="333.60" y="746.50" font-size="5.0" text-anchor="middle" fill="#262626">250</text>
<text x="362.72" y="746.50" font-size="5.0" text-anchor="middle" fill="#262626">300</text>
<text x="391.84" y="746.50" font-size="5.0" text-anchor="middle" fill="#262626">350</text>
<text x="420.96" y="746.50" font-size="5.0" text-anchor="middle" fill="#262626">400</text>
<text x="450.08" y="746.50" font-size="5.0" text-anchor="middle" fill="#262626">450</text>
<text x="479.20" y="746.50" font-size="5.0" text-anchor="middle" fill="#262626">500</text>
<text x="185.70" y="740.50" font-size="5.0" text-anchor="end" fill="#262626">0</text>
<text x="185.70" y="719.26" font-size="5.0" text-anchor="end" fill="#262626">1</text>
<text x="185.70" y="698.01" font-size="5.0" text-anchor="end" fill="#262626">2</text>
<text x="185.70" y="676.77" font-size="5.0" text-anchor="end" fill="#262626">3</text>
<text x="185.70" y="655.52" font-size="5.0" text-anchor="end" fill="#262626">4</text>
<text x="185.70" y="634.28" font-size="5.0" text-anchor="end" fill="#262626">5</text>
<text x="185.70" y="613.03" font-size="5.0" text-anchor="end" fill="#262626">6</text>
<text x="185.70" y="591.79" font-size="5.0" text-anchor="end" fill="#262626">7</text>
<text x="185.70" y="570.54" font-size="5.0" text-anchor="end" fill="#262626">8</text>
<text x="185.70" y="549.30" font-size="5.0" text-anchor="end" fill="#262626">9</text>
<text x="188.30" y="544.90" font-size="4.7" fill="#262626">× 10<tspan dy="-1.9" font-size="3.4">4</tspan></text>
<polyline points="188.0,737.6 189.0,737.5 189.9,737.5 190.9,737.5 191.9,737.5 192.9,737.5 193.8,737.4 194.8,737.4 195.8,737.3 196.7,737.3 197.7,737.2 198.7,737.1 199.6,737.0 200.6,736.8 201.6,736.7 202.6,736.5 203.5,736.2 204.5,735.9 205.5,735.4 206.4,735.0 207.4,734.3 208.4,733.6 209.4,732.7 210.3,731.6 211.3,730.3 212.3,728.6 213.2,726.7 214.2,724.4 215.2,721.6 216.1,718.4 217.1,714.6 218.1,710.2 219.1,705.1 220.0,699.4 221.0,693.0 222.0,685.9 222.9,678.2 223.9,670.0 224.9,661.4 225.9,652.4 226.8,643.4 227.8,634.3 228.8,625.5 229.7,617.0 230.7,608.9 231.7,601.4 232.7,594.5 233.6,588.2 234.6,582.6 235.6,577.6 236.5,573.2 237.5,569.3 238.5,566.0 239.4,563.1 240.4,560.7 241.4,558.6 242.4,556.8 243.3,555.3 244.3,554.0 245.3,552.9 246.2,552.0 247.2,551.3 248.2,550.6 249.2,550.1 250.1,549.6 251.1,549.3 252.1,548.9 253.0,548.7 254.0,548.5 255.0,548.3 255.9,548.1 256.9,548.0 257.9,547.9 258.9,547.8 259.8,547.7 260.8,547.7 261.8,547.6 262.7,547.6 263.7,547.5 264.7,547.5 265.7,547.5 266.6,547.5 267.6,547.4 268.6,547.4 269.5,547.4 270.5,547.4 271.5,547.4 272.4,547.4 273.4,547.4 274.4,547.4 275.4,547.4 276.3,547.4 277.3,547.4 278.3,547.4 279.2,547.4 280.2,547.4 281.2,547.4 282.2,547.4 283.1,547.4 284.1,547.4 285.1,547.4 286.0,547.4 287.0,547.4 288.0,547.4 288.9,547.4 289.9,547.4 290.9,547.4 291.9,547.4 292.8,547.4 293.8,547.4 294.8,547.4 295.7,547.4 296.7,547.4 297.7,547.4 298.7,547.4 299.6,547.4 300.6,547.4 301.6,547.4 302.5,547.4 303.5,547.4 304.5,547.4 305.5,547.4 306.4,547.4 307.4,547.4 308.4,547.4 309.3,547.4 310.3,547.4 311.3,547.4 312.2,547.4 313.2,547.4 314.2,547.4 315.2,547.4 316.1,547.4 317.1,547.4 318.1,547.4 319.0,547.4 320.0,547.4 321.0,547.4 322.0,547.4 322.9,547.4 323.9,547.4 324.9,547.4 325.8,547.4 326.8,547.4 327.8,547.4 328.7,547.5 329.7,547.5 330.7,547.5 331.7,547.5 332.6,547.5 333.6,547.5 334.6,547.5 335.5,547.5 336.5,547.5 337.5,547.5 338.5,547.5 339.4,547.5 340.4,547.5 341.4,547.5 342.3,547.5 343.3,547.5 344.3,547.5 345.2,547.5 346.2,547.5 347.2,547.6 348.2,547.6 349.1,547.6 350.1,547.6 351.1,547.6 352.0,547.6 353.0,547.6 354.0,547.6 355.0,547.6 355.9,547.6 356.9,547.6 357.9,547.6 358.8,547.6 359.8,547.6 360.8,547.6 361.7,547.6 362.7,547.7 363.7,547.7 364.7,547.7 365.6,547.7 366.6,547.7 367.6,547.7 368.5,547.7 369.5,547.7 370.5,547.7 371.5,547.7 372.4,547.7 373.4,547.7 374.4,547.7 375.3,547.7 376.3,547.7 377.3,547.8 378.3,547.8 379.2,547.8 380.2,547.8 381.2,547.8 382.1,547.8 383.1,547.8 384.1,547.8 385.0,547.8 386.0,547.8 387.0,547.8 388.0,547.8 388.9,547.8 389.9,547.8 390.9,547.9 391.8,547.9 392.8,547.9 393.8,547.9 394.8,547.9 395.7,547.9 396.7,547.9 397.7,547.9 398.6,547.9 399.6,547.9 400.6,547.9 401.5,547.9 402.5,547.9 403.5,547.9 404.5,548.0 405.4,548.0 406.4,548.0 407.4,548.0 408.3,548.0 409.3,548.0 410.3,548.0 411.3,548.0 412.2,548.0 413.2,548.0 414.2,548.0 415.1,548.0 416.1,548.0 417.1,548.1 418.0,548.1 419.0,548.1 420.0,548.1 421.0,548.1 421.9,548.1 422.9,548.1 423.9,548.1 424.8,548.1 425.8,548.1 426.8,548.1 427.8,548.1 428.7,548.1 429.7,548.2 430.7,548.2 431.6,548.2 432.6,548.2 433.6,548.2 434.5,548.2 435.5,548.2 436.5,548.2 437.5,548.2 438.4,548.2 439.4,548.2 440.4,548.2 441.3,548.3 442.3,548.3 443.3,548.3 444.3,548.3 445.2,548.3 446.2,548.3 447.2,548.3 448.1,548.3 449.1,548.3 450.1,548.3 451.1,548.3 452.0,548.3 453.0,548.4 454.0,548.4 454.9,548.4 455.9,548.4 456.9,548.4 457.8,548.4 458.8,548.4 459.8,548.4 460.8,548.4 461.7,548.4 462.7,548.4 463.7,548.5 464.6,548.5 465.6,548.5 466.6,548.5 467.6,548.5 468.5,548.5 469.5,548.5 470.5,548.5 471.4,548.5 472.4,548.5 473.4,548.5 474.3,548.5 475.3,548.6 476.3,548.6 477.3,548.6 478.2,548.6 479.2,548.6" fill="none" stroke="#0000ff" stroke-width="1.4" stroke-linejoin="round"/>
<polyline points="188.0,737.6 189.0,737.5 189.9,737.5 190.9,737.5 191.9,737.5 192.9,737.5 193.8,737.4 194.8,737.4 195.8,737.4 196.7,737.3 197.7,737.3 198.7,737.2 199.6,737.1 200.6,737.0 201.6,736.8 202.6,736.7 203.5,736.5 204.5,736.2 205.5,735.9 206.4,735.6 207.4,735.1 208.4,734.6 209.4,733.9 210.3,733.2 211.3,732.2 212.3,731.1 213.2,729.7 214.2,728.0 215.2,726.1 216.1,723.8 217.1,721.0 218.1,717.8 219.1,714.0 220.0,709.7 221.0,704.7 222.0,699.1 222.9,692.8 223.9,685.9 224.9,678.3 225.9,670.2 226.8,661.6 227.8,652.8 228.8,643.8 229.7,634.8 230.7,625.9 231.7,617.4 232.7,609.3 233.6,601.7 234.6,594.7 235.6,588.4 236.5,582.7 237.5,577.6 238.5,573.2 239.4,569.3 240.4,565.9 241.4,563.0 242.4,560.6 243.3,558.5 244.3,556.7 245.3,555.2 246.2,553.9 247.2,552.8 248.2,551.9 249.2,551.2 250.1,550.5 251.1,550.0 252.1,549.6 253.0,549.2 254.0,548.9 255.0,548.7 255.9,548.4 256.9,548.3 257.9,548.1 258.9,548.0 259.8,547.9 260.8,547.8 261.8,547.7 262.7,547.7 263.7,547.6 264.7,547.6 265.7,547.6 266.6,547.5 267.6,547.5 268.6,547.5 269.5,547.5 270.5,547.5 271.5,547.5 272.4,547.4 273.4,547.4 274.4,547.4 275.4,547.4 276.3,547.4 277.3,547.4 278.3,547.4 279.2,547.4 280.2,547.4 281.2,547.4 282.2,547.4 283.1,547.4 284.1,547.4 285.1,547.4 286.0,547.4 287.0,547.4 288.0,547.4 288.9,547.4 289.9,547.4 290.9,547.4 291.9,547.4 292.8,547.4 293.8,547.4 294.8,547.4 295.7,547.4 296.7,547.4 297.7,547.4 298.7,547.4 299.6,547.4 300.6,547.4 301.6,547.4 302.5,547.4 303.5,547.4 304.5,547.4 305.5,547.4 306.4,547.4 307.4,547.4 308.4,547.4 309.3,547.4 310.3,547.4 311.3,547.4 312.2,547.4 313.2,547.4 314.2,547.4 315.2,547.4 316.1,547.4 317.1,547.4 318.1,547.4 319.0,547.5 320.0,547.5 321.0,547.5 322.0,547.5 322.9,547.5 323.9,547.5 324.9,547.5 325.8,547.5 326.8,547.5 327.8,547.5 328.7,547.5 329.7,547.5 330.7,547.5 331.7,547.5 332.6,547.5 333.6,547.5 334.6,547.5 335.5,547.5 336.5,547.5 337.5,547.5 338.5,547.6 339.4,547.6 340.4,547.6 341.4,547.6 342.3,547.6 343.3,547.6 344.3,547.6 345.2,547.6 346.2,547.6 347.2,547.6 348.2,547.6 349.1,547.6 350.1,547.6 351.1,547.6 352.0,547.6 353.0,547.6 354.0,547.6 355.0,547.6 355.9,547.7 356.9,547.7 357.9,547.7 358.8,547.7 359.8,547.7 360.8,547.7 361.7,547.7 362.7,547.7 363.7,547.7 364.7,547.7 365.6,547.7 366.6,547.7 367.6,547.7 368.5,547.7 369.5,547.7 370.5,547.8 371.5,547.8 372.4,547.8 373.4,547.8 374.4,547.8 375.3,547.8 376.3,547.8 377.3,547.8 378.3,547.8 379.2,547.8 380.2,547.8 381.2,547.8 382.1,547.8 383.1,547.8 384.1,547.8 385.0,547.9 386.0,547.9 387.0,547.9 388.0,547.9 388.9,547.9 389.9,547.9 390.9,547.9 391.8,547.9 392.8,547.9 393.8,547.9 394.8,547.9 395.7,547.9 396.7,547.9 397.7,547.9 398.6,548.0 399.6,548.0 400.6,548.0 401.5,548.0 402.5,548.0 403.5,548.0 404.5,548.0 405.4,548.0 406.4,548.0 407.4,548.0 408.3,548.0 409.3,548.0 410.3,548.0 411.3,548.1 412.2,548.1 413.2,548.1 414.2,548.1 415.1,548.1 416.1,548.1 417.1,548.1 418.0,548.1 419.0,548.1 420.0,548.1 421.0,548.1 421.9,548.1 422.9,548.1 423.9,548.2 424.8,548.2 425.8,548.2 426.8,548.2 427.8,548.2 428.7,548.2 429.7,548.2 430.7,548.2 431.6,548.2 432.6,548.2 433.6,548.2 434.5,548.2 435.5,548.3 436.5,548.3 437.5,548.3 438.4,548.3 439.4,548.3 440.4,548.3 441.3,548.3 442.3,548.3 443.3,548.3 444.3,548.3 445.2,548.3 446.2,548.3 447.2,548.4 448.1,548.4 449.1,548.4 450.1,548.4 451.1,548.4 452.0,548.4 453.0,548.4 454.0,548.4 454.9,548.4 455.9,548.4 456.9,548.4 457.8,548.4 458.8,548.5 459.8,548.5 460.8,548.5 461.7,548.5 462.7,548.5 463.7,548.5 464.6,548.5 465.6,548.5 466.6,548.5 467.6,548.5 468.5,548.5 469.5,548.6 470.5,548.6 471.4,548.6 472.4,548.6 473.4,548.6 474.3,548.6 475.3,548.6 476.3,548.6 477.3,548.6 478.2,548.6 479.2,548.6" fill="none" stroke="#ff0000" stroke-width="1.4" stroke-linejoin="round"/>
<polyline points="188.0,737.5 189.0,737.5 189.9,737.5 190.9,737.5 191.9,737.5 192.9,737.5 193.8,737.4 194.8,737.4 195.8,737.4 196.7,737.3 197.7,737.3 198.7,737.3 199.6,737.2 200.6,737.1 201.6,737.1 202.6,737.0 203.5,736.9 204.5,736.8 205.5,736.7 206.4,736.5 207.4,736.3 208.4,736.1 209.4,735.9 210.3,735.6 211.3,735.3 212.3,735.0 213.2,734.6 214.2,734.1 215.2,733.6 216.1,733.0 217.1,732.3 218.1,731.5 219.1,730.5 220.0,729.5 221.0,728.2 222.0,726.9 222.9,725.3 223.9,723.5 224.9,721.5 225.9,719.2 226.8,716.6 227.8,713.8 228.8,710.6 229.7,707.1 230.7,703.2 231.7,698.9 232.7,694.3 233.6,689.2 234.6,683.9 235.6,678.1 236.5,672.1 237.5,665.8 238.5,659.3 239.4,652.6 240.4,645.9 241.4,639.1 242.4,632.3 243.3,625.7 244.3,619.2 245.3,612.9 246.2,606.9 247.2,601.3 248.2,596.0 249.2,591.0 250.1,586.4 251.1,582.2 252.1,578.3 253.0,574.8 254.0,571.6 255.0,568.8 255.9,566.2 256.9,564.0 257.9,561.9 258.9,560.1 259.8,558.6 260.8,557.1 261.8,555.9 262.7,554.8 263.7,553.9 264.7,553.0 265.7,552.3 266.6,551.7 267.6,551.1 268.6,550.6 269.5,550.2 270.5,549.8 271.5,549.5 272.4,549.2 273.4,549.0 274.4,548.8 275.4,548.6 276.3,548.4 277.3,548.3 278.3,548.2 279.2,548.1 280.2,548.0 281.2,547.9 282.2,547.8 283.1,547.8 284.1,547.7 285.1,547.7 286.0,547.6 287.0,547.6 288.0,547.6 288.9,547.5 289.9,547.5 290.9,547.5 291.9,547.5 292.8,547.5 293.8,547.4 294.8,547.4 295.7,547.4 296.7,547.4 297.7,547.4 298.7,547.4 299.6,547.4 300.6,547.4 301.6,547.4 302.5,547.4 303.5,547.4 304.5,547.4 305.5,547.4 306.4,547.4 307.4,547.4 308.4,547.4 309.3,547.4 310.3,547.4 311.3,547.4 312.2,547.4 313.2,547.4 314.2,547.4 315.2,547.4 316.1,547.4 317.1,547.4 318.1,547.4 319.0,547.4 320.0,547.4 321.0,547.4 322.0,547.4 322.9,547.4 323.9,547.4 324.9,547.4 325.8,547.4 326.8,547.4 327.8,547.4 328.7,547.5 329.7,547.5 330.7,547.5 331.7,547.5 332.6,547.5 333.6,547.5 334.6,547.5 335.5,547.5 336.5,547.5 337.5,547.5 338.5,547.5 339.4,547.5 340.4,547.5 341.4,547.5 342.3,547.5 343.3,547.5 344.3,547.5 345.2,547.5 346.2,547.5 347.2,547.6 348.2,547.6 349.1,547.6 350.1,547.6 351.1,547.6 352.0,547.6 353.0,547.6 354.0,547.6 355.0,547.6 355.9,547.6 356.9,547.6 357.9,547.6 358.8,547.6 359.8,547.6 360.8,547.6 361.7,547.6 362.7,547.7 363.7,547.7 364.7,547.7 365.6,547.7 366.6,547.7 367.6,547.7 368.5,547.7 369.5,547.7 370.5,547.7 371.5,547.7 372.4,547.7 373.4,547.7 374.4,547.7 375.3,547.7 376.3,547.7 377.3,547.8 378.3,547.8 379.2,547.8 380.2,547.8 381.2,547.8 382.1,547.8 383.1,547.8 384.1,547.8 385.0,547.8 386.0,547.8 387.0,547.8 388.0,547.8 388.9,547.8 389.9,547.8 390.9,547.9 391.8,547.9 392.8,547.9 393.8,547.9 394.8,547.9 395.7,547.9 396.7,547.9 397.7,547.9 398.6,547.9 399.6,547.9 400.6,547.9 401.5,547.9 402.5,547.9 403.5,547.9 404.5,548.0 405.4,548.0 406.4,548.0 407.4,548.0 408.3,548.0 409.3,548.0 410.3,548.0 411.3,548.0 412.2,548.0 413.2,548.0 414.2,548.0 415.1,548.0 416.1,548.0 417.1,548.1 418.0,548.1 419.0,548.1 420.0,548.1 421.0,548.1 421.9,548.1 422.9,548.1 423.9,548.1 424.8,548.1 425.8,548.1 426.8,548.1 427.8,548.1 428.7,548.1 429.7,548.2 430.7,548.2 431.6,548.2 432.6,548.2 433.6,548.2 434.5,548.2 435.5,548.2 436.5,548.2 437.5,548.2 438.4,548.2 439.4,548.2 440.4,548.2 441.3,548.3 442.3,548.3 443.3,548.3 444.3,548.3 445.2,548.3 446.2,548.3 447.2,548.3 448.1,548.3 449.1,548.3 450.1,548.3 451.1,548.3 452.0,548.3 453.0,548.4 454.0,548.4 454.9,548.4 455.9,548.4 456.9,548.4 457.8,548.4 458.8,548.4 459.8,548.4 460.8,548.4 461.7,548.4 462.7,548.4 463.7,548.5 464.6,548.5 465.6,548.5 466.6,548.5 467.6,548.5 468.5,548.5 469.5,548.5 470.5,548.5 471.4,548.5 472.4,548.5 473.4,548.5 474.3,548.5 475.3,548.6 476.3,548.6 477.3,548.6 478.2,548.6 479.2,548.6" fill="none" stroke="#edb120" stroke-width="1.4" stroke-linejoin="round"/>
<polyline points="188.0,737.5 189.0,737.5 189.9,737.5 190.9,737.5 191.9,737.5 192.9,737.5 193.8,737.5 194.8,737.5 195.8,737.4 196.7,737.4 197.7,737.4 198.7,737.4 199.6,737.3 200.6,737.3 201.6,737.2 202.6,737.2 203.5,737.1 204.5,737.1 205.5,737.0 206.4,736.9 207.4,736.8 208.4,736.7 209.4,736.5 210.3,736.4 211.3,736.2 212.3,736.0 213.2,735.8 214.2,735.5 215.2,735.2 216.1,734.9 217.1,734.5 218.1,734.0 219.1,733.5 220.0,732.9 221.0,732.3 222.0,731.5 222.9,730.7 223.9,729.7 224.9,728.7 225.9,727.4 226.8,726.1 227.8,724.5 228.8,722.8 229.7,720.9 230.7,718.8 231.7,716.4 232.7,713.7 233.6,710.8 234.6,707.7 235.6,704.2 236.5,700.4 237.5,696.4 238.5,692.0 239.4,687.3 240.4,682.3 241.4,677.1 242.4,671.7 243.3,666.0 244.3,660.2 245.3,654.2 246.2,648.2 247.2,642.1 248.2,636.0 249.2,630.1 250.1,624.2 251.1,618.5 252.1,612.9 253.0,607.6 254.0,602.5 255.0,597.7 255.9,593.2 256.9,589.0 257.9,585.0 258.9,581.4 259.8,578.0 260.8,575.0 261.8,572.1 262.7,569.6 263.7,567.2 264.7,565.1 265.7,563.2 266.6,561.5 267.6,559.9 268.6,558.6 269.5,557.3 270.5,556.2 271.5,555.2 272.4,554.3 273.4,553.5 274.4,552.8 275.4,552.2 276.3,551.7 277.3,551.2 278.3,550.7 279.2,550.3 280.2,550.0 281.2,549.7 282.2,549.4 283.1,549.2 284.1,549.0 285.1,548.8 286.0,548.6 287.0,548.5 288.0,548.3 288.9,548.2 289.9,548.1 290.9,548.0 291.9,548.0 292.8,547.9 293.8,547.8 294.8,547.8 295.7,547.7 296.7,547.7 297.7,547.6 298.7,547.6 299.6,547.6 300.6,547.6 301.6,547.5 302.5,547.5 303.5,547.5 304.5,547.5 305.5,547.5 306.4,547.5 307.4,547.4 308.4,547.4 309.3,547.4 310.3,547.4 311.3,547.4 312.2,547.4 313.2,547.4 314.2,547.4 315.2,547.4 316.1,547.4 317.1,547.4 318.1,547.4 319.0,547.4 320.0,547.4 321.0,547.4 322.0,547.4 322.9,547.4 323.9,547.4 324.9,547.4 325.8,547.4 326.8,547.4 327.8,547.5 328.7,547.5 329.7,547.5 330.7,547.5 331.7,547.5 332.6,547.5 333.6,547.5 334.6,547.5 335.5,547.5 336.5,547.5 337.5,547.5 338.5,547.5 339.4,547.5 340.4,547.5 341.4,547.5 342.3,547.5 343.3,547.5 344.3,547.5 345.2,547.5 346.2,547.5 347.2,547.6 348.2,547.6 349.1,547.6 350.1,547.6 351.1,547.6 352.0,547.6 353.0,547.6 354.0,547.6 355.0,547.6 355.9,547.6 356.9,547.6 357.9,547.6 358.8,547.6 359.8,547.6 360.8,547.6 361.7,547.6 362.7,547.7 363.7,547.7 364.7,547.7 365.6,547.7 366.6,547.7 367.6,547.7 368.5,547.7 369.5,547.7 370.5,547.7 371.5,547.7 372.4,547.7 373.4,547.7 374.4,547.7 375.3,547.7 376.3,547.7 377.3,547.8 378.3,547.8 379.2,547.8 380.2,547.8 381.2,547.8 382.1,547.8 383.1,547.8 384.1,547.8 385.0,547.8 386.0,547.8 387.0,547.8 388.0,547.8 388.9,547.8 389.9,547.8 390.9,547.9 391.8,547.9 392.8,547.9 393.8,547.9 394.8,547.9 395.7,547.9 396.7,547.9 397.7,547.9 398.6,547.9 399.6,547.9 400.6,547.9 401.5,547.9 402.5,547.9 403.5,547.9 404.5,548.0 405.4,548.0 406.4,548.0 407.4,548.0 408.3,548.0 409.3,548.0 410.3,548.0 411.3,548.0 412.2,548.0 413.2,548.0 414.2,548.0 415.1,548.0 416.1,548.0 417.1,548.1 418.0,548.1 419.0,548.1 420.0,548.1 421.0,548.1 421.9,548.1 422.9,548.1 423.9,548.1 424.8,548.1 425.8,548.1 426.8,548.1 427.8,548.1 428.7,548.1 429.7,548.2 430.7,548.2 431.6,548.2 432.6,548.2 433.6,548.2 434.5,548.2 435.5,548.2 436.5,548.2 437.5,548.2 438.4,548.2 439.4,548.2 440.4,548.2 441.3,548.3 442.3,548.3 443.3,548.3 444.3,548.3 445.2,548.3 446.2,548.3 447.2,548.3 448.1,548.3 449.1,548.3 450.1,548.3 451.1,548.3 452.0,548.3 453.0,548.4 454.0,548.4 454.9,548.4 455.9,548.4 456.9,548.4 457.8,548.4 458.8,548.4 459.8,548.4 460.8,548.4 461.7,548.4 462.7,548.4 463.7,548.5 464.6,548.5 465.6,548.5 466.6,548.5 467.6,548.5 468.5,548.5 469.5,548.5 470.5,548.5 471.4,548.5 472.4,548.5 473.4,548.5 474.3,548.5 475.3,548.6 476.3,548.6 477.3,548.6 478.2,548.6 479.2,548.6" fill="none" stroke="#000000" stroke-width="1.4" stroke-linejoin="round"/>
<polyline points="188.0,737.3 189.0,737.3 189.9,737.3 190.9,737.3 191.9,737.3 192.9,737.2 193.8,737.2 194.8,737.2 195.8,737.2 196.7,737.1 197.7,737.1 198.7,737.0 199.6,737.0 200.6,737.0 201.6,736.9 202.6,736.9 203.5,736.8 204.5,736.7 205.5,736.7 206.4,736.6 207.4,736.5 208.4,736.5 209.4,736.4 210.3,736.3 211.3,736.2 212.3,736.1 213.2,736.0 214.2,735.8 215.2,735.7 216.1,735.6 217.1,735.4 218.1,735.2 219.1,735.1 220.0,734.9 221.0,734.7 222.0,734.4 222.9,734.2 223.9,734.0 224.9,733.7 225.9,733.4 226.8,733.1 227.8,732.7 228.8,732.4 229.7,732.0 230.7,731.6 231.7,731.1 232.7,730.6 233.6,730.1 234.6,729.5 235.6,729.0 236.5,728.3 237.5,727.6 238.5,726.9 239.4,726.1 240.4,725.3 241.4,724.3 242.4,723.4 243.3,722.3 244.3,721.2 245.3,720.0 246.2,718.8 247.2,717.4 248.2,716.0 249.2,714.4 250.1,712.8 251.1,711.0 252.1,709.2 253.0,707.2 254.0,705.1 255.0,702.9 255.9,700.5 256.9,698.0 257.9,695.4 258.9,692.7 259.8,689.8 260.8,686.7 261.8,683.5 262.7,680.2 263.7,676.7 264.7,673.2 265.7,669.4 266.6,665.6 267.6,661.7 268.6,657.6 269.5,653.5 270.5,649.3 271.5,645.0 272.4,640.7 273.4,636.4 274.4,632.1 275.4,627.8 276.3,623.5 277.3,619.3 278.3,615.2 279.2,611.1 280.2,607.1 281.2,603.3 282.2,599.6 283.1,596.0 284.1,592.6 285.1,589.3 286.0,586.2 287.0,583.3 288.0,580.5 288.9,577.9 289.9,575.4 290.9,573.1 291.9,571.0 292.8,569.0 293.8,567.2 294.8,565.5 295.7,563.9 296.7,562.4 297.7,561.1 298.7,559.9 299.6,558.7 300.6,557.7 301.6,556.8 302.5,555.9 303.5,555.1 304.5,554.4 305.5,553.7 306.4,553.1 307.4,552.6 308.4,552.1 309.3,551.7 310.3,551.3 311.3,550.9 312.2,550.6 313.2,550.3 314.2,550.0 315.2,549.7 316.1,549.5 317.1,549.3 318.1,549.1 319.0,549.0 320.0,548.8 321.0,548.7 322.0,548.6 322.9,548.5 323.9,548.4 324.9,548.3 325.8,548.2 326.8,548.1 327.8,548.1 328.7,548.0 329.7,548.0 330.7,547.9 331.7,547.9 332.6,547.8 333.6,547.8 334.6,547.8 335.5,547.8 336.5,547.7 337.5,547.7 338.5,547.7 339.4,547.7 340.4,547.7 341.4,547.7 342.3,547.7 343.3,547.7 344.3,547.6 345.2,547.6 346.2,547.6 347.2,547.6 348.2,547.6 349.1,547.6 350.1,547.6 351.1,547.6 352.0,547.6 353.0,547.6 354.0,547.6 355.0,547.6 355.9,547.6 356.9,547.6 357.9,547.6 358.8,547.7 359.8,547.7 360.8,547.7 361.7,547.7 362.7,547.7 363.7,547.7 364.7,547.7 365.6,547.7 366.6,547.7 367.6,547.7 368.5,547.7 369.5,547.7 370.5,547.7 371.5,547.7 372.4,547.7 373.4,547.7 374.4,547.7 375.3,547.7 376.3,547.7 377.3,547.8 378.3,547.8 379.2,547.8 380.2,547.8 381.2,547.8 382.1,547.8 383.1,547.8 384.1,547.8 385.0,547.8 386.0,547.8 387.0,547.8 388.0,547.8 388.9,547.8 389.9,547.8 390.9,547.9 391.8,547.9 392.8,547.9 393.8,547.9 394.8,547.9 395.7,547.9 396.7,547.9 397.7,547.9 398.6,547.9 399.6,547.9 400.6,547.9 401.5,547.9 402.5,547.9 403.5,547.9 404.5,548.0 405.4,548.0 406.4,548.0 407.4,548.0 408.3,548.0 409.3,548.0 410.3,548.0 411.3,548.0 412.2,548.0 413.2,548.0 414.2,548.0 415.1,548.0 416.1,548.0 417.1,548.1 418.0,548.1 419.0,548.1 420.0,548.1 421.0,548.1 421.9,548.1 422.9,548.1 423.9,548.1 424.8,548.1 425.8,548.1 426.8,548.1 427.8,548.1 428.7,548.1 429.7,548.2 430.7,548.2 431.6,548.2 432.6,548.2 433.6,548.2 434.5,548.2 435.5,548.2 436.5,548.2 437.5,548.2 438.4,548.2 439.4,548.2 440.4,548.2 441.3,548.3 442.3,548.3 443.3,548.3 444.3,548.3 445.2,548.3 446.2,548.3 447.2,548.3 448.1,548.3 449.1,548.3 450.1,548.3 451.1,548.3 452.0,548.3 453.0,548.4 454.0,548.4 454.9,548.4 455.9,548.4 456.9,548.4 457.8,548.4 458.8,548.4 459.8,548.4 460.8,548.4 461.7,548.4 462.7,548.4 463.7,548.5 464.6,548.5 465.6,548.5 466.6,548.5 467.6,548.5 468.5,548.5 469.5,548.5 470.5,548.5 471.4,548.5 472.4,548.5 473.4,548.5 474.3,548.5 475.3,548.6 476.3,548.6 477.3,548.6 478.2,548.6 479.2,548.6" fill="none" stroke="#77ac30" stroke-width="1.4" stroke-linejoin="round"/>
<rect x="188.00" y="546.40" width="291.20" height="191.20" fill="none" stroke="#555555" stroke-width="0.75"/>
<rect x="373.0" y="551.3" width="101.70" height="44.00" fill="#fff" stroke="#262626" stroke-width="0.6"/>
<line x1="375.8" y1="557.4" x2="393.9" y2="557.4" stroke="#0000ff" stroke-width="1.4"/>
<text x="395.1" y="559.00" font-size="4.7" fill="#000" textLength="36.70" lengthAdjust="spacingAndGlyphs">Baseline values of</text>
<text x="434.3" y="559.00" font-size="5.40" fill="#444" font-family='"Liberation Serif", serif' font-style="italic" textLength="21.50" lengthAdjust="spacingAndGlyphs">β<tspan font-size="3.35" dy="1.35">1</tspan><tspan dy="-1.35">, β</tspan><tspan font-size="3.35" dy="1.35">2</tspan><tspan dy="-1.35">, β</tspan><tspan font-size="3.35" dy="1.35">3</tspan></text>
<line x1="375.8" y1="566.4" x2="393.9" y2="566.4" stroke="#ff0000" stroke-width="1.4"/>
<text x="395.1" y="568.00" font-size="4.7" fill="#000" textLength="72.20" lengthAdjust="spacingAndGlyphs">with 10% increase in contact rates</text>
<line x1="375.8" y1="574.7" x2="393.9" y2="574.7" stroke="#edb120" stroke-width="1.4"/>
<text x="395.1" y="576.30" font-size="4.7" fill="#000" textLength="72.20" lengthAdjust="spacingAndGlyphs">with 20% increase in contact rates</text>
<line x1="375.8" y1="582.9" x2="393.9" y2="582.9" stroke="#000000" stroke-width="1.4"/>
<text x="395.1" y="584.50" font-size="4.7" fill="#000" textLength="72.20" lengthAdjust="spacingAndGlyphs">with 40% increase in contact rates</text>
<line x1="375.8" y1="590.8" x2="393.9" y2="590.8" stroke="#77ac30" stroke-width="1.4"/>
<text x="395.1" y="592.40" font-size="4.7" fill="#000" textLength="72.20" lengthAdjust="spacingAndGlyphs">with 50% increase in contact rates</text>
<text x="322.10" y="542.20" font-size="11.2" fill="#333" font-family='"Liberation Serif", serif' font-style="italic">ϑ</text>
<text x="328.50" y="542.20" font-size="10" font-weight="bold" fill="#000">=01</text>
<text x="303.20" y="758.00" font-size="10.5" fill="#000" textLength="61.10" lengthAdjust="spacingAndGlyphs">Time in Days</text>
<text transform="translate(174.60,707.70) rotate(-90)" x="0" y="0" font-size="10.6" fill="#000" textLength="131.50" lengthAdjust="spacingAndGlyphs">Infected non-human class, I<tspan font-size="7.8" dy="4.9">r</tspan></text>
<text x="328.60" y="776.50" font-size="15.3" text-anchor="middle" font-family='"Liberation Serif", serif' fill="#000">(e)</text></g>
</svg></body></html>
